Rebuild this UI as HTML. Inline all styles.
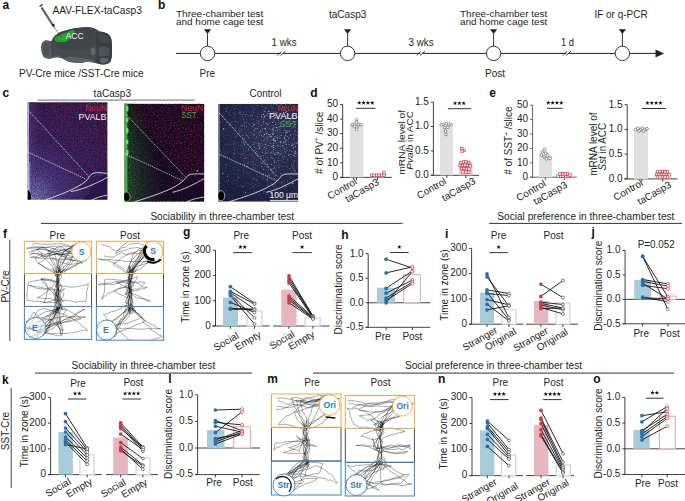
<!DOCTYPE html>
<html><head><meta charset="utf-8"><style>
html,body{margin:0;padding:0;background:#fff;}
svg{display:block;}
text{font-family:"Liberation Sans", sans-serif;}
</style></head><body>
<svg width="685" height="501" viewBox="0 0 685 501" font-family='"Liberation Sans", sans-serif'>
<defs><filter id="nR" x="0" y="0" width="100%" height="100%" color-interpolation-filters="sRGB">
<feTurbulence type="fractalNoise" baseFrequency="0.75" numOctaves="2" seed="4" result="t"/>
<feColorMatrix in="t" type="matrix" values="0 0 0 0 0.6  0 0 0 0 0.08  0 0 0 0 0.3  3.0 0 0 0 -1.4"/></filter>
<filter id="nR2" x="0" y="0" width="100%" height="100%" color-interpolation-filters="sRGB">
<feTurbulence type="fractalNoise" baseFrequency="0.7" numOctaves="2" seed="7" result="t"/>
<feColorMatrix in="t" type="matrix" values="0 0 0 0 0.72  0 0 0 0 0.1  0 0 0 0 0.2  2.8 0 0 0 -1.5"/></filter>
<filter id="nB" x="0" y="0" width="100%" height="100%" color-interpolation-filters="sRGB">
<feTurbulence type="fractalNoise" baseFrequency="0.8" numOctaves="1" seed="9" result="t"/>
<feColorMatrix in="t" type="matrix" values="0 0 0 0 0.28  0 0 0 0 0.22  0 0 0 0 0.62  0 0 3.2 0 -1.35"/></filter>
<filter id="nW" x="0" y="0" width="100%" height="100%" color-interpolation-filters="sRGB">
<feTurbulence type="fractalNoise" baseFrequency="0.9" numOctaves="1" seed="21" result="t"/>
<feColorMatrix in="t" type="matrix" values="0 0 0 0 0.85  0 0 0 0 0.87  0 0 0 0 0.92  0 5 0 0 -3.1"/></filter>
<filter id="nD" x="0" y="0" width="100%" height="100%" color-interpolation-filters="sRGB">
<feTurbulence type="fractalNoise" baseFrequency="0.85" numOctaves="1" seed="13" result="t"/>
<feColorMatrix in="t" type="matrix" values="0 0 0 0 0.05  0 0 0 0 0.03  0 0 0 0 0.1  0 0 0 3 -1.2"/></filter>
<filter id="blur4" x="-30%" y="-30%" width="160%" height="160%"><feGaussianBlur stdDeviation="4"/></filter>
<linearGradient id="mTR" gradientUnits="objectBoundingBox" x1="0" y1="1" x2="0.7" y2="0">
<stop offset="0" stop-color="#fff" stop-opacity="0.15"/><stop offset="0.55" stop-color="#fff" stop-opacity="0.6"/><stop offset="1" stop-color="#fff" stop-opacity="1"/></linearGradient>
<radialGradient id="g1" gradientUnits="userSpaceOnUse" cx="29" cy="200" r="100">
<stop offset="0" stop-color="#b4b4da"/><stop offset="0.12" stop-color="#7a78b4"/><stop offset="0.3" stop-color="#4a4088"/><stop offset="0.6" stop-color="#30245a"/><stop offset="1" stop-color="#261a46"/></radialGradient>
<linearGradient id="g1b" gradientUnits="userSpaceOnUse" x1="27" y1="100" x2="107" y2="100">
<stop offset="0" stop-color="#7a76b8" stop-opacity="0.45"/><stop offset="0.18" stop-color="#4a3c8c" stop-opacity="0"/></linearGradient>
<linearGradient id="g2g" gradientUnits="userSpaceOnUse" x1="124" y1="0" x2="170" y2="0">
<stop offset="0" stop-color="#2a8a3a" stop-opacity="0.85"/><stop offset="0.3" stop-color="#1f6a32" stop-opacity="0.55"/><stop offset="1" stop-color="#1a3a28" stop-opacity="0.05"/></linearGradient>
<linearGradient id="g2v" gradientUnits="userSpaceOnUse" x1="0" y1="104" x2="0" y2="202">
<stop offset="0" stop-color="#000" stop-opacity="0.55"/><stop offset="0.5" stop-color="#000" stop-opacity="0.15"/><stop offset="1" stop-color="#000" stop-opacity="0"/></linearGradient>
<radialGradient id="g3" gradientUnits="userSpaceOnUse" cx="270" cy="140" r="65">
<stop offset="0" stop-color="#2e3752"/><stop offset="1" stop-color="#161c34"/></radialGradient>
<radialGradient id="mW" gradientUnits="userSpaceOnUse" cx="275" cy="135" r="55">
<stop offset="0" stop-color="#fff" stop-opacity="1"/><stop offset="1" stop-color="#fff" stop-opacity="0.25"/></radialGradient></defs>
<rect width="685" height="501" fill="#fff"/>
<text x="2.4" y="8.6" font-size="12" text-anchor="start" font-weight="bold" fill="#111">a</text>
<text x="158" y="8.6" font-size="12" text-anchor="start" font-weight="bold" fill="#111">b</text>
<text x="2.6" y="96.6" font-size="12" text-anchor="start" font-weight="bold" fill="#111">c</text>
<text x="310.2" y="96.8" font-size="12" text-anchor="start" font-weight="bold" fill="#111">d</text>
<text x="489.2" y="96.6" font-size="12" text-anchor="start" font-weight="bold" fill="#111">e</text>
<text x="3" y="238" font-size="12" text-anchor="start" font-weight="bold" fill="#111">f</text>
<text x="183.0" y="236.1" font-size="12" text-anchor="start" font-weight="bold" fill="#111">g</text>
<text x="341.3" y="238.6" font-size="12" text-anchor="start" font-weight="bold" fill="#111">h</text>
<text x="445" y="238.2" font-size="12" text-anchor="start" font-weight="bold" fill="#111">i</text>
<text x="591.6" y="236.2" font-size="12" text-anchor="start" font-weight="bold" fill="#111">j</text>
<text x="2.0" y="383.5" font-size="12" text-anchor="start" font-weight="bold" fill="#111">k</text>
<text x="168.3" y="382.6" font-size="12" text-anchor="start" font-weight="bold" fill="#111">l</text>
<text x="267.2" y="383.4" font-size="12" text-anchor="start" font-weight="bold" fill="#111">m</text>
<text x="438" y="383.4" font-size="12" text-anchor="start" font-weight="bold" fill="#111">n</text>
<text x="593.2" y="383" font-size="12" text-anchor="start" font-weight="bold" fill="#111">o</text>
<g>
<path d="M41.3,46.5 C41.5,43 43.5,40.8 45.5,40.6 C47.5,40.4 49.5,40.8 51,41.2 C52,40 52.5,39 53.2,37.8 C56,34.5 59,32.6 63,31.3 C68,29.6 72,28.4 77,27.9 C81,27.4 85,27.1 88.1,27.3 C92,27.6 94.5,28.4 96.5,29.4 C98,30.3 98.6,31 99.3,31.5 C102.5,31.8 105.5,32.4 107.7,33.8 C110.3,35.8 111.3,38 111.6,41 C112.1,45 112.2,49 111.9,53.1 C111.7,57 111.5,59.5 110.5,61.5 C109,63.5 106.5,64.4 103.5,64.4 C100.5,64.4 97.8,63.7 95.1,62.9 C92.5,62.2 90.3,61.4 88.1,61.5 C85.5,61.7 83.5,62.9 81.2,62.9 C77.5,62.9 74.5,62.6 71.4,62.2 C68,61.6 65.5,60.2 63,58.7 C60.5,57.7 58.5,57.3 56,57.3 C54,57.4 52.2,58.4 50.4,58.7 C48,58.9 45.5,58.2 43.8,57 C42,55 41.2,50.5 41.3,46.5 Z" fill="#454b4f"/>
<path d="M41.3,46.5 C41.5,43 43.5,40.8 45.5,40.6 C47.5,40.4 49.5,40.8 51,41.2 C50.5,43.5 50.3,46 50.6,48.5 C50.9,51.5 51.5,54.5 52.5,57.6 C51.8,58.2 51,58.6 50.4,58.7 C48,58.9 45.5,58.2 43.8,57 C42,55 41.2,50.5 41.3,46.5Z" fill="#565e62"/>
<path d="M43,47 C43.2,44.5 44.5,43 46,42.8 C47.5,42.8 48.5,43.5 48.8,45 C48.9,48 49.2,51 49.8,54.5 C48.5,55.3 46.5,55.3 45,54.6 C43.6,52.8 42.9,50 43,47Z" fill="#4c5357"/>
<path d="M53.2,37.8 C56,34.5 59,32.6 63,31.3 C68,29.6 72,28.4 77,27.9 C81,27.4 85,27.1 88.1,27.3 C92,27.6 94.5,28.4 96.5,29.4 C95,30.5 94.2,33 94,36 C93.8,40 93.6,44 93.7,46.2 C90,48 84,49.5 78,50 C70,50.5 62,49.5 56,47 C54.5,44 53.6,41 53.2,37.8Z" fill="#3f4549"/>
<path d="M96.5,29.4 C98,30.3 98.6,31 99.3,31.5 C102.5,31.8 105.5,32.4 107.7,33.8 C110.3,35.8 111.3,38 111.6,41 C112.1,45 112.2,49 111.9,53.1 C111.7,57 111.5,59.5 110.5,61.5 C109,63.5 106.5,64.4 103.5,64.4 C100.5,64.4 97.8,63.7 95.6,62.6 C96.5,58 96.8,53 96.2,48 C95.5,42 95,36 96.5,29.4Z" fill="#383e42"/>
<path d="M99,34 C102,33.5 105.5,34.5 107.5,36.5 C109,38.5 109.5,41 109.5,43.5 C106.5,43 103,42.5 100,43 C99,40 98.6,37 99,34Z" fill="#41474b"/>
<path d="M99,47 C102,46 106,46.5 109.5,48 C110,51 109.8,54 109,56.5 C106,55.8 102.5,56 99.5,57 C98.8,53.5 98.6,50 99,47Z" fill="#4d5458"/>
<path d="M100,58.5 C103,57.8 106.5,58 108.8,59.2 C108,61.8 106,63.2 103.5,63.3 C101.5,63.3 100.5,62.5 100,61Z" fill="#5b6367"/>
<path d="M91,48 C92.8,47 94.8,47.3 95.4,49 C95.8,51.5 95.4,54 94.2,55.5 C92.5,55.8 91.2,54.5 90.8,52.5 C90.6,51 90.6,49.5 91,48Z" fill="#5e666a"/>
<path d="M63,58.7 C66,57 70,56.5 74,57 C79,57.5 84,58.5 88,59 C90.5,59.3 92.5,60 94,61 C93,62.5 92,62.8 91,62.5 C90,61.8 89,61.4 88.1,61.5 C85.5,61.7 83.5,62.9 81.2,62.9 C77.5,62.9 74.5,62.6 71.4,62.2 C68,61.6 65.5,60.2 63,58.7Z" fill="#5a6266"/>
<path d="M52.5,57.6 C54,55.5 56.5,54.5 59,55 C61,55.5 62.2,57 63,58.7 C60.5,57.7 58.5,57.3 56,57.3 C54.5,57.4 53.5,57.5 52.5,57.6Z" fill="#52595d"/>
<path d="M54.6,37.3 C57,36 59,35.2 61.3,34.5 C65,33 70,30.8 73.5,30.1 C74.4,30.3 74.8,30.8 74.6,31.5 C73.5,33.5 72.5,35.8 71.3,37.3 C70,38.8 69,39.8 68,40.6 C66.5,41.5 65,42 63.5,42.3 C61,42.4 58,42.2 55.8,41.8 C54.8,40.5 54.3,38.5 54.6,37.3Z" fill="#27a12a"/>
<path d="M58,38.5 C61,37 65,35.5 69,34 C67.5,36.5 66,38.5 63.5,40 C61.5,40.5 59.5,40 58,38.5Z" fill="#33b236" opacity="0.6"/>
</g>
<line x1="53" y1="25.5" x2="61.6" y2="37.8" stroke="#2a2a2a" stroke-width="0.55"/>
<line x1="41.6" y1="7.6" x2="53.4" y2="26" stroke="#9a9a9a" stroke-width="2.0"/>
<line x1="41.6" y1="7.6" x2="53.4" y2="26" stroke="#1a1a1a" stroke-width="2.0" stroke-dasharray="0.5 0.6"/>
<line x1="39.6" y1="6.6" x2="42.6" y2="4.6" stroke="#1a1a1a" stroke-width="1.2"/>
<path d="M51.6,25.2 L54.4,23.4 L54.6,27.6 Z" fill="#1a1a1a"/>
<text x="65.7" y="38.6" font-size="8.6" text-anchor="start" font-weight="normal" fill="#f4f4f4" textLength="17.8" lengthAdjust="spacingAndGlyphs">ACC</text>
<text x="52.4" y="14" font-size="10" text-anchor="start" font-weight="normal" fill="#231f20" textLength="89.6" lengthAdjust="spacingAndGlyphs">AAV-FLEX-taCasp3</text>
<text x="19" y="77" font-size="10" text-anchor="start" font-weight="normal" fill="#231f20" textLength="124.6" lengthAdjust="spacingAndGlyphs">PV-Cre mice /SST-Cre mice</text>
<line x1="176.00" y1="53.40" x2="657.00" y2="53.40" stroke="#231f20" stroke-width="1"/>
<path d="M655.5,49.4 L664,53.4 L655.5,57.4 Z" fill="#231f20"/>
<circle cx="207.50" cy="53.40" r="7.20" fill="white" stroke="#231f20" stroke-width="0.9"/>
<line x1="207.50" y1="33.50" x2="207.50" y2="46.20" stroke="#231f20" stroke-width="0.9"/>
<path d="M203.9,29.2 L211.1,29.2 L207.5,33.9 Z" fill="#231f20"/>
<circle cx="347.60" cy="53.40" r="7.20" fill="white" stroke="#231f20" stroke-width="0.9"/>
<line x1="347.60" y1="33.50" x2="347.60" y2="46.20" stroke="#231f20" stroke-width="0.9"/>
<path d="M344.0,29.2 L351.20000000000005,29.2 L347.6,33.9 Z" fill="#231f20"/>
<circle cx="493.60" cy="53.40" r="7.20" fill="white" stroke="#231f20" stroke-width="0.9"/>
<line x1="493.60" y1="33.50" x2="493.60" y2="46.20" stroke="#231f20" stroke-width="0.9"/>
<path d="M490.0,29.2 L497.20000000000005,29.2 L493.6,33.9 Z" fill="#231f20"/>
<circle cx="622.40" cy="53.40" r="7.20" fill="white" stroke="#231f20" stroke-width="0.9"/>
<line x1="622.40" y1="33.50" x2="622.40" y2="46.20" stroke="#231f20" stroke-width="0.9"/>
<path d="M618.8,29.2 L626.0,29.2 L622.4,33.9 Z" fill="#231f20"/>
<path d="M279.6,55.0 L282.1,51.8 L283.9,51.8 L281.4,55.0 Z" fill="white"/>
<line x1="277.40" y1="55.50" x2="281.40" y2="51.30" stroke="#231f20" stroke-width="0.9"/>
<line x1="280.60" y1="55.50" x2="285.40" y2="51.30" stroke="#231f20" stroke-width="0.9"/>
<path d="M419.1,55.0 L421.6,51.8 L423.4,51.8 L420.9,55.0 Z" fill="white"/>
<line x1="416.90" y1="55.50" x2="420.90" y2="51.30" stroke="#231f20" stroke-width="0.9"/>
<line x1="420.10" y1="55.50" x2="424.90" y2="51.30" stroke="#231f20" stroke-width="0.9"/>
<path d="M565.1,55.0 L567.6,51.8 L569.4,51.8 L566.9,55.0 Z" fill="white"/>
<line x1="562.90" y1="55.50" x2="566.90" y2="51.30" stroke="#231f20" stroke-width="0.9"/>
<line x1="566.10" y1="55.50" x2="570.90" y2="51.30" stroke="#231f20" stroke-width="0.9"/>
<text x="176" y="17.4" font-size="9.6" text-anchor="start" font-weight="normal" fill="#231f20" textLength="87.4" lengthAdjust="spacingAndGlyphs">Three-chamber test</text>
<text x="176" y="25" font-size="9.6" text-anchor="start" font-weight="normal" fill="#231f20" textLength="87.4" lengthAdjust="spacingAndGlyphs">and home cage test</text>
<text x="460" y="17.4" font-size="9.6" text-anchor="start" font-weight="normal" fill="#231f20" textLength="87.4" lengthAdjust="spacingAndGlyphs">Three-chamber test</text>
<text x="460" y="25" font-size="9.6" text-anchor="start" font-weight="normal" fill="#231f20" textLength="87.4" lengthAdjust="spacingAndGlyphs">and home cage test</text>
<text x="329" y="17.6" font-size="10" text-anchor="start" font-weight="normal" fill="#231f20" textLength="37.4" lengthAdjust="spacingAndGlyphs">taCasp3</text>
<text x="594.4" y="17.6" font-size="10" text-anchor="start" font-weight="normal" fill="#231f20" textLength="53.2" lengthAdjust="spacingAndGlyphs">IF or q-PCR</text>
<text x="207.3" y="76.8" font-size="10" text-anchor="middle" font-weight="normal" fill="#231f20">Pre</text>
<text x="495" y="76.6" font-size="10" text-anchor="middle" font-weight="normal" fill="#231f20">Post</text>
<text x="271.5" y="45.5" font-size="10" text-anchor="start" font-weight="normal" fill="#231f20" textLength="25.1" lengthAdjust="spacingAndGlyphs">1 wks</text>
<text x="408.5" y="45.5" font-size="10" text-anchor="start" font-weight="normal" fill="#231f20" textLength="25.1" lengthAdjust="spacingAndGlyphs">3 wks</text>
<text x="561" y="45.5" font-size="10" text-anchor="start" font-weight="normal" fill="#231f20" textLength="13" lengthAdjust="spacingAndGlyphs">1 d</text>
<text x="93.6" y="96.5" font-size="10" text-anchor="start" font-weight="normal" fill="#231f20" textLength="37.4" lengthAdjust="spacingAndGlyphs">taCasp3</text>
<text x="249.6" y="97" font-size="10" text-anchor="start" font-weight="normal" fill="#231f20" textLength="31.8" lengthAdjust="spacingAndGlyphs">Control</text>
<line x1="37.90" y1="100.10" x2="194.60" y2="100.10" stroke="#8a8a8a" stroke-width="1.1"/>
<clipPath id="c1"><rect x="27.5" y="102.2" width="80.0" height="97.60000000000001"/></clipPath>
<mask id="m1" maskUnits="userSpaceOnUse" x="27.5" y="102.2" width="80.0" height="97.60000000000001"><rect x="27.5" y="102.2" width="80.0" height="97.60000000000001" fill="url(#mTR)"/></mask>
<g clip-path="url(#c1)">
<rect x="27.50" y="102.20" width="80.00" height="97.60" fill="url(#g1)" stroke="none" stroke-width="1"/>
<rect x="27.50" y="102.20" width="80.00" height="97.60" fill="url(#g1b)" stroke="none" stroke-width="1"/>
<rect x="27.5" y="102.2" width="80.0" height="97.60000000000001" filter="url(#nB)" opacity="0.55"/>
<rect x="27.5" y="102.2" width="80.0" height="97.60000000000001" filter="url(#nD)" opacity="0.5"/>
<rect x="27.5" y="102.2" width="80.0" height="97.60000000000001" filter="url(#nR)" mask="url(#m1)"/>
<path d="M82.5,199.8 C95.5,191.8 87.5,181.8 107.5,173.8 L107.5,199.8 Z" fill="#1a1240" opacity="0.55"/>
<rect x="27.50" y="102.20" width="1.30" height="97.60" fill="#d0ccf0" stroke="none" stroke-width="1"/>
<rect x="28.80" y="162.20" width="1.50" height="37.60" fill="#a8a0e0" stroke="none" stroke-width="1" opacity="0.6"/>
<path d="M27.5,189.8 C31.5,191.8 31.5,197.8 30.5,199.8 L27.5,199.8 Z" fill="#000"/>
</g>
<clipPath id="c2"><rect x="124.2" y="103.8" width="80.10000000000001" height="97.89999999999999"/></clipPath>
<mask id="m2" maskUnits="userSpaceOnUse" x="124.2" y="103.8" width="80.10000000000001" height="97.89999999999999"><rect x="124.2" y="103.8" width="80.10000000000001" height="97.89999999999999" fill="url(#mTR)"/></mask>
<g clip-path="url(#c2)">
<rect x="124.20" y="103.80" width="80.10" height="97.90" fill="#140c26" stroke="none" stroke-width="1"/>
<g filter="url(#blur4)"><path d="M119.2,103.8 L136.2,103.8 L152.2,153.8 L174.2,206.7 L119.2,206.7 Z" fill="url(#g2g)"/>
<path d="M119.2,98.8 L136.2,98.8 L152.2,153.8 L174.2,206.7 L119.2,206.7 Z" fill="url(#g2v)"/></g>
<rect x="124.2" y="103.8" width="80.10000000000001" height="97.89999999999999" filter="url(#nD)" opacity="0.8"/>
<mask id="m2b" maskUnits="userSpaceOnUse" x="124.2" y="103.8" width="80.10000000000001" height="97.89999999999999"><path d="M132.2,99.8 L208.3,99.8 L208.3,175.8 L184.2,177.8 L130.2,111.8 Z" fill="#fff" filter="url(#blur4)"/></mask>
<rect x="124.2" y="103.8" width="80.10000000000001" height="97.89999999999999" filter="url(#nR2)" mask="url(#m2b)"/>
<rect x="124.2" y="103.8" width="80.10000000000001" height="97.89999999999999" filter="url(#nR)" opacity="0.35"/>
<rect x="124.20" y="103.80" width="1.40" height="97.90" fill="#a8b8a8" stroke="none" stroke-width="1"/>
<rect x="125.60" y="103.80" width="1.80" height="97.90" fill="#3cc83c" stroke="none" stroke-width="1" opacity="0.85"/>
<ellipse cx="127.2" cy="108.5" rx="1.3" ry="2.9" fill="#50f050"/>
<ellipse cx="127.2" cy="120.0" rx="1.3" ry="2.4" fill="#50f050"/>
<ellipse cx="127.2" cy="130.5" rx="1.3" ry="2.9" fill="#50f050"/>
<ellipse cx="127.2" cy="142.0" rx="1.3" ry="2.4" fill="#50f050"/>
<ellipse cx="127.2" cy="152.5" rx="1.3" ry="2.9" fill="#50f050"/>
<circle cx="197.20" cy="170.90" r="0.80" fill="#40e040" stroke="none" stroke-width="1"/>
<ellipse cx="126.7" cy="196.7" rx="3.4" ry="4.6" fill="#000" stroke="#6ae06a" stroke-width="0.8"/>
</g>
<clipPath id="c3"><rect x="218.2" y="103.8" width="80.10000000000002" height="97.89999999999999"/></clipPath>
<mask id="m3" maskUnits="userSpaceOnUse" x="218.2" y="103.8" width="80.10000000000002" height="97.89999999999999"><rect x="218.2" y="103.8" width="80.10000000000002" height="97.89999999999999" fill="url(#mW)"/></mask>
<g clip-path="url(#c3)">
<rect x="218.20" y="103.80" width="80.10" height="97.90" fill="url(#g3)" stroke="none" stroke-width="1"/>
<rect x="218.2" y="103.8" width="80.10000000000002" height="97.89999999999999" filter="url(#nB)" opacity="0.35"/>
<circle cx="255.5" cy="153.5" r="0.36" fill="#902038" opacity="0.74"/>
<circle cx="267.4" cy="122.0" r="0.34" fill="#902038" opacity="0.90"/>
<circle cx="223.0" cy="122.4" r="0.31" fill="#c83050" opacity="0.66"/>
<circle cx="265.5" cy="122.9" r="0.39" fill="#b02040" opacity="0.83"/>
<circle cx="243.5" cy="126.3" r="0.32" fill="#b02040" opacity="0.70"/>
<circle cx="286.1" cy="103.9" r="0.57" fill="#c83050" opacity="0.69"/>
<circle cx="275.0" cy="144.9" r="0.36" fill="#902038" opacity="0.63"/>
<circle cx="278.9" cy="115.4" r="0.33" fill="#b02040" opacity="0.73"/>
<circle cx="257.2" cy="170.6" r="0.45" fill="#902038" opacity="0.88"/>
<circle cx="251.8" cy="141.4" r="0.60" fill="#b02040" opacity="0.63"/>
<circle cx="286.6" cy="166.6" r="0.60" fill="#b02040" opacity="0.72"/>
<circle cx="249.1" cy="111.1" r="0.49" fill="#b02040" opacity="0.80"/>
<circle cx="283.7" cy="128.2" r="0.52" fill="#902038" opacity="0.60"/>
<circle cx="252.0" cy="114.0" r="0.59" fill="#b02040" opacity="0.87"/>
<circle cx="249.6" cy="145.0" r="0.45" fill="#902038" opacity="0.59"/>
<circle cx="275.9" cy="110.5" r="0.47" fill="#902038" opacity="0.81"/>
<circle cx="240.6" cy="193.6" r="0.30" fill="#c83050" opacity="0.71"/>
<circle cx="238.2" cy="108.4" r="0.46" fill="#b02040" opacity="0.55"/>
<circle cx="229.3" cy="147.9" r="0.52" fill="#902038" opacity="0.79"/>
<circle cx="229.4" cy="107.2" r="0.57" fill="#902038" opacity="0.66"/>
<circle cx="220.9" cy="162.4" r="0.32" fill="#c83050" opacity="0.66"/>
<circle cx="248.8" cy="160.8" r="0.32" fill="#902038" opacity="0.56"/>
<circle cx="238.8" cy="144.6" r="0.58" fill="#902038" opacity="0.79"/>
<circle cx="253.5" cy="185.9" r="0.53" fill="#b02040" opacity="0.66"/>
<circle cx="258.1" cy="127.4" r="0.38" fill="#902038" opacity="0.72"/>
<circle cx="249.0" cy="160.9" r="0.34" fill="#c83050" opacity="0.68"/>
<circle cx="289.9" cy="107.8" r="0.59" fill="#b02040" opacity="0.56"/>
<circle cx="248.8" cy="154.7" r="0.51" fill="#902038" opacity="0.73"/>
<circle cx="243.0" cy="181.3" r="0.34" fill="#c83050" opacity="0.59"/>
<circle cx="282.0" cy="200.1" r="0.33" fill="#902038" opacity="0.83"/>
<circle cx="234.2" cy="150.3" r="0.30" fill="#c83050" opacity="0.77"/>
<circle cx="274.3" cy="125.7" r="0.57" fill="#c83050" opacity="0.56"/>
<circle cx="246.1" cy="111.9" r="0.47" fill="#c83050" opacity="0.74"/>
<circle cx="220.5" cy="183.0" r="0.54" fill="#b02040" opacity="0.77"/>
<circle cx="263.2" cy="119.9" r="0.57" fill="#c83050" opacity="0.66"/>
<circle cx="260.2" cy="159.9" r="0.46" fill="#902038" opacity="0.50"/>
<circle cx="248.4" cy="156.5" r="0.58" fill="#902038" opacity="0.90"/>
<circle cx="263.3" cy="151.9" r="0.32" fill="#902038" opacity="0.73"/>
<circle cx="237.9" cy="152.1" r="0.57" fill="#c83050" opacity="0.76"/>
<circle cx="226.9" cy="144.9" r="0.38" fill="#902038" opacity="0.89"/>
<circle cx="220.0" cy="122.8" r="0.51" fill="#c83050" opacity="0.86"/>
<circle cx="237.8" cy="152.6" r="0.47" fill="#902038" opacity="0.81"/>
<circle cx="261.0" cy="125.2" r="0.46" fill="#902038" opacity="0.93"/>
<circle cx="290.5" cy="134.7" r="0.58" fill="#b02040" opacity="0.89"/>
<circle cx="228.8" cy="112.4" r="0.43" fill="#c83050" opacity="0.77"/>
<circle cx="274.6" cy="165.9" r="0.60" fill="#b02040" opacity="0.90"/>
<circle cx="233.4" cy="115.1" r="0.35" fill="#c83050" opacity="0.96"/>
<circle cx="255.2" cy="178.7" r="0.44" fill="#902038" opacity="0.68"/>
<circle cx="235.0" cy="140.3" r="0.31" fill="#b02040" opacity="0.59"/>
<circle cx="233.8" cy="120.0" r="0.30" fill="#b02040" opacity="0.90"/>
<circle cx="250.6" cy="162.5" r="0.59" fill="#c83050" opacity="0.64"/>
<circle cx="227.5" cy="176.5" r="0.58" fill="#b02040" opacity="0.95"/>
<circle cx="223.9" cy="137.3" r="0.30" fill="#c83050" opacity="1.00"/>
<circle cx="295.2" cy="133.1" r="0.42" fill="#b02040" opacity="0.77"/>
<circle cx="238.8" cy="143.1" r="0.36" fill="#c83050" opacity="0.51"/>
<circle cx="238.9" cy="130.8" r="0.46" fill="#c83050" opacity="0.98"/>
<circle cx="231.0" cy="150.0" r="0.45" fill="#902038" opacity="0.80"/>
<circle cx="252.6" cy="152.2" r="0.42" fill="#c83050" opacity="0.68"/>
<circle cx="240.9" cy="174.0" r="0.30" fill="#b02040" opacity="0.79"/>
<circle cx="222.4" cy="134.7" r="0.47" fill="#902038" opacity="0.97"/>
<circle cx="256.5" cy="199.1" r="0.46" fill="#902038" opacity="0.95"/>
<circle cx="229.8" cy="197.8" r="0.51" fill="#b02040" opacity="0.81"/>
<circle cx="254.7" cy="123.7" r="0.46" fill="#b02040" opacity="0.68"/>
<circle cx="229.4" cy="144.6" r="0.49" fill="#902038" opacity="0.71"/>
<circle cx="294.5" cy="175.7" r="0.33" fill="#c83050" opacity="0.89"/>
<circle cx="268.3" cy="139.0" r="0.51" fill="#902038" opacity="0.85"/>
<circle cx="233.4" cy="131.1" r="0.59" fill="#902038" opacity="0.99"/>
<circle cx="291.5" cy="189.8" r="0.32" fill="#c83050" opacity="0.63"/>
<circle cx="220.4" cy="107.5" r="0.38" fill="#b02040" opacity="0.96"/>
<circle cx="257.0" cy="138.5" r="0.45" fill="#b02040" opacity="0.92"/>
<circle cx="268.2" cy="179.1" r="0.43" fill="#c83050" opacity="0.70"/>
<circle cx="264.7" cy="149.0" r="0.46" fill="#c83050" opacity="0.78"/>
<circle cx="257.0" cy="170.9" r="0.53" fill="#b02040" opacity="0.66"/>
<circle cx="257.8" cy="178.6" r="0.56" fill="#b02040" opacity="0.68"/>
<circle cx="276.4" cy="139.7" r="0.51" fill="#902038" opacity="0.80"/>
<circle cx="249.5" cy="119.0" r="0.35" fill="#b02040" opacity="0.88"/>
<circle cx="288.8" cy="131.4" r="0.45" fill="#902038" opacity="0.58"/>
<circle cx="252.1" cy="160.8" r="0.46" fill="#c83050" opacity="0.54"/>
<circle cx="277.2" cy="191.8" r="0.49" fill="#b02040" opacity="0.55"/>
<circle cx="255.0" cy="138.1" r="0.40" fill="#b02040" opacity="0.75"/>
<circle cx="282.5" cy="145.1" r="0.34" fill="#902038" opacity="0.58"/>
<circle cx="269.1" cy="170.8" r="0.42" fill="#902038" opacity="0.65"/>
<circle cx="265.0" cy="192.8" r="0.33" fill="#b02040" opacity="0.68"/>
<circle cx="265.3" cy="162.5" r="0.45" fill="#c83050" opacity="0.59"/>
<circle cx="294.9" cy="151.0" r="0.31" fill="#b02040" opacity="0.90"/>
<circle cx="249.0" cy="155.5" r="0.38" fill="#b02040" opacity="0.83"/>
<circle cx="266.7" cy="119.2" r="0.40" fill="#c83050" opacity="0.95"/>
<circle cx="267.8" cy="154.3" r="0.47" fill="#b02040" opacity="0.50"/>
<circle cx="226.0" cy="150.8" r="0.59" fill="#902038" opacity="0.77"/>
<circle cx="258.7" cy="105.7" r="0.36" fill="#902038" opacity="0.55"/>
<circle cx="243.1" cy="134.2" r="0.39" fill="#c83050" opacity="0.83"/>
<circle cx="223.6" cy="111.1" r="0.50" fill="#902038" opacity="0.73"/>
<circle cx="237.2" cy="159.0" r="0.30" fill="#902038" opacity="0.60"/>
<circle cx="267.5" cy="132.2" r="0.46" fill="#c83050" opacity="0.98"/>
<circle cx="278.7" cy="158.2" r="0.36" fill="#c83050" opacity="0.87"/>
<circle cx="225.6" cy="117.6" r="0.50" fill="#902038" opacity="0.59"/>
<circle cx="274.6" cy="113.6" r="0.60" fill="#c83050" opacity="0.70"/>
<circle cx="284.0" cy="141.6" r="0.42" fill="#b02040" opacity="0.86"/>
<circle cx="239.1" cy="122.3" r="0.43" fill="#902038" opacity="0.69"/>
<circle cx="268.4" cy="123.2" r="0.37" fill="#902038" opacity="0.71"/>
<circle cx="278.9" cy="139.3" r="0.48" fill="#b02040" opacity="0.73"/>
<circle cx="269.5" cy="178.5" r="0.42" fill="#b02040" opacity="0.57"/>
<circle cx="249.1" cy="159.6" r="0.46" fill="#c83050" opacity="0.62"/>
<circle cx="258.1" cy="113.8" r="0.57" fill="#902038" opacity="0.78"/>
<circle cx="284.3" cy="115.3" r="0.58" fill="#c83050" opacity="0.76"/>
<circle cx="242.6" cy="161.9" r="0.34" fill="#c83050" opacity="0.62"/>
<circle cx="247.7" cy="157.3" r="0.35" fill="#902038" opacity="0.87"/>
<circle cx="263.6" cy="192.2" r="0.54" fill="#b02040" opacity="0.94"/>
<circle cx="264.3" cy="148.2" r="0.52" fill="#b02040" opacity="0.66"/>
<circle cx="250.0" cy="138.7" r="0.31" fill="#b02040" opacity="0.73"/>
<circle cx="243.3" cy="135.6" r="0.53" fill="#c83050" opacity="0.94"/>
<circle cx="280.6" cy="144.4" r="0.56" fill="#b02040" opacity="0.86"/>
<circle cx="233.9" cy="121.5" r="0.50" fill="#c83050" opacity="0.69"/>
<circle cx="260.5" cy="155.8" r="0.48" fill="#c83050" opacity="0.77"/>
<circle cx="252.1" cy="159.5" r="0.60" fill="#b02040" opacity="0.62"/>
<circle cx="240.6" cy="157.5" r="0.57" fill="#b02040" opacity="0.81"/>
<circle cx="291.6" cy="161.1" r="0.57" fill="#b02040" opacity="0.59"/>
<circle cx="262.7" cy="166.9" r="0.50" fill="#b02040" opacity="0.76"/>
<circle cx="259.9" cy="197.0" r="0.53" fill="#b02040" opacity="0.56"/>
<circle cx="266.5" cy="129.4" r="0.59" fill="#b02040" opacity="0.79"/>
<circle cx="288.1" cy="121.4" r="0.31" fill="#c83050" opacity="0.90"/>
<circle cx="220.7" cy="115.0" r="0.49" fill="#902038" opacity="0.90"/>
<circle cx="237.3" cy="118.1" r="0.31" fill="#c83050" opacity="0.91"/>
<circle cx="258.1" cy="167.4" r="0.41" fill="#b02040" opacity="0.58"/>
<circle cx="223.1" cy="144.0" r="0.36" fill="#b02040" opacity="0.56"/>
<circle cx="278.7" cy="162.6" r="0.52" fill="#902038" opacity="0.87"/>
<circle cx="229.5" cy="142.3" r="0.43" fill="#b02040" opacity="0.99"/>
<circle cx="267.3" cy="132.7" r="0.56" fill="#c83050" opacity="0.73"/>
<circle cx="296.8" cy="163.6" r="0.42" fill="#902038" opacity="1.00"/>
<circle cx="289.0" cy="194.3" r="0.56" fill="#b02040" opacity="0.69"/>
<circle cx="280.8" cy="124.9" r="0.36" fill="#902038" opacity="0.90"/>
<circle cx="256.7" cy="143.0" r="0.53" fill="#c83050" opacity="0.72"/>
<circle cx="234.6" cy="141.3" r="0.51" fill="#c83050" opacity="0.97"/>
<circle cx="235.6" cy="113.9" r="0.52" fill="#c83050" opacity="0.57"/>
<circle cx="237.5" cy="186.0" r="0.60" fill="#c83050" opacity="0.72"/>
<circle cx="286.6" cy="141.1" r="0.56" fill="#902038" opacity="0.53"/>
<circle cx="249.8" cy="127.1" r="0.35" fill="#902038" opacity="0.56"/>
<circle cx="234.9" cy="144.0" r="0.51" fill="#902038" opacity="0.85"/>
<circle cx="230.0" cy="123.9" r="0.51" fill="#c83050" opacity="0.57"/>
<circle cx="259.6" cy="138.6" r="0.41" fill="#902038" opacity="0.61"/>
<circle cx="294.7" cy="188.8" r="0.49" fill="#b02040" opacity="0.90"/>
<circle cx="227.8" cy="152.1" r="0.58" fill="#c83050" opacity="0.75"/>
<circle cx="240.6" cy="119.3" r="0.44" fill="#b02040" opacity="0.68"/>
<circle cx="291.5" cy="192.2" r="0.57" fill="#c83050" opacity="0.64"/>
<circle cx="275.8" cy="190.5" r="0.31" fill="#c83050" opacity="0.95"/>
<circle cx="263.5" cy="129.4" r="0.36" fill="#c83050" opacity="0.69"/>
<circle cx="245.5" cy="191.7" r="0.51" fill="#b02040" opacity="0.89"/>
<circle cx="268.4" cy="164.6" r="0.42" fill="#c83050" opacity="0.53"/>
<circle cx="240.1" cy="152.3" r="0.31" fill="#902038" opacity="0.60"/>
<circle cx="236.5" cy="170.4" r="0.30" fill="#902038" opacity="0.99"/>
<circle cx="239.4" cy="114.0" r="0.54" fill="#b02040" opacity="0.85"/>
<circle cx="263.4" cy="140.0" r="0.52" fill="#902038" opacity="0.75"/>
<circle cx="251.3" cy="151.0" r="0.42" fill="#902038" opacity="0.90"/>
<circle cx="249.6" cy="173.9" r="0.51" fill="#c83050" opacity="0.59"/>
<circle cx="228.3" cy="176.3" r="0.35" fill="#b02040" opacity="0.69"/>
<circle cx="271.8" cy="126.4" r="0.30" fill="#902038" opacity="0.85"/>
<circle cx="239.9" cy="128.5" r="0.42" fill="#902038" opacity="0.99"/>
<circle cx="222.1" cy="173.6" r="0.31" fill="#c83050" opacity="0.68"/>
<circle cx="287.9" cy="167.4" r="0.52" fill="#c83050" opacity="0.88"/>
<circle cx="261.9" cy="182.1" r="0.35" fill="#b02040" opacity="0.78"/>
<circle cx="263.8" cy="130.6" r="0.40" fill="#b02040" opacity="0.74"/>
<circle cx="247.5" cy="129.2" r="0.32" fill="#c83050" opacity="0.84"/>
<circle cx="218.5" cy="136.7" r="0.54" fill="#c83050" opacity="0.74"/>
<circle cx="285.0" cy="174.8" r="0.31" fill="#b02040" opacity="0.77"/>
<circle cx="272.3" cy="130.3" r="0.47" fill="#b02040" opacity="0.76"/>
<circle cx="250.4" cy="172.8" r="0.57" fill="#b02040" opacity="0.50"/>
<circle cx="268.4" cy="147.8" r="0.32" fill="#902038" opacity="0.66"/>
<circle cx="272.7" cy="121.2" r="0.34" fill="#c83050" opacity="0.59"/>
<circle cx="220.0" cy="142.9" r="0.33" fill="#902038" opacity="0.92"/>
<circle cx="279.2" cy="105.8" r="0.32" fill="#902038" opacity="0.55"/>
<circle cx="235.8" cy="143.8" r="0.35" fill="#c83050" opacity="0.53"/>
<circle cx="280.5" cy="155.2" r="0.52" fill="#902038" opacity="0.69"/>
<circle cx="258.6" cy="159.4" r="0.55" fill="#902038" opacity="0.87"/>
<circle cx="258.4" cy="140.6" r="0.31" fill="#b02040" opacity="0.76"/>
<circle cx="254.4" cy="131.6" r="0.32" fill="#c83050" opacity="0.58"/>
<circle cx="250.4" cy="188.7" r="0.60" fill="#c83050" opacity="0.56"/>
<circle cx="229.6" cy="115.0" r="0.38" fill="#c83050" opacity="0.53"/>
<circle cx="287.5" cy="123.0" r="0.49" fill="#b02040" opacity="0.55"/>
<circle cx="224.0" cy="152.4" r="0.56" fill="#b02040" opacity="0.90"/>
<circle cx="230.4" cy="139.6" r="0.31" fill="#c83050" opacity="0.98"/>
<circle cx="235.8" cy="132.0" r="0.48" fill="#b02040" opacity="0.92"/>
<circle cx="267.6" cy="192.1" r="0.60" fill="#b02040" opacity="0.77"/>
<circle cx="294.0" cy="168.2" r="0.36" fill="#b02040" opacity="0.59"/>
<circle cx="264.7" cy="107.8" r="0.38" fill="#c83050" opacity="0.81"/>
<circle cx="243.1" cy="143.8" r="0.49" fill="#c83050" opacity="0.69"/>
<circle cx="267.3" cy="131.1" r="0.34" fill="#b02040" opacity="0.67"/>
<circle cx="266.4" cy="147.7" r="0.43" fill="#c83050" opacity="0.79"/>
<circle cx="219.2" cy="163.6" r="0.41" fill="#902038" opacity="0.95"/>
<circle cx="238.4" cy="145.0" r="0.55" fill="#902038" opacity="0.55"/>
<circle cx="270.9" cy="148.2" r="0.54" fill="#b02040" opacity="0.69"/>
<circle cx="276.1" cy="169.3" r="0.57" fill="#b02040" opacity="0.83"/>
<circle cx="230.7" cy="110.9" r="0.45" fill="#c83050" opacity="0.84"/>
<circle cx="223.5" cy="149.1" r="0.50" fill="#b02040" opacity="0.76"/>
<circle cx="252.9" cy="119.1" r="0.41" fill="#b02040" opacity="0.55"/>
<circle cx="263.4" cy="110.4" r="0.50" fill="#902038" opacity="0.76"/>
<circle cx="241.7" cy="179.9" r="0.42" fill="#b02040" opacity="0.99"/>
<circle cx="265.4" cy="120.5" r="0.34" fill="#b02040" opacity="0.90"/>
<circle cx="258.6" cy="117.9" r="0.35" fill="#902038" opacity="0.81"/>
<circle cx="277.0" cy="173.6" r="0.46" fill="#b02040" opacity="0.70"/>
<circle cx="242.2" cy="124.8" r="0.50" fill="#c83050" opacity="0.66"/>
<circle cx="290.6" cy="142.4" r="0.52" fill="#c83050" opacity="0.61"/>
<circle cx="270.2" cy="136.5" r="0.39" fill="#902038" opacity="0.53"/>
<circle cx="260.5" cy="157.4" r="0.37" fill="#b02040" opacity="0.86"/>
<circle cx="248.1" cy="161.9" r="0.51" fill="#c83050" opacity="0.98"/>
<circle cx="247.5" cy="162.3" r="0.39" fill="#902038" opacity="0.88"/>
<circle cx="222.7" cy="121.8" r="0.53" fill="#c83050" opacity="0.53"/>
<circle cx="225.6" cy="128.5" r="0.54" fill="#c83050" opacity="0.82"/>
<circle cx="226.0" cy="142.6" r="0.38" fill="#b02040" opacity="0.66"/>
<circle cx="222.7" cy="178.6" r="0.49" fill="#902038" opacity="0.57"/>
<circle cx="284.2" cy="150.7" r="0.49" fill="#b02040" opacity="0.59"/>
<circle cx="224.9" cy="170.9" r="0.53" fill="#902038" opacity="0.72"/>
<circle cx="271.6" cy="157.5" r="0.34" fill="#c83050" opacity="0.85"/>
<circle cx="226.0" cy="135.5" r="0.58" fill="#b02040" opacity="0.94"/>
<circle cx="256.0" cy="106.9" r="0.41" fill="#902038" opacity="0.85"/>
<circle cx="257.8" cy="146.6" r="0.45" fill="#c83050" opacity="0.55"/>
<circle cx="234.4" cy="137.7" r="0.40" fill="#902038" opacity="0.90"/>
<circle cx="273.0" cy="148.1" r="0.44" fill="#902038" opacity="0.57"/>
<circle cx="274.6" cy="142.6" r="0.45" fill="#902038" opacity="0.63"/>
<circle cx="276.7" cy="160.1" r="0.32" fill="#c83050" opacity="0.69"/>
<circle cx="254.7" cy="151.5" r="0.53" fill="#b02040" opacity="0.84"/>
<circle cx="246.4" cy="119.4" r="0.45" fill="#c83050" opacity="0.98"/>
<circle cx="279.5" cy="182.7" r="0.54" fill="#b02040" opacity="0.99"/>
<circle cx="231.3" cy="122.4" r="0.60" fill="#c83050" opacity="0.84"/>
<circle cx="239.4" cy="128.2" r="0.46" fill="#c83050" opacity="0.83"/>
<circle cx="241.1" cy="158.7" r="0.32" fill="#b02040" opacity="0.64"/>
<circle cx="280.3" cy="129.2" r="0.58" fill="#c83050" opacity="0.83"/>
<circle cx="261.7" cy="150.9" r="0.40" fill="#b02040" opacity="0.97"/>
<circle cx="258.7" cy="159.2" r="0.37" fill="#902038" opacity="0.56"/>
<circle cx="293.5" cy="168.1" r="0.57" fill="#b02040" opacity="0.97"/>
<circle cx="271.4" cy="117.6" r="0.34" fill="#902038" opacity="0.99"/>
<circle cx="253.2" cy="170.3" r="0.51" fill="#902038" opacity="0.75"/>
<circle cx="257.1" cy="111.5" r="0.47" fill="#902038" opacity="0.54"/>
<circle cx="290.2" cy="128.9" r="0.38" fill="#b02040" opacity="0.99"/>
<circle cx="267.3" cy="195.2" r="0.46" fill="#b02040" opacity="0.55"/>
<circle cx="251.4" cy="118.4" r="0.48" fill="#902038" opacity="0.88"/>
<circle cx="271.9" cy="111.9" r="0.59" fill="#b02040" opacity="0.99"/>
<circle cx="285.0" cy="143.7" r="0.40" fill="#b02040" opacity="0.95"/>
<circle cx="237.6" cy="108.5" r="0.52" fill="#902038" opacity="0.84"/>
<circle cx="232.3" cy="118.5" r="0.44" fill="#c83050" opacity="0.59"/>
<circle cx="264.2" cy="159.9" r="0.39" fill="#b02040" opacity="0.65"/>
<circle cx="281.5" cy="156.7" r="0.53" fill="#b02040" opacity="0.72"/>
<circle cx="221.8" cy="158.3" r="0.50" fill="#b02040" opacity="0.96"/>
<circle cx="297.5" cy="141.7" r="0.54" fill="#b02040" opacity="0.67"/>
<circle cx="281.5" cy="141.0" r="0.48" fill="#902038" opacity="0.53"/>
<circle cx="296.2" cy="193.1" r="0.31" fill="#b02040" opacity="0.71"/>
<circle cx="230.9" cy="110.4" r="0.45" fill="#b02040" opacity="0.97"/>
<circle cx="245.6" cy="194.9" r="0.51" fill="#b02040" opacity="0.60"/>
<circle cx="248.0" cy="115.6" r="0.58" fill="#b02040" opacity="0.99"/>
<circle cx="276.3" cy="170.0" r="0.40" fill="#902038" opacity="0.56"/>
<circle cx="260.4" cy="156.7" r="0.53" fill="#902038" opacity="0.63"/>
<circle cx="225.6" cy="167.8" r="0.58" fill="#902038" opacity="0.75"/>
<circle cx="231.0" cy="136.1" r="0.39" fill="#902038" opacity="0.73"/>
<circle cx="222.4" cy="119.7" r="0.52" fill="#b02040" opacity="0.98"/>
<circle cx="267.2" cy="110.0" r="0.40" fill="#b02040" opacity="0.65"/>
<circle cx="247.8" cy="150.1" r="0.40" fill="#c83050" opacity="0.57"/>
<circle cx="264.6" cy="163.8" r="0.48" fill="#c83050" opacity="0.67"/>
<circle cx="286.5" cy="190.1" r="0.45" fill="#c83050" opacity="0.88"/>
<circle cx="250.5" cy="172.5" r="0.49" fill="#902038" opacity="0.84"/>
<circle cx="246.0" cy="158.6" r="0.58" fill="#902038" opacity="0.83"/>
<circle cx="223.1" cy="117.8" r="0.46" fill="#b02040" opacity="0.54"/>
<rect x="218.2" y="103.8" width="80.10000000000002" height="97.89999999999999" filter="url(#nW)" mask="url(#m3)"/>
<circle cx="258.6" cy="145.5" r="0.58" fill="#a0b0c8" opacity="0.93"/>
<circle cx="273.4" cy="147.5" r="0.50" fill="#f0f0f8" opacity="0.84"/>
<circle cx="292.9" cy="166.9" r="0.50" fill="#d8dce8" opacity="0.63"/>
<circle cx="267.1" cy="179.7" r="0.51" fill="#f0f0f8" opacity="0.87"/>
<circle cx="271.8" cy="146.5" r="0.42" fill="#d8dce8" opacity="0.78"/>
<circle cx="249.0" cy="138.4" r="0.35" fill="#f0f0f8" opacity="0.62"/>
<circle cx="267.7" cy="115.3" r="0.43" fill="#a0b0c8" opacity="0.64"/>
<circle cx="237.5" cy="135.9" r="0.32" fill="#b8c4d8" opacity="0.65"/>
<circle cx="294.1" cy="161.2" r="0.30" fill="#d8dce8" opacity="0.59"/>
<circle cx="279.6" cy="109.4" r="0.47" fill="#b8c4d8" opacity="0.89"/>
<circle cx="282.1" cy="107.9" r="0.32" fill="#d8dce8" opacity="0.98"/>
<circle cx="267.8" cy="124.2" r="0.52" fill="#b8c4d8" opacity="0.96"/>
<circle cx="269.3" cy="136.7" r="0.55" fill="#a0b0c8" opacity="0.87"/>
<circle cx="287.9" cy="122.6" r="0.33" fill="#b8c4d8" opacity="0.72"/>
<circle cx="281.1" cy="143.1" r="0.52" fill="#b8c4d8" opacity="0.61"/>
<circle cx="254.6" cy="124.6" r="0.48" fill="#d8dce8" opacity="0.77"/>
<circle cx="278.0" cy="160.5" r="0.51" fill="#a0b0c8" opacity="0.77"/>
<circle cx="289.8" cy="168.7" r="0.54" fill="#a0b0c8" opacity="0.84"/>
<circle cx="262.8" cy="146.8" r="0.39" fill="#a0b0c8" opacity="0.88"/>
<circle cx="293.0" cy="128.2" r="0.34" fill="#d8dce8" opacity="0.82"/>
<circle cx="220.3" cy="122.5" r="0.32" fill="#d8dce8" opacity="0.83"/>
<circle cx="262.2" cy="162.7" r="0.49" fill="#b8c4d8" opacity="0.89"/>
<circle cx="289.2" cy="121.0" r="0.48" fill="#f0f0f8" opacity="0.74"/>
<circle cx="272.7" cy="195.9" r="0.40" fill="#b8c4d8" opacity="0.88"/>
<circle cx="257.6" cy="156.0" r="0.54" fill="#a0b0c8" opacity="0.51"/>
<circle cx="274.0" cy="121.1" r="0.50" fill="#b8c4d8" opacity="0.53"/>
<circle cx="280.6" cy="125.4" r="0.37" fill="#d8dce8" opacity="0.62"/>
<circle cx="241.6" cy="129.3" r="0.39" fill="#f0f0f8" opacity="0.63"/>
<circle cx="273.7" cy="152.8" r="0.42" fill="#b8c4d8" opacity="0.73"/>
<circle cx="289.7" cy="125.7" r="0.39" fill="#d8dce8" opacity="0.82"/>
<circle cx="294.7" cy="155.9" r="0.56" fill="#a0b0c8" opacity="0.86"/>
<circle cx="222.7" cy="173.3" r="0.52" fill="#f0f0f8" opacity="0.84"/>
<circle cx="229.5" cy="123.6" r="0.35" fill="#a0b0c8" opacity="0.82"/>
<circle cx="277.6" cy="135.1" r="0.30" fill="#d8dce8" opacity="0.93"/>
<circle cx="293.2" cy="168.9" r="0.49" fill="#a0b0c8" opacity="0.97"/>
<circle cx="265.3" cy="115.7" r="0.34" fill="#b8c4d8" opacity="0.99"/>
<circle cx="247.9" cy="136.1" r="0.48" fill="#f0f0f8" opacity="0.60"/>
<circle cx="268.4" cy="147.7" r="0.31" fill="#d8dce8" opacity="0.57"/>
<circle cx="288.3" cy="138.1" r="0.38" fill="#d8dce8" opacity="0.95"/>
<circle cx="275.3" cy="117.4" r="0.60" fill="#d8dce8" opacity="0.80"/>
<circle cx="286.4" cy="132.2" r="0.50" fill="#f0f0f8" opacity="0.69"/>
<circle cx="274.9" cy="140.2" r="0.57" fill="#d8dce8" opacity="0.63"/>
<circle cx="289.4" cy="131.0" r="0.44" fill="#b8c4d8" opacity="0.98"/>
<circle cx="228.7" cy="180.2" r="0.49" fill="#b8c4d8" opacity="0.60"/>
<circle cx="294.7" cy="141.9" r="0.50" fill="#d8dce8" opacity="0.63"/>
<circle cx="245.4" cy="103.9" r="0.30" fill="#b8c4d8" opacity="0.82"/>
<circle cx="255.8" cy="153.4" r="0.43" fill="#f0f0f8" opacity="0.90"/>
<circle cx="272.0" cy="130.1" r="0.37" fill="#a0b0c8" opacity="0.77"/>
<circle cx="273.1" cy="145.1" r="0.46" fill="#f0f0f8" opacity="0.79"/>
<circle cx="272.2" cy="198.6" r="0.33" fill="#d8dce8" opacity="0.57"/>
<circle cx="272.4" cy="128.9" r="0.44" fill="#b8c4d8" opacity="0.97"/>
<circle cx="252.3" cy="166.3" r="0.32" fill="#b8c4d8" opacity="0.64"/>
<circle cx="280.2" cy="165.8" r="0.30" fill="#a0b0c8" opacity="0.93"/>
<circle cx="286.7" cy="111.7" r="0.51" fill="#d8dce8" opacity="0.98"/>
<circle cx="270.2" cy="134.2" r="0.57" fill="#d8dce8" opacity="0.50"/>
<circle cx="263.6" cy="119.0" r="0.35" fill="#d8dce8" opacity="0.64"/>
<circle cx="262.0" cy="131.6" r="0.46" fill="#f0f0f8" opacity="0.80"/>
<circle cx="257.1" cy="123.2" r="0.37" fill="#f0f0f8" opacity="0.56"/>
<circle cx="274.5" cy="162.3" r="0.53" fill="#a0b0c8" opacity="0.70"/>
<circle cx="270.1" cy="140.4" r="0.41" fill="#b8c4d8" opacity="0.68"/>
<circle cx="269.7" cy="128.4" r="0.33" fill="#f0f0f8" opacity="0.96"/>
<circle cx="242.4" cy="140.8" r="0.34" fill="#d8dce8" opacity="0.77"/>
<circle cx="280.5" cy="151.7" r="0.32" fill="#a0b0c8" opacity="0.97"/>
<circle cx="278.2" cy="158.0" r="0.44" fill="#a0b0c8" opacity="0.66"/>
<circle cx="287.7" cy="160.0" r="0.54" fill="#d8dce8" opacity="0.59"/>
<circle cx="270.8" cy="153.1" r="0.49" fill="#b8c4d8" opacity="1.00"/>
<circle cx="278.9" cy="167.0" r="0.53" fill="#d8dce8" opacity="0.58"/>
<circle cx="260.7" cy="144.3" r="0.51" fill="#a0b0c8" opacity="0.55"/>
<circle cx="295.0" cy="134.1" r="0.44" fill="#b8c4d8" opacity="0.81"/>
<circle cx="267.0" cy="113.9" r="0.43" fill="#a0b0c8" opacity="0.77"/>
<circle cx="225.7" cy="190.3" r="0.38" fill="#f0f0f8" opacity="0.71"/>
<circle cx="285.1" cy="141.0" r="0.55" fill="#a0b0c8" opacity="0.59"/>
<circle cx="280.4" cy="146.6" r="0.44" fill="#b8c4d8" opacity="0.90"/>
<circle cx="296.0" cy="172.1" r="0.46" fill="#b8c4d8" opacity="0.96"/>
<circle cx="253.8" cy="178.8" r="0.55" fill="#d8dce8" opacity="0.60"/>
<circle cx="248.5" cy="149.8" r="0.55" fill="#d8dce8" opacity="0.73"/>
<circle cx="282.7" cy="115.7" r="0.43" fill="#b8c4d8" opacity="0.60"/>
<circle cx="283.9" cy="110.8" r="0.52" fill="#b8c4d8" opacity="0.72"/>
<circle cx="261.3" cy="139.9" r="0.31" fill="#a0b0c8" opacity="0.90"/>
<circle cx="225.6" cy="164.7" r="0.53" fill="#f0f0f8" opacity="0.56"/>
<circle cx="220.6" cy="150.9" r="0.56" fill="#b8c4d8" opacity="0.50"/>
<circle cx="261.1" cy="119.7" r="0.42" fill="#a0b0c8" opacity="0.55"/>
<circle cx="284.4" cy="156.4" r="0.57" fill="#a0b0c8" opacity="0.57"/>
<circle cx="295.1" cy="143.9" r="0.58" fill="#d8dce8" opacity="0.52"/>
<circle cx="256.6" cy="136.9" r="0.57" fill="#a0b0c8" opacity="0.56"/>
<circle cx="284.6" cy="126.2" r="0.44" fill="#a0b0c8" opacity="0.80"/>
<circle cx="276.7" cy="186.1" r="0.37" fill="#f0f0f8" opacity="0.56"/>
<circle cx="264.7" cy="116.3" r="0.57" fill="#b8c4d8" opacity="0.98"/>
<circle cx="270.7" cy="136.5" r="0.56" fill="#d8dce8" opacity="0.52"/>
<circle cx="247.6" cy="166.4" r="0.57" fill="#a0b0c8" opacity="0.73"/>
<circle cx="262.1" cy="114.4" r="0.42" fill="#f0f0f8" opacity="0.92"/>
<circle cx="271.9" cy="172.9" r="0.39" fill="#f0f0f8" opacity="0.68"/>
<circle cx="297.7" cy="142.5" r="0.51" fill="#d8dce8" opacity="0.79"/>
<circle cx="277.8" cy="176.6" r="0.45" fill="#b8c4d8" opacity="0.90"/>
<circle cx="260.7" cy="126.0" r="0.39" fill="#b8c4d8" opacity="0.67"/>
<circle cx="248.4" cy="137.7" r="0.33" fill="#f0f0f8" opacity="0.91"/>
<circle cx="277.1" cy="106.0" r="0.35" fill="#a0b0c8" opacity="0.80"/>
<circle cx="264.8" cy="111.2" r="0.58" fill="#f0f0f8" opacity="0.61"/>
<circle cx="275.8" cy="186.1" r="0.45" fill="#b8c4d8" opacity="0.93"/>
<circle cx="273.3" cy="132.5" r="0.42" fill="#f0f0f8" opacity="0.60"/>
<circle cx="296.8" cy="161.5" r="0.35" fill="#d8dce8" opacity="0.85"/>
<circle cx="240.0" cy="112.1" r="0.55" fill="#f0f0f8" opacity="0.75"/>
<circle cx="276.4" cy="127.7" r="0.59" fill="#d8dce8" opacity="0.96"/>
<circle cx="225.9" cy="156.1" r="0.43" fill="#b8c4d8" opacity="0.72"/>
<circle cx="219.4" cy="131.5" r="0.38" fill="#f0f0f8" opacity="0.79"/>
<circle cx="254.9" cy="146.8" r="0.38" fill="#b8c4d8" opacity="0.88"/>
<circle cx="294.5" cy="153.3" r="0.47" fill="#d8dce8" opacity="0.68"/>
<circle cx="272.6" cy="174.4" r="0.45" fill="#a0b0c8" opacity="0.55"/>
<circle cx="226.7" cy="111.4" r="0.43" fill="#f0f0f8" opacity="0.91"/>
<circle cx="263.9" cy="157.1" r="0.40" fill="#d8dce8" opacity="0.92"/>
<circle cx="293.8" cy="161.7" r="0.31" fill="#b8c4d8" opacity="0.70"/>
<circle cx="292.8" cy="124.0" r="0.30" fill="#d8dce8" opacity="0.55"/>
<circle cx="284.5" cy="143.0" r="0.41" fill="#b8c4d8" opacity="0.62"/>
<circle cx="294.6" cy="160.8" r="0.49" fill="#b8c4d8" opacity="0.87"/>
<circle cx="280.0" cy="160.8" r="0.32" fill="#f0f0f8" opacity="0.89"/>
<circle cx="275.9" cy="125.8" r="0.41" fill="#a0b0c8" opacity="0.57"/>
<circle cx="283.9" cy="107.3" r="0.54" fill="#f0f0f8" opacity="0.65"/>
<circle cx="264.3" cy="134.4" r="0.58" fill="#d8dce8" opacity="0.79"/>
<circle cx="259.7" cy="148.3" r="0.54" fill="#d8dce8" opacity="0.85"/>
<circle cx="272.9" cy="184.7" r="0.50" fill="#f0f0f8" opacity="0.76"/>
<circle cx="268.2" cy="150.8" r="0.39" fill="#a0b0c8" opacity="0.76"/>
<circle cx="260.3" cy="130.8" r="0.58" fill="#b8c4d8" opacity="0.81"/>
<circle cx="262.2" cy="179.0" r="0.41" fill="#a0b0c8" opacity="0.75"/>
<circle cx="289.6" cy="157.6" r="0.34" fill="#a0b0c8" opacity="0.76"/>
<circle cx="272.0" cy="139.2" r="0.38" fill="#d8dce8" opacity="0.71"/>
<circle cx="295.9" cy="150.9" r="0.45" fill="#b8c4d8" opacity="0.65"/>
<circle cx="286.7" cy="140.0" r="0.54" fill="#a0b0c8" opacity="0.91"/>
<circle cx="291.8" cy="127.1" r="0.45" fill="#a0b0c8" opacity="0.62"/>
<circle cx="281.9" cy="182.6" r="0.59" fill="#b8c4d8" opacity="0.68"/>
<circle cx="253.0" cy="126.7" r="0.36" fill="#b8c4d8" opacity="0.99"/>
<circle cx="257.9" cy="186.4" r="0.35" fill="#d8dce8" opacity="0.84"/>
<circle cx="267.6" cy="175.2" r="0.33" fill="#d8dce8" opacity="0.84"/>
<circle cx="259.0" cy="121.2" r="0.49" fill="#d8dce8" opacity="0.93"/>
<circle cx="227.0" cy="108.1" r="0.57" fill="#a0b0c8" opacity="0.66"/>
<circle cx="278.3" cy="145.9" r="0.31" fill="#d8dce8" opacity="0.93"/>
<circle cx="244.3" cy="143.7" r="0.55" fill="#a0b0c8" opacity="0.61"/>
<circle cx="284.6" cy="148.7" r="0.56" fill="#d8dce8" opacity="0.62"/>
<circle cx="266.1" cy="146.0" r="0.43" fill="#b8c4d8" opacity="0.78"/>
<circle cx="279.7" cy="126.7" r="0.54" fill="#f0f0f8" opacity="0.76"/>
<circle cx="260.2" cy="162.1" r="0.49" fill="#a0b0c8" opacity="0.71"/>
<circle cx="273.5" cy="157.9" r="0.33" fill="#b8c4d8" opacity="0.62"/>
<circle cx="267.3" cy="157.6" r="0.43" fill="#f0f0f8" opacity="0.59"/>
<circle cx="290.5" cy="104.5" r="0.44" fill="#a0b0c8" opacity="0.53"/>
<circle cx="264.2" cy="191.8" r="0.47" fill="#a0b0c8" opacity="0.72"/>
<circle cx="254.0" cy="167.6" r="0.55" fill="#a0b0c8" opacity="0.62"/>
<circle cx="282.5" cy="145.8" r="0.54" fill="#a0b0c8" opacity="0.77"/>
<circle cx="290.6" cy="177.8" r="0.40" fill="#b8c4d8" opacity="0.83"/>
<circle cx="265.3" cy="150.7" r="0.32" fill="#f0f0f8" opacity="0.76"/>
<circle cx="278.1" cy="122.5" r="0.49" fill="#a0b0c8" opacity="0.87"/>
<circle cx="294.5" cy="170.7" r="0.52" fill="#f0f0f8" opacity="0.65"/>
<circle cx="248.9" cy="148.1" r="0.44" fill="#d8dce8" opacity="0.68"/>
<circle cx="244.5" cy="164.7" r="0.53" fill="#d8dce8" opacity="0.90"/>
<circle cx="219.0" cy="174.8" r="0.32" fill="#b8c4d8" opacity="0.62"/>
<circle cx="254.2" cy="130.4" r="0.59" fill="#b8c4d8" opacity="0.66"/>
<circle cx="273.9" cy="140.3" r="0.53" fill="#f0f0f8" opacity="0.84"/>
<circle cx="292.0" cy="151.3" r="0.50" fill="#f0f0f8" opacity="0.65"/>
<circle cx="281.1" cy="153.4" r="0.41" fill="#d8dce8" opacity="0.84"/>
<circle cx="275.2" cy="148.4" r="0.38" fill="#a0b0c8" opacity="0.77"/>
<circle cx="276.9" cy="162.7" r="0.35" fill="#a0b0c8" opacity="0.72"/>
<circle cx="272.6" cy="107.9" r="0.33" fill="#a0b0c8" opacity="0.74"/>
<circle cx="241.5" cy="142.2" r="0.32" fill="#d8dce8" opacity="0.69"/>
<circle cx="274.3" cy="118.5" r="0.48" fill="#a0b0c8" opacity="0.54"/>
<circle cx="257.5" cy="153.8" r="0.35" fill="#f0f0f8" opacity="0.96"/>
<circle cx="275.1" cy="142.0" r="0.44" fill="#d8dce8" opacity="0.59"/>
<circle cx="258.9" cy="148.8" r="0.38" fill="#f0f0f8" opacity="0.94"/>
<circle cx="243.6" cy="192.3" r="0.36" fill="#a0b0c8" opacity="0.96"/>
<circle cx="294.9" cy="131.5" r="0.51" fill="#d8dce8" opacity="0.56"/>
<circle cx="268.0" cy="166.1" r="0.41" fill="#d8dce8" opacity="0.81"/>
<circle cx="277.4" cy="140.5" r="0.43" fill="#f0f0f8" opacity="0.54"/>
<circle cx="253.3" cy="125.0" r="0.41" fill="#b8c4d8" opacity="0.78"/>
<circle cx="219.4" cy="148.0" r="0.31" fill="#d8dce8" opacity="0.74"/>
<circle cx="253.4" cy="112.3" r="0.47" fill="#a0b0c8" opacity="0.63"/>
<circle cx="279.4" cy="133.1" r="0.30" fill="#b8c4d8" opacity="0.81"/>
<circle cx="282.8" cy="155.8" r="0.40" fill="#d8dce8" opacity="0.62"/>
<circle cx="280.1" cy="138.7" r="0.34" fill="#d8dce8" opacity="0.89"/>
<circle cx="269.0" cy="159.2" r="0.34" fill="#d8dce8" opacity="0.70"/>
<circle cx="250.2" cy="115.2" r="0.44" fill="#a0b0c8" opacity="0.61"/>
<circle cx="265.9" cy="161.1" r="0.40" fill="#f0f0f8" opacity="0.78"/>
<circle cx="274.3" cy="161.1" r="0.53" fill="#a0b0c8" opacity="0.85"/>
<circle cx="295.2" cy="122.1" r="0.46" fill="#f0f0f8" opacity="0.79"/>
<circle cx="261.6" cy="116.8" r="0.51" fill="#f0f0f8" opacity="0.90"/>
<circle cx="272.7" cy="158.7" r="0.38" fill="#f0f0f8" opacity="0.70"/>
<circle cx="257.1" cy="128.7" r="0.44" fill="#f0f0f8" opacity="0.98"/>
<circle cx="278.5" cy="180.0" r="0.52" fill="#b8c4d8" opacity="0.90"/>
<circle cx="283.4" cy="145.6" r="0.31" fill="#a0b0c8" opacity="0.75"/>
<circle cx="271.1" cy="157.6" r="0.58" fill="#b8c4d8" opacity="0.62"/>
<circle cx="290.1" cy="119.7" r="0.56" fill="#d8dce8" opacity="0.53"/>
<circle cx="222.8" cy="116.5" r="0.45" fill="#b8c4d8" opacity="0.65"/>
<circle cx="285.7" cy="133.7" r="0.46" fill="#b8c4d8" opacity="0.65"/>
<circle cx="267.2" cy="140.0" r="0.42" fill="#a0b0c8" opacity="0.91"/>
<circle cx="277.2" cy="137.4" r="0.58" fill="#d8dce8" opacity="0.75"/>
<circle cx="261.9" cy="201.2" r="0.37" fill="#b8c4d8" opacity="0.83"/>
<circle cx="276.2" cy="112.7" r="0.39" fill="#a0b0c8" opacity="0.96"/>
<circle cx="264.2" cy="161.1" r="0.32" fill="#f0f0f8" opacity="0.76"/>
<circle cx="286.5" cy="186.3" r="0.50" fill="#f0f0f8" opacity="0.72"/>
<circle cx="274.2" cy="138.6" r="0.57" fill="#f0f0f8" opacity="0.56"/>
<circle cx="279.0" cy="153.0" r="0.54" fill="#d8dce8" opacity="0.61"/>
<circle cx="264.8" cy="128.8" r="0.52" fill="#d8dce8" opacity="0.86"/>
<circle cx="235.0" cy="114.4" r="0.31" fill="#b8c4d8" opacity="0.79"/>
<circle cx="289.3" cy="116.8" r="0.39" fill="#a0b0c8" opacity="0.92"/>
<circle cx="285.0" cy="188.0" r="0.31" fill="#b8c4d8" opacity="0.59"/>
<circle cx="273.0" cy="133.1" r="0.60" fill="#b8c4d8" opacity="0.66"/>
<circle cx="278.0" cy="152.6" r="0.57" fill="#d8dce8" opacity="0.70"/>
<circle cx="286.5" cy="120.9" r="0.40" fill="#d8dce8" opacity="0.89"/>
<circle cx="269.0" cy="174.7" r="0.54" fill="#f0f0f8" opacity="0.53"/>
<circle cx="238.7" cy="177.2" r="0.57" fill="#f0f0f8" opacity="0.68"/>
<circle cx="265.2" cy="123.0" r="0.50" fill="#b8c4d8" opacity="0.75"/>
<circle cx="273.3" cy="140.1" r="0.37" fill="#d8dce8" opacity="0.99"/>
<circle cx="281.8" cy="115.6" r="0.41" fill="#b8c4d8" opacity="0.82"/>
<circle cx="289.0" cy="122.8" r="0.39" fill="#a0b0c8" opacity="0.85"/>
<circle cx="265.0" cy="160.0" r="0.59" fill="#b8c4d8" opacity="0.87"/>
<circle cx="277.2" cy="112.7" r="0.45" fill="#d8dce8" opacity="0.96"/>
<circle cx="282.3" cy="121.3" r="0.38" fill="#d8dce8" opacity="0.86"/>
<circle cx="287.9" cy="131.1" r="0.57" fill="#f0f0f8" opacity="0.68"/>
<circle cx="268.1" cy="113.8" r="0.47" fill="#a0b0c8" opacity="0.82"/>
<circle cx="273.5" cy="149.6" r="0.48" fill="#b8c4d8" opacity="0.81"/>
<circle cx="293.5" cy="139.0" r="0.50" fill="#d8dce8" opacity="0.60"/>
<circle cx="276.7" cy="162.5" r="0.31" fill="#b8c4d8" opacity="0.52"/>
<circle cx="275.4" cy="183.9" r="0.46" fill="#b8c4d8" opacity="0.69"/>
<circle cx="273.8" cy="112.4" r="0.45" fill="#f0f0f8" opacity="0.87"/>
<circle cx="234.7" cy="153.8" r="0.46" fill="#d8dce8" opacity="0.91"/>
<circle cx="224.4" cy="156.3" r="0.30" fill="#f0f0f8" opacity="0.99"/>
<circle cx="291.4" cy="117.2" r="0.56" fill="#d8dce8" opacity="0.87"/>
<circle cx="263.0" cy="136.2" r="0.52" fill="#d8dce8" opacity="0.71"/>
<circle cx="252.8" cy="186.8" r="0.40" fill="#b8c4d8" opacity="0.60"/>
<circle cx="278.0" cy="127.8" r="0.55" fill="#b8c4d8" opacity="0.58"/>
<circle cx="253.8" cy="144.1" r="0.55" fill="#b8c4d8" opacity="0.81"/>
<circle cx="267.4" cy="185.0" r="0.39" fill="#d8dce8" opacity="0.66"/>
<circle cx="265.5" cy="144.3" r="0.55" fill="#a0b0c8" opacity="0.91"/>
<circle cx="245.6" cy="149.0" r="0.31" fill="#f0f0f8" opacity="0.51"/>
<circle cx="277.6" cy="138.8" r="0.50" fill="#d8dce8" opacity="0.55"/>
<circle cx="268.2" cy="169.4" r="0.44" fill="#b8c4d8" opacity="0.70"/>
<circle cx="295.2" cy="151.8" r="0.59" fill="#f0f0f8" opacity="0.93"/>
<circle cx="259.5" cy="143.9" r="0.42" fill="#b8c4d8" opacity="0.80"/>
<circle cx="259.1" cy="132.3" r="0.43" fill="#b8c4d8" opacity="0.78"/>
<circle cx="272.4" cy="139.1" r="0.43" fill="#a0b0c8" opacity="0.96"/>
<circle cx="289.5" cy="150.8" r="0.51" fill="#d8dce8" opacity="0.55"/>
<circle cx="261.2" cy="156.3" r="0.49" fill="#a0b0c8" opacity="0.85"/>
<circle cx="284.5" cy="149.8" r="0.33" fill="#d8dce8" opacity="0.54"/>
<circle cx="258.5" cy="123.8" r="0.54" fill="#b8c4d8" opacity="0.58"/>
<circle cx="285.8" cy="151.6" r="0.37" fill="#b8c4d8" opacity="0.63"/>
<circle cx="262.0" cy="163.4" r="0.43" fill="#f0f0f8" opacity="0.98"/>
<circle cx="284.7" cy="196.0" r="0.38" fill="#a0b0c8" opacity="0.75"/>
<circle cx="275.0" cy="154.3" r="0.57" fill="#d8dce8" opacity="0.95"/>
<circle cx="237.0" cy="179.9" r="0.45" fill="#b8c4d8" opacity="0.97"/>
<circle cx="291.6" cy="145.3" r="0.52" fill="#f0f0f8" opacity="0.83"/>
<circle cx="241.8" cy="154.5" r="0.49" fill="#d8dce8" opacity="0.74"/>
<circle cx="270.9" cy="151.9" r="0.50" fill="#a0b0c8" opacity="0.78"/>
<circle cx="288.6" cy="110.2" r="0.48" fill="#f0f0f8" opacity="0.78"/>
<circle cx="258.7" cy="143.6" r="0.57" fill="#a0b0c8" opacity="0.92"/>
<circle cx="245.1" cy="158.3" r="0.51" fill="#b8c4d8" opacity="0.74"/>
<circle cx="279.2" cy="129.6" r="0.54" fill="#a0b0c8" opacity="0.55"/>
<circle cx="290.7" cy="134.8" r="0.46" fill="#b8c4d8" opacity="0.64"/>
<circle cx="244.5" cy="125.2" r="0.46" fill="#d8dce8" opacity="0.78"/>
<circle cx="292.3" cy="143.8" r="0.59" fill="#a0b0c8" opacity="0.76"/>
<circle cx="270.9" cy="129.4" r="0.30" fill="#f0f0f8" opacity="0.91"/>
<circle cx="219.3" cy="142.5" r="0.57" fill="#d8dce8" opacity="0.86"/>
<circle cx="284.6" cy="184.6" r="0.46" fill="#a0b0c8" opacity="0.81"/>
<circle cx="265.6" cy="128.5" r="0.54" fill="#f0f0f8" opacity="0.66"/>
<circle cx="283.2" cy="148.1" r="0.32" fill="#b8c4d8" opacity="0.62"/>
<circle cx="267.1" cy="138.6" r="0.34" fill="#d8dce8" opacity="0.63"/>
<circle cx="279.8" cy="137.3" r="0.38" fill="#a0b0c8" opacity="0.87"/>
<circle cx="286.8" cy="123.7" r="0.52" fill="#b8c4d8" opacity="0.91"/>
<circle cx="275.1" cy="150.2" r="0.31" fill="#f0f0f8" opacity="0.93"/>
<circle cx="291.8" cy="165.0" r="0.32" fill="#a0b0c8" opacity="0.82"/>
<circle cx="273.7" cy="127.9" r="0.31" fill="#a0b0c8" opacity="0.91"/>
<circle cx="293.1" cy="120.0" r="0.41" fill="#b8c4d8" opacity="0.87"/>
<circle cx="288.8" cy="154.8" r="0.47" fill="#b8c4d8" opacity="0.85"/>
<circle cx="295.9" cy="153.5" r="0.56" fill="#f0f0f8" opacity="0.88"/>
<circle cx="242.0" cy="142.5" r="0.38" fill="#a0b0c8" opacity="0.67"/>
<circle cx="278.5" cy="120.0" r="0.55" fill="#d8dce8" opacity="0.68"/>
<circle cx="256.6" cy="180.6" r="0.45" fill="#d8dce8" opacity="0.87"/>
<circle cx="256.8" cy="155.1" r="0.41" fill="#f0f0f8" opacity="0.62"/>
<circle cx="280.5" cy="118.8" r="0.33" fill="#f0f0f8" opacity="0.96"/>
<circle cx="267.2" cy="163.1" r="0.44" fill="#f0f0f8" opacity="0.51"/>
<circle cx="287.2" cy="181.0" r="0.47" fill="#f0f0f8" opacity="0.55"/>
<circle cx="252.9" cy="180.1" r="0.42" fill="#b8c4d8" opacity="0.63"/>
<circle cx="292.6" cy="183.4" r="0.57" fill="#d8dce8" opacity="0.81"/>
<circle cx="233.8" cy="143.5" r="0.40" fill="#b8c4d8" opacity="0.87"/>
<circle cx="280.2" cy="149.6" r="0.30" fill="#b8c4d8" opacity="0.75"/>
<circle cx="242.8" cy="186.6" r="0.50" fill="#b8c4d8" opacity="0.91"/>
<circle cx="272.6" cy="146.3" r="0.43" fill="#d8dce8" opacity="0.74"/>
<circle cx="239.9" cy="131.1" r="0.51" fill="#f0f0f8" opacity="0.64"/>
<circle cx="275.8" cy="153.6" r="0.43" fill="#d8dce8" opacity="0.80"/>
<circle cx="292.5" cy="123.7" r="0.33" fill="#f0f0f8" opacity="0.99"/>
<circle cx="292.8" cy="145.8" r="0.52" fill="#d8dce8" opacity="0.72"/>
<circle cx="246.4" cy="126.3" r="0.54" fill="#b8c4d8" opacity="0.76"/>
<circle cx="267.1" cy="169.9" r="0.38" fill="#a0b0c8" opacity="0.85"/>
<circle cx="271.7" cy="169.9" r="0.57" fill="#b8c4d8" opacity="0.80"/>
<circle cx="228.5" cy="174.3" r="0.35" fill="#b8c4d8" opacity="0.85"/>
<circle cx="287.2" cy="136.3" r="0.37" fill="#d8dce8" opacity="0.99"/>
<circle cx="223.4" cy="128.9" r="0.54" fill="#f0f0f8" opacity="0.87"/>
<circle cx="229.8" cy="114.7" r="0.33" fill="#d8dce8" opacity="0.89"/>
<circle cx="268.6" cy="111.3" r="0.54" fill="#f0f0f8" opacity="0.68"/>
<circle cx="290.0" cy="137.6" r="0.45" fill="#a0b0c8" opacity="0.64"/>
<circle cx="233.5" cy="180.5" r="0.35" fill="#f0f0f8" opacity="0.54"/>
<circle cx="275.9" cy="142.0" r="0.35" fill="#f0f0f8" opacity="0.67"/>
<circle cx="255.0" cy="149.8" r="0.37" fill="#f0f0f8" opacity="0.74"/>
<circle cx="261.5" cy="166.6" r="0.51" fill="#b8c4d8" opacity="0.60"/>
<circle cx="267.1" cy="152.3" r="0.54" fill="#b8c4d8" opacity="0.90"/>
<circle cx="263.4" cy="117.4" r="0.37" fill="#f0f0f8" opacity="0.68"/>
<circle cx="259.0" cy="134.0" r="0.31" fill="#a0b0c8" opacity="0.53"/>
<circle cx="288.8" cy="114.2" r="0.40" fill="#f0f0f8" opacity="0.85"/>
<circle cx="271.5" cy="164.6" r="0.50" fill="#d8dce8" opacity="0.69"/>
<circle cx="280.2" cy="141.5" r="0.54" fill="#d8dce8" opacity="0.91"/>
<circle cx="293.0" cy="185.1" r="0.31" fill="#a0b0c8" opacity="0.88"/>
<circle cx="269.0" cy="111.6" r="0.56" fill="#d8dce8" opacity="0.59"/>
<circle cx="261.4" cy="125.3" r="0.37" fill="#b8c4d8" opacity="0.80"/>
<circle cx="264.8" cy="144.1" r="0.34" fill="#b8c4d8" opacity="0.97"/>
<circle cx="227.2" cy="176.3" r="0.34" fill="#b8c4d8" opacity="0.78"/>
<circle cx="285.4" cy="135.8" r="0.42" fill="#f0f0f8" opacity="0.64"/>
<circle cx="285.3" cy="130.3" r="0.50" fill="#a0b0c8" opacity="0.94"/>
<circle cx="273.2" cy="168.8" r="0.52" fill="#f0f0f8" opacity="0.52"/>
<circle cx="273.0" cy="129.5" r="0.46" fill="#d8dce8" opacity="0.93"/>
<circle cx="276.2" cy="118.4" r="0.36" fill="#a0b0c8" opacity="0.77"/>
<circle cx="225.0" cy="153.4" r="0.44" fill="#f0f0f8" opacity="0.72"/>
<circle cx="288.2" cy="139.0" r="0.38" fill="#f0f0f8" opacity="0.76"/>
<circle cx="263.7" cy="169.4" r="0.53" fill="#b8c4d8" opacity="0.66"/>
<circle cx="259.9" cy="146.9" r="0.60" fill="#d8dce8" opacity="0.56"/>
<circle cx="245.6" cy="192.6" r="0.49" fill="#f0f0f8" opacity="0.97"/>
<circle cx="282.8" cy="157.4" r="0.35" fill="#40d060" opacity="0.64"/>
<circle cx="226.3" cy="171.9" r="0.34" fill="#30c050" opacity="0.63"/>
<circle cx="254.5" cy="127.7" r="0.34" fill="#40d060" opacity="0.53"/>
<circle cx="239.8" cy="110.8" r="0.36" fill="#40d060" opacity="0.57"/>
<circle cx="235.9" cy="121.0" r="0.48" fill="#30c050" opacity="0.64"/>
<circle cx="248.5" cy="129.1" r="0.44" fill="#40d060" opacity="0.77"/>
<circle cx="277.2" cy="130.3" r="0.45" fill="#30c050" opacity="0.85"/>
<circle cx="262.8" cy="111.3" r="0.47" fill="#30c050" opacity="0.53"/>
<circle cx="221.3" cy="153.1" r="0.39" fill="#40d060" opacity="0.80"/>
<circle cx="283.4" cy="186.2" r="0.45" fill="#40d060" opacity="0.57"/>
<circle cx="288.2" cy="200.9" r="0.35" fill="#30c050" opacity="0.78"/>
<circle cx="262.4" cy="124.7" r="0.36" fill="#40d060" opacity="0.51"/>
<circle cx="272.8" cy="171.6" r="0.47" fill="#40d060" opacity="0.91"/>
<circle cx="272.0" cy="134.0" r="0.32" fill="#30c050" opacity="0.65"/>
<circle cx="264.9" cy="138.1" r="0.44" fill="#40d060" opacity="0.91"/>
<circle cx="285.7" cy="119.2" r="0.48" fill="#30c050" opacity="0.60"/>
<circle cx="291.3" cy="183.4" r="0.48" fill="#30c050" opacity="0.98"/>
<circle cx="284.5" cy="183.4" r="0.45" fill="#40d060" opacity="0.89"/>
<circle cx="284.7" cy="142.9" r="0.38" fill="#30c050" opacity="0.67"/>
<circle cx="237.4" cy="122.1" r="0.42" fill="#30c050" opacity="0.78"/>
<circle cx="294.1" cy="201.2" r="0.49" fill="#40d060" opacity="0.71"/>
<circle cx="219.4" cy="156.4" r="0.43" fill="#30c050" opacity="0.64"/>
<circle cx="268.1" cy="164.3" r="0.41" fill="#30c050" opacity="0.54"/>
<circle cx="264.5" cy="153.4" r="0.42" fill="#40d060" opacity="0.64"/>
<circle cx="238.4" cy="169.7" r="0.50" fill="#30c050" opacity="0.81"/>
<rect x="218.20" y="103.80" width="1.40" height="97.90" fill="#8c8ca8" stroke="none" stroke-width="1"/>
<ellipse cx="221.2" cy="195.7" rx="3.6" ry="5" fill="#000" stroke="#c8c8d8" stroke-width="0.8"/>
</g>
<line x1="28.5" y1="110.5" x2="88.9" y2="176.6" stroke="#fff" stroke-width="0.7" stroke-dasharray="1.2 0.9"/>
<line x1="28.5" y1="152.4" x2="85.8" y2="179.1" stroke="#fff" stroke-width="0.7" stroke-dasharray="1.2 0.9"/>
<path d="M46,199.6 C60,195 78,188 86,181 C89,178 90,174.5 93,173.2 C97,172 103,173 107.5,173.5" fill="none" stroke="#fff" stroke-width="0.75"/>
<path d="M70.9,191.5 C82,190 95,184 107.5,177.3" fill="none" stroke="#fff" stroke-width="0.75"/>
<path d="M92,199.8 C97,197.5 102,196 107.5,195.2" fill="none" stroke="#fff" stroke-width="0.75"/>
<line x1="125.2" y1="113.6" x2="185" y2="176.6" stroke="#fff" stroke-width="0.7" stroke-dasharray="1.2 0.9"/>
<line x1="125.2" y1="154.1" x2="183" y2="180.8" stroke="#fff" stroke-width="0.7" stroke-dasharray="1.2 0.9"/>
<path d="M134.7,201.7 C150,197 172,190 182,182 C185,179 187,175.5 190,174.5 C195,173.5 200,174 204.3,174" fill="none" stroke="#fff" stroke-width="0.75"/>
<path d="M172.4,192.3 C184,190 194,184 204.3,178.7" fill="none" stroke="#fff" stroke-width="0.75"/>
<path d="M187,201.7 C193,199 198,198 204.3,197" fill="none" stroke="#fff" stroke-width="0.75"/>
<line x1="219.2" y1="113" x2="277" y2="176.6" stroke="#fff" stroke-width="0.7" stroke-dasharray="1.2 0.9"/>
<line x1="219.2" y1="154.1" x2="277" y2="181" stroke="#fff" stroke-width="0.7" stroke-dasharray="1.2 0.9"/>
<path d="M229,201.7 C245,197 266,190 276,182 C279,179 281,175.5 284,174.5 C289,173.5 294,174 298.3,174" fill="none" stroke="#fff" stroke-width="0.75"/>
<path d="M266,192.3 C278,190 288,184 298.3,178.7" fill="none" stroke="#fff" stroke-width="0.75"/>
<text x="85.2" y="110.5" font-size="9.5" text-anchor="start" font-weight="normal" fill="#d42028" textLength="21.6" lengthAdjust="spacingAndGlyphs">NeuN</text>
<text x="78.6" y="119.5" font-size="9.5" text-anchor="start" font-weight="normal" fill="#f2f2f2" textLength="27.7" lengthAdjust="spacingAndGlyphs">PVALB</text>
<text x="180.8" y="110.5" font-size="9.5" text-anchor="start" font-weight="normal" fill="#d42028" textLength="22.6" lengthAdjust="spacingAndGlyphs">NeuN</text>
<text x="181.3" y="118.3" font-size="9.5" text-anchor="start" font-weight="normal" fill="#38b038" textLength="15.3" lengthAdjust="spacingAndGlyphs">SST</text>
<text x="277" y="110.5" font-size="9.5" text-anchor="start" font-weight="normal" fill="#d42028" textLength="21" lengthAdjust="spacingAndGlyphs">NeuN</text>
<text x="269" y="118.6" font-size="9.5" text-anchor="start" font-weight="normal" fill="#f2f2f2" textLength="28.5" lengthAdjust="spacingAndGlyphs">PVALB</text>
<text x="279.5" y="127.3" font-size="9.5" text-anchor="start" font-weight="normal" fill="#38b038" textLength="17.5" lengthAdjust="spacingAndGlyphs">SST</text>
<text x="269.6" y="198.4" font-size="9.5" text-anchor="start" font-weight="normal" fill="#ffffff" textLength="28.4" lengthAdjust="spacingAndGlyphs">100 μm</text>
<line x1="270.00" y1="200.40" x2="298.00" y2="200.40" stroke="#fff" stroke-width="0.9"/>
<line x1="342.70" y1="104.50" x2="342.70" y2="177.40" stroke="#2b2b2b" stroke-width="0.9"/>
<line x1="340.10" y1="177.40" x2="342.70" y2="177.40" stroke="#2b2b2b" stroke-width="0.9"/>
<text x="338.09999999999997" y="180.20000000000002" font-size="10" text-anchor="end" font-weight="normal" fill="#231f20">0</text>
<line x1="340.10" y1="162.82" x2="342.70" y2="162.82" stroke="#2b2b2b" stroke-width="0.9"/>
<text x="338.09999999999997" y="165.62" font-size="10" text-anchor="end" font-weight="normal" fill="#231f20">10</text>
<line x1="340.10" y1="148.24" x2="342.70" y2="148.24" stroke="#2b2b2b" stroke-width="0.9"/>
<text x="338.09999999999997" y="151.04000000000002" font-size="10" text-anchor="end" font-weight="normal" fill="#231f20">20</text>
<line x1="340.10" y1="133.66" x2="342.70" y2="133.66" stroke="#2b2b2b" stroke-width="0.9"/>
<text x="338.09999999999997" y="136.46" font-size="10" text-anchor="end" font-weight="normal" fill="#231f20">30</text>
<line x1="340.10" y1="119.08" x2="342.70" y2="119.08" stroke="#2b2b2b" stroke-width="0.9"/>
<text x="338.09999999999997" y="121.88" font-size="10" text-anchor="end" font-weight="normal" fill="#231f20">40</text>
<line x1="340.10" y1="104.50" x2="342.70" y2="104.50" stroke="#2b2b2b" stroke-width="0.9"/>
<text x="338.09999999999997" y="107.3" font-size="10" text-anchor="end" font-weight="normal" fill="#231f20">50</text>
<line x1="340.20" y1="177.40" x2="391.80" y2="177.40" stroke="#2b2b2b" stroke-width="0.9"/>
<rect x="349.70" y="124.91" width="13.80" height="52.49" fill="#e0e0e0" stroke="none" stroke-width="1"/>
<rect x="370.20" y="175.07" width="14.60" height="2.33" fill="#f3dce0" stroke="none" stroke-width="1"/>
<line x1="356.60" y1="177.40" x2="356.60" y2="180.20" stroke="#2b2b2b" stroke-width="0.9"/>
<line x1="377.50" y1="177.40" x2="377.50" y2="180.20" stroke="#2b2b2b" stroke-width="0.9"/>
<circle cx="356.60" cy="119.80" r="1.40" fill="white" stroke="#666" stroke-width="0.7"/>
<circle cx="356.60" cy="122.20" r="1.40" fill="white" stroke="#666" stroke-width="0.7"/>
<circle cx="352.20" cy="124.60" r="1.40" fill="white" stroke="#666" stroke-width="0.7"/>
<circle cx="354.40" cy="124.60" r="1.40" fill="white" stroke="#666" stroke-width="0.7"/>
<circle cx="358.80" cy="124.60" r="1.40" fill="white" stroke="#666" stroke-width="0.7"/>
<circle cx="361.00" cy="124.60" r="1.40" fill="white" stroke="#666" stroke-width="0.7"/>
<circle cx="356.60" cy="127.00" r="1.40" fill="white" stroke="#666" stroke-width="0.7"/>
<circle cx="356.60" cy="129.40" r="1.40" fill="white" stroke="#666" stroke-width="0.7"/>
<circle cx="354.50" cy="126.50" r="1.40" fill="white" stroke="#666" stroke-width="0.7"/>
<rect x="370.35" y="174.00" width="2.50" height="2.50" fill="white" stroke="#c83c48" stroke-width="0.7"/>
<rect x="372.85" y="174.00" width="2.50" height="2.50" fill="white" stroke="#c83c48" stroke-width="0.7"/>
<rect x="375.35" y="174.00" width="2.50" height="2.50" fill="white" stroke="#c83c48" stroke-width="0.7"/>
<rect x="377.85" y="174.00" width="2.50" height="2.50" fill="white" stroke="#c83c48" stroke-width="0.7"/>
<rect x="380.35" y="174.00" width="2.50" height="2.50" fill="white" stroke="#c83c48" stroke-width="0.7"/>
<rect x="382.75" y="174.00" width="2.50" height="2.50" fill="white" stroke="#c83c48" stroke-width="0.7"/>
<rect x="382.80" y="171.50" width="2.50" height="2.50" fill="white" stroke="#c83c48" stroke-width="0.7"/>
<line x1="356.00" y1="108.30" x2="375.50" y2="108.30" stroke="#333" stroke-width="1"/>
<path d="M359.24,100.50 L359.80,102.03 L361.43,102.09 L360.14,103.09 L360.59,104.66 L359.24,103.75 L357.89,104.66 L358.34,103.09 L357.05,102.09 L358.68,102.03Z M363.58,100.50 L364.14,102.03 L365.77,102.09 L364.48,103.09 L364.93,104.66 L363.58,103.75 L362.23,104.66 L362.68,103.09 L361.39,102.09 L363.02,102.03Z M367.92,100.50 L368.48,102.03 L370.11,102.09 L368.82,103.09 L369.27,104.66 L367.92,103.75 L366.57,104.66 L367.02,103.09 L365.73,102.09 L367.36,102.03Z M372.26,100.50 L372.82,102.03 L374.45,102.09 L373.16,103.09 L373.61,104.66 L372.26,103.75 L370.91,104.66 L371.36,103.09 L370.07,102.09 L371.70,102.03Z" fill="#111"/>
<text x="357.8" y="183.5" font-size="10" text-anchor="end" font-weight="normal" fill="#231f20" transform="rotate(-30 357.8 183.5)">Control</text>
<text x="379.9" y="184.0" font-size="10" text-anchor="end" font-weight="normal" fill="#231f20" transform="rotate(-30 379.9 184.0)">taCasp3</text>
<text x="322.8" y="142.8" font-size="10" text-anchor="middle" transform="rotate(-90 322.8 142.8)" fill="#231f20"># of PV<tspan font-size="6.5" dy="-3.5">+</tspan><tspan dy="3.5"> /slice</tspan></text>
<line x1="433.40" y1="102.20" x2="433.40" y2="175.30" stroke="#2b2b2b" stroke-width="0.9"/>
<line x1="430.80" y1="175.30" x2="433.40" y2="175.30" stroke="#2b2b2b" stroke-width="0.9"/>
<text x="428.79999999999995" y="178.10000000000002" font-size="10" text-anchor="end" font-weight="normal" fill="#231f20">0.0</text>
<line x1="430.80" y1="150.93" x2="433.40" y2="150.93" stroke="#2b2b2b" stroke-width="0.9"/>
<text x="428.79999999999995" y="153.73333333333335" font-size="10" text-anchor="end" font-weight="normal" fill="#231f20">0.5</text>
<line x1="430.80" y1="126.57" x2="433.40" y2="126.57" stroke="#2b2b2b" stroke-width="0.9"/>
<text x="428.79999999999995" y="129.36666666666667" font-size="10" text-anchor="end" font-weight="normal" fill="#231f20">1.0</text>
<line x1="430.80" y1="102.20" x2="433.40" y2="102.20" stroke="#2b2b2b" stroke-width="0.9"/>
<text x="428.79999999999995" y="105.0" font-size="10" text-anchor="end" font-weight="normal" fill="#231f20">1.5</text>
<line x1="430.80" y1="175.30" x2="479.10" y2="175.30" stroke="#2b2b2b" stroke-width="0.9"/>
<rect x="439.90" y="126.57" width="13.00" height="48.73" fill="#e0e0e0" stroke="none" stroke-width="1"/>
<rect x="459.00" y="161.50" width="13.60" height="13.80" fill="#efc8cf" stroke="none" stroke-width="1"/>
<line x1="446.80" y1="175.30" x2="446.80" y2="178.10" stroke="#2b2b2b" stroke-width="0.9"/>
<line x1="465.80" y1="175.30" x2="465.80" y2="178.10" stroke="#2b2b2b" stroke-width="0.9"/>
<circle cx="441.20" cy="124.80" r="1.40" fill="white" stroke="#666" stroke-width="0.7"/>
<circle cx="443.60" cy="124.20" r="1.40" fill="white" stroke="#666" stroke-width="0.7"/>
<circle cx="446.20" cy="123.80" r="1.40" fill="white" stroke="#666" stroke-width="0.7"/>
<circle cx="448.70" cy="124.20" r="1.40" fill="white" stroke="#666" stroke-width="0.7"/>
<circle cx="451.20" cy="124.80" r="1.40" fill="white" stroke="#666" stroke-width="0.7"/>
<circle cx="444.80" cy="127.50" r="1.40" fill="white" stroke="#666" stroke-width="0.7"/>
<circle cx="447.80" cy="127.20" r="1.40" fill="white" stroke="#666" stroke-width="0.7"/>
<circle cx="445.50" cy="131.00" r="1.40" fill="white" stroke="#666" stroke-width="0.7"/>
<circle cx="446.00" cy="134.50" r="1.40" fill="white" stroke="#666" stroke-width="0.7"/>
<rect x="460.55" y="147.35" width="2.50" height="2.50" fill="white" stroke="#c83c48" stroke-width="0.7"/>
<rect x="462.75" y="149.15" width="2.50" height="2.50" fill="white" stroke="#c83c48" stroke-width="0.7"/>
<rect x="460.95" y="149.95" width="2.50" height="2.50" fill="white" stroke="#c83c48" stroke-width="0.7"/>
<rect x="459.75" y="161.25" width="2.50" height="2.50" fill="white" stroke="#c83c48" stroke-width="0.7"/>
<rect x="462.25" y="160.75" width="2.50" height="2.50" fill="white" stroke="#c83c48" stroke-width="0.7"/>
<rect x="464.75" y="160.25" width="2.50" height="2.50" fill="white" stroke="#c83c48" stroke-width="0.7"/>
<rect x="467.25" y="161.25" width="2.50" height="2.50" fill="white" stroke="#c83c48" stroke-width="0.7"/>
<rect x="458.75" y="164.25" width="2.50" height="2.50" fill="white" stroke="#c83c48" stroke-width="0.7"/>
<rect x="461.25" y="164.25" width="2.50" height="2.50" fill="white" stroke="#c83c48" stroke-width="0.7"/>
<rect x="463.75" y="163.95" width="2.50" height="2.50" fill="white" stroke="#c83c48" stroke-width="0.7"/>
<rect x="466.25" y="164.25" width="2.50" height="2.50" fill="white" stroke="#c83c48" stroke-width="0.7"/>
<rect x="468.75" y="164.55" width="2.50" height="2.50" fill="white" stroke="#c83c48" stroke-width="0.7"/>
<rect x="460.25" y="167.25" width="2.50" height="2.50" fill="white" stroke="#c83c48" stroke-width="0.7"/>
<rect x="462.75" y="167.25" width="2.50" height="2.50" fill="white" stroke="#c83c48" stroke-width="0.7"/>
<rect x="465.25" y="167.45" width="2.50" height="2.50" fill="white" stroke="#c83c48" stroke-width="0.7"/>
<rect x="467.75" y="167.75" width="2.50" height="2.50" fill="white" stroke="#c83c48" stroke-width="0.7"/>
<rect x="461.75" y="170.55" width="2.50" height="2.50" fill="white" stroke="#c83c48" stroke-width="0.7"/>
<rect x="464.75" y="170.75" width="2.50" height="2.50" fill="white" stroke="#c83c48" stroke-width="0.7"/>
<rect x="467.55" y="170.95" width="2.50" height="2.50" fill="white" stroke="#c83c48" stroke-width="0.7"/>
<line x1="447.90" y1="108.70" x2="470.90" y2="108.70" stroke="#333" stroke-width="1"/>
<path d="M455.06,100.90 L455.62,102.43 L457.25,102.49 L455.96,103.49 L456.41,105.06 L455.06,104.15 L453.71,105.06 L454.16,103.49 L452.87,102.49 L454.50,102.43Z M459.40,100.90 L459.96,102.43 L461.59,102.49 L460.30,103.49 L460.75,105.06 L459.40,104.15 L458.05,105.06 L458.50,103.49 L457.21,102.49 L458.84,102.43Z M463.74,100.90 L464.30,102.43 L465.93,102.49 L464.64,103.49 L465.09,105.06 L463.74,104.15 L462.39,105.06 L462.84,103.49 L461.55,102.49 L463.18,102.43Z" fill="#111"/>
<text x="447.2" y="183.1" font-size="10" text-anchor="end" font-weight="normal" fill="#231f20" transform="rotate(-30 447.2 183.1)">Control</text>
<text x="476.4" y="183.0" font-size="10" text-anchor="end" font-weight="normal" fill="#231f20" transform="rotate(-30 476.4 183.0)">taCasp3</text>
<text x="404.8" y="142.3" font-size="9.4" text-anchor="middle" font-weight="normal" fill="#231f20" transform="rotate(-90 404.8 142.3)" textLength="64.8" lengthAdjust="spacingAndGlyphs">mRNA level of</text>
<text x="412.9" y="140.4" font-size="9.4" textLength="58.5" lengthAdjust="spacingAndGlyphs" text-anchor="middle" transform="rotate(-90 412.9 140.4)" fill="#231f20"><tspan font-style="italic">Pvalb</tspan> in ACC</text>
<line x1="532.60" y1="105.20" x2="532.60" y2="177.20" stroke="#555" stroke-width="0.9"/>
<line x1="530.00" y1="177.20" x2="532.60" y2="177.20" stroke="#555" stroke-width="0.9"/>
<text x="528.0" y="180.0" font-size="10" text-anchor="end" font-weight="normal" fill="#231f20">0</text>
<line x1="530.00" y1="162.80" x2="532.60" y2="162.80" stroke="#555" stroke-width="0.9"/>
<text x="528.0" y="165.6" font-size="10" text-anchor="end" font-weight="normal" fill="#231f20">10</text>
<line x1="530.00" y1="148.40" x2="532.60" y2="148.40" stroke="#555" stroke-width="0.9"/>
<text x="528.0" y="151.20000000000002" font-size="10" text-anchor="end" font-weight="normal" fill="#231f20">20</text>
<line x1="530.00" y1="134.00" x2="532.60" y2="134.00" stroke="#555" stroke-width="0.9"/>
<text x="528.0" y="136.8" font-size="10" text-anchor="end" font-weight="normal" fill="#231f20">30</text>
<line x1="530.00" y1="119.60" x2="532.60" y2="119.60" stroke="#555" stroke-width="0.9"/>
<text x="528.0" y="122.39999999999999" font-size="10" text-anchor="end" font-weight="normal" fill="#231f20">40</text>
<line x1="530.00" y1="105.20" x2="532.60" y2="105.20" stroke="#555" stroke-width="0.9"/>
<text x="528.0" y="108.0" font-size="10" text-anchor="end" font-weight="normal" fill="#231f20">50</text>
<line x1="530.20" y1="177.20" x2="576.90" y2="177.20" stroke="#555" stroke-width="0.9"/>
<rect x="539.20" y="155.60" width="12.70" height="21.60" fill="#e0e0e0" stroke="none" stroke-width="1"/>
<line x1="545.30" y1="177.20" x2="545.30" y2="180.00" stroke="#555" stroke-width="0.9"/>
<line x1="564.40" y1="177.20" x2="564.40" y2="180.00" stroke="#555" stroke-width="0.9"/>
<circle cx="544.70" cy="149.30" r="1.40" fill="white" stroke="#666" stroke-width="0.7"/>
<circle cx="542.40" cy="152.00" r="1.40" fill="white" stroke="#666" stroke-width="0.7"/>
<circle cx="545.80" cy="153.20" r="1.40" fill="white" stroke="#666" stroke-width="0.7"/>
<circle cx="541.30" cy="155.00" r="1.40" fill="white" stroke="#666" stroke-width="0.7"/>
<circle cx="547.60" cy="155.40" r="1.40" fill="white" stroke="#666" stroke-width="0.7"/>
<circle cx="544.00" cy="157.00" r="1.40" fill="white" stroke="#666" stroke-width="0.7"/>
<circle cx="549.90" cy="158.40" r="1.40" fill="white" stroke="#666" stroke-width="0.7"/>
<circle cx="546.50" cy="158.80" r="1.40" fill="white" stroke="#666" stroke-width="0.7"/>
<rect x="556.75" y="174.95" width="2.50" height="2.50" fill="white" stroke="#c83c48" stroke-width="0.7"/>
<rect x="559.35" y="175.15" width="2.50" height="2.50" fill="white" stroke="#c83c48" stroke-width="0.7"/>
<rect x="561.95" y="174.95" width="2.50" height="2.50" fill="white" stroke="#c83c48" stroke-width="0.7"/>
<rect x="564.55" y="175.15" width="2.50" height="2.50" fill="white" stroke="#c83c48" stroke-width="0.7"/>
<rect x="567.15" y="175.05" width="2.50" height="2.50" fill="white" stroke="#c83c48" stroke-width="0.7"/>
<rect x="558.75" y="172.65" width="2.50" height="2.50" fill="white" stroke="#c83c48" stroke-width="0.7"/>
<rect x="561.35" y="172.45" width="2.50" height="2.50" fill="white" stroke="#c83c48" stroke-width="0.7"/>
<rect x="563.95" y="172.75" width="2.50" height="2.50" fill="white" stroke="#c83c48" stroke-width="0.7"/>
<rect x="566.55" y="172.55" width="2.50" height="2.50" fill="white" stroke="#c83c48" stroke-width="0.7"/>
<rect x="568.75" y="173.95" width="2.50" height="2.50" fill="white" stroke="#c83c48" stroke-width="0.7"/>
<line x1="546.90" y1="108.30" x2="562.70" y2="108.30" stroke="#333" stroke-width="1"/>
<path d="M548.29,100.50 L548.85,102.03 L550.48,102.09 L549.19,103.09 L549.64,104.66 L548.29,103.75 L546.94,104.66 L547.39,103.09 L546.10,102.09 L547.73,102.03Z M552.63,100.50 L553.19,102.03 L554.82,102.09 L553.53,103.09 L553.98,104.66 L552.63,103.75 L551.28,104.66 L551.73,103.09 L550.44,102.09 L552.07,102.03Z M556.97,100.50 L557.53,102.03 L559.16,102.09 L557.87,103.09 L558.32,104.66 L556.97,103.75 L555.62,104.66 L556.07,103.09 L554.78,102.09 L556.41,102.03Z M561.31,100.50 L561.87,102.03 L563.50,102.09 L562.21,103.09 L562.66,104.66 L561.31,103.75 L559.96,104.66 L560.41,103.09 L559.12,102.09 L560.75,102.03Z" fill="#111"/>
<text x="546.8" y="185.4" font-size="10" text-anchor="end" font-weight="normal" fill="#231f20" transform="rotate(-30 546.8 185.4)">Control</text>
<text x="568.0" y="186.7" font-size="10" text-anchor="end" font-weight="normal" fill="#231f20" transform="rotate(-30 568.0 186.7)">taCasp3</text>
<text x="512.2" y="140.6" font-size="10" text-anchor="middle" transform="rotate(-90 512.2 140.6)" fill="#231f20"># of SST<tspan font-size="6.5" dy="-3.5">+</tspan><tspan dy="3.5"> /slice</tspan></text>
<line x1="627.20" y1="104.70" x2="627.20" y2="178.90" stroke="#2b2b2b" stroke-width="0.9"/>
<line x1="624.60" y1="178.90" x2="627.20" y2="178.90" stroke="#2b2b2b" stroke-width="0.9"/>
<text x="622.6" y="181.70000000000002" font-size="10" text-anchor="end" font-weight="normal" fill="#231f20">0.0</text>
<line x1="624.60" y1="154.17" x2="627.20" y2="154.17" stroke="#2b2b2b" stroke-width="0.9"/>
<text x="622.6" y="156.9666666666667" font-size="10" text-anchor="end" font-weight="normal" fill="#231f20">0.5</text>
<line x1="624.60" y1="129.43" x2="627.20" y2="129.43" stroke="#2b2b2b" stroke-width="0.9"/>
<text x="622.6" y="132.23333333333335" font-size="10" text-anchor="end" font-weight="normal" fill="#231f20">1.0</text>
<line x1="624.60" y1="104.70" x2="627.20" y2="104.70" stroke="#2b2b2b" stroke-width="0.9"/>
<text x="622.6" y="107.5" font-size="10" text-anchor="end" font-weight="normal" fill="#231f20">1.5</text>
<line x1="624.20" y1="178.90" x2="677.60" y2="178.90" stroke="#2b2b2b" stroke-width="0.9"/>
<rect x="634.00" y="129.43" width="13.90" height="49.47" fill="#e0e0e0" stroke="none" stroke-width="1"/>
<rect x="655.50" y="171.50" width="14.00" height="7.40" fill="#f3dce0" stroke="none" stroke-width="1"/>
<line x1="641.90" y1="178.90" x2="641.90" y2="181.70" stroke="#2b2b2b" stroke-width="0.9"/>
<line x1="662.70" y1="178.90" x2="662.70" y2="181.70" stroke="#2b2b2b" stroke-width="0.9"/>
<circle cx="635.50" cy="129.50" r="1.40" fill="white" stroke="#666" stroke-width="0.7"/>
<circle cx="637.80" cy="128.30" r="1.40" fill="white" stroke="#666" stroke-width="0.7"/>
<circle cx="640.20" cy="129.60" r="1.40" fill="white" stroke="#666" stroke-width="0.7"/>
<circle cx="642.50" cy="128.20" r="1.40" fill="white" stroke="#666" stroke-width="0.7"/>
<circle cx="644.80" cy="129.50" r="1.40" fill="white" stroke="#666" stroke-width="0.7"/>
<circle cx="647.00" cy="128.80" r="1.40" fill="white" stroke="#666" stroke-width="0.7"/>
<circle cx="639.00" cy="131.00" r="1.40" fill="white" stroke="#666" stroke-width="0.7"/>
<circle cx="643.50" cy="131.00" r="1.40" fill="white" stroke="#666" stroke-width="0.7"/>
<rect x="656.25" y="170.75" width="2.50" height="2.50" fill="white" stroke="#c83c48" stroke-width="0.7"/>
<rect x="658.75" y="170.25" width="2.50" height="2.50" fill="white" stroke="#c83c48" stroke-width="0.7"/>
<rect x="661.25" y="170.25" width="2.50" height="2.50" fill="white" stroke="#c83c48" stroke-width="0.7"/>
<rect x="663.75" y="170.55" width="2.50" height="2.50" fill="white" stroke="#c83c48" stroke-width="0.7"/>
<rect x="666.25" y="170.75" width="2.50" height="2.50" fill="white" stroke="#c83c48" stroke-width="0.7"/>
<rect x="655.25" y="173.25" width="2.50" height="2.50" fill="white" stroke="#c83c48" stroke-width="0.7"/>
<rect x="657.75" y="173.25" width="2.50" height="2.50" fill="white" stroke="#c83c48" stroke-width="0.7"/>
<rect x="660.25" y="173.25" width="2.50" height="2.50" fill="white" stroke="#c83c48" stroke-width="0.7"/>
<rect x="662.75" y="173.25" width="2.50" height="2.50" fill="white" stroke="#c83c48" stroke-width="0.7"/>
<rect x="665.25" y="173.25" width="2.50" height="2.50" fill="white" stroke="#c83c48" stroke-width="0.7"/>
<rect x="667.75" y="173.55" width="2.50" height="2.50" fill="white" stroke="#c83c48" stroke-width="0.7"/>
<rect x="656.25" y="175.75" width="2.50" height="2.50" fill="white" stroke="#c83c48" stroke-width="0.7"/>
<rect x="658.75" y="175.75" width="2.50" height="2.50" fill="white" stroke="#c83c48" stroke-width="0.7"/>
<rect x="661.25" y="175.75" width="2.50" height="2.50" fill="white" stroke="#c83c48" stroke-width="0.7"/>
<rect x="663.75" y="175.75" width="2.50" height="2.50" fill="white" stroke="#c83c48" stroke-width="0.7"/>
<rect x="666.25" y="175.75" width="2.50" height="2.50" fill="white" stroke="#c83c48" stroke-width="0.7"/>
<line x1="641.80" y1="108.50" x2="666.10" y2="108.50" stroke="#333" stroke-width="1"/>
<path d="M647.44,100.70 L648.00,102.23 L649.63,102.29 L648.34,103.29 L648.79,104.86 L647.44,103.95 L646.09,104.86 L646.54,103.29 L645.25,102.29 L646.88,102.23Z M651.78,100.70 L652.34,102.23 L653.97,102.29 L652.68,103.29 L653.13,104.86 L651.78,103.95 L650.43,104.86 L650.88,103.29 L649.59,102.29 L651.22,102.23Z M656.12,100.70 L656.68,102.23 L658.31,102.29 L657.02,103.29 L657.47,104.86 L656.12,103.95 L654.77,104.86 L655.22,103.29 L653.93,102.29 L655.56,102.23Z M660.46,100.70 L661.02,102.23 L662.65,102.29 L661.36,103.29 L661.81,104.86 L660.46,103.95 L659.11,104.86 L659.56,103.29 L658.27,102.29 L659.90,102.23Z" fill="#111"/>
<text x="643.7" y="184.9" font-size="10" text-anchor="end" font-weight="normal" fill="#231f20" transform="rotate(-30 643.7 184.9)">Control</text>
<text x="672.1" y="186.7" font-size="10" text-anchor="end" font-weight="normal" fill="#231f20" transform="rotate(-30 672.1 186.7)">taCasp3</text>
<text x="596.8" y="144.1" font-size="10" text-anchor="middle" font-weight="normal" fill="#231f20" transform="rotate(-90 596.8 144.1)" textLength="63.4" lengthAdjust="spacingAndGlyphs">mRNA level of</text>
<text x="606.3" y="146.7" font-size="10" textLength="47.4" lengthAdjust="spacingAndGlyphs" text-anchor="middle" transform="rotate(-90 606.3 146.7)" fill="#231f20"><tspan font-style="italic">Sst</tspan> in ACC</text>
<text x="150.4" y="220" font-size="10" text-anchor="start" font-weight="normal" fill="#231f20" textLength="143.6" lengthAdjust="spacingAndGlyphs">Sociability in three-chamber test</text>
<line x1="41.00" y1="223.40" x2="402.60" y2="223.40" stroke="#333" stroke-width="1"/>
<text x="497.3" y="220" font-size="10" text-anchor="start" font-weight="normal" fill="#231f20" textLength="177.1" lengthAdjust="spacingAndGlyphs">Social preference in three-chamber test</text>
<line x1="489.20" y1="223.40" x2="682.00" y2="223.40" stroke="#333" stroke-width="1"/>
<text x="71.6" y="368.6" font-size="10" text-anchor="start" font-weight="normal" fill="#231f20" textLength="143.6" lengthAdjust="spacingAndGlyphs">Sociability in three-chamber test</text>
<line x1="35.00" y1="373.10" x2="252.00" y2="373.10" stroke="#333" stroke-width="1"/>
<text x="405" y="368.6" font-size="10" text-anchor="start" font-weight="normal" fill="#231f20" textLength="177.1" lengthAdjust="spacingAndGlyphs">Social preference in three-chamber test</text>
<line x1="313.00" y1="373.10" x2="674.00" y2="373.10" stroke="#333" stroke-width="1"/>
<text x="8.6" y="286.5" font-size="10" text-anchor="middle" font-weight="normal" fill="#231f20" transform="rotate(-90 8.6 286.5)">PV-Cre</text>
<line x1="9.80" y1="239.50" x2="9.80" y2="341.00" stroke="#444" stroke-width="1"/>
<text x="9.2" y="431" font-size="10" text-anchor="middle" font-weight="normal" fill="#231f20" transform="rotate(-90 9.2 431)">SST-Cre</text>
<line x1="11.20" y1="388.00" x2="11.20" y2="488.00" stroke="#444" stroke-width="1"/>
<line x1="215.50" y1="250.20" x2="215.50" y2="326.00" stroke="#2b2b2b" stroke-width="0.9"/>
<line x1="212.90" y1="326.00" x2="215.50" y2="326.00" stroke="#2b2b2b" stroke-width="0.9"/>
<text x="210.9" y="328.8" font-size="10" text-anchor="end" font-weight="normal" fill="#231f20">0</text>
<line x1="212.90" y1="300.73" x2="215.50" y2="300.73" stroke="#2b2b2b" stroke-width="0.9"/>
<text x="210.9" y="303.53333333333336" font-size="10" text-anchor="end" font-weight="normal" fill="#231f20">100</text>
<line x1="212.90" y1="275.47" x2="215.50" y2="275.47" stroke="#2b2b2b" stroke-width="0.9"/>
<text x="210.9" y="278.26666666666665" font-size="10" text-anchor="end" font-weight="normal" fill="#231f20">200</text>
<line x1="212.90" y1="250.20" x2="215.50" y2="250.20" stroke="#2b2b2b" stroke-width="0.9"/>
<text x="210.9" y="253.0" font-size="10" text-anchor="end" font-weight="normal" fill="#231f20">300</text>
<line x1="212.20" y1="326.00" x2="269.60" y2="326.00" stroke="#2b2b2b" stroke-width="0.9"/>
<rect x="223.00" y="297.60" width="15.00" height="28.40" fill="#a6ccd9" stroke="none" stroke-width="1"/>
<rect x="246.95" y="310.95" width="14.80" height="15.05" fill="white" stroke="#d6d6d6" stroke-width="1.3"/>
<line x1="230.40" y1="326.00" x2="230.40" y2="328.80" stroke="#2b2b2b" stroke-width="0.9"/>
<line x1="254.50" y1="326.00" x2="254.50" y2="328.80" stroke="#2b2b2b" stroke-width="0.9"/>
<line x1="230.40" y1="286.70" x2="254.50" y2="303.10" stroke="#111" stroke-width="0.9"/>
<line x1="230.40" y1="291.40" x2="254.50" y2="304.00" stroke="#111" stroke-width="0.9"/>
<line x1="230.40" y1="292.70" x2="254.50" y2="309.20" stroke="#111" stroke-width="0.9"/>
<line x1="230.40" y1="294.00" x2="254.50" y2="317.90" stroke="#111" stroke-width="0.9"/>
<line x1="230.40" y1="295.60" x2="254.50" y2="324.00" stroke="#111" stroke-width="0.9"/>
<line x1="230.40" y1="302.40" x2="254.50" y2="312.40" stroke="#111" stroke-width="0.9"/>
<line x1="230.40" y1="308.30" x2="254.50" y2="309.20" stroke="#111" stroke-width="0.9"/>
<line x1="230.40" y1="309.20" x2="254.50" y2="309.60" stroke="#111" stroke-width="0.9"/>
<circle cx="254.50" cy="303.10" r="1.45" fill="white" stroke="#555" stroke-width="0.75"/>
<circle cx="254.50" cy="304.00" r="1.45" fill="white" stroke="#555" stroke-width="0.75"/>
<circle cx="254.50" cy="309.20" r="1.45" fill="white" stroke="#555" stroke-width="0.75"/>
<circle cx="254.50" cy="317.90" r="1.45" fill="white" stroke="#555" stroke-width="0.75"/>
<circle cx="254.50" cy="324.00" r="1.45" fill="white" stroke="#555" stroke-width="0.75"/>
<circle cx="254.50" cy="312.40" r="1.45" fill="white" stroke="#555" stroke-width="0.75"/>
<circle cx="254.50" cy="309.20" r="1.45" fill="white" stroke="#555" stroke-width="0.75"/>
<circle cx="254.50" cy="309.60" r="1.45" fill="white" stroke="#555" stroke-width="0.75"/>
<circle cx="230.40" cy="286.70" r="1.85" fill="#2b70ad" stroke="none" stroke-width="1"/>
<circle cx="230.40" cy="291.40" r="1.85" fill="#2b70ad" stroke="none" stroke-width="1"/>
<circle cx="230.40" cy="292.70" r="1.85" fill="#2b70ad" stroke="none" stroke-width="1"/>
<circle cx="230.40" cy="294.00" r="1.85" fill="#2b70ad" stroke="none" stroke-width="1"/>
<circle cx="230.40" cy="295.60" r="1.85" fill="#2b70ad" stroke="none" stroke-width="1"/>
<circle cx="230.40" cy="302.40" r="1.85" fill="#2b70ad" stroke="none" stroke-width="1"/>
<circle cx="230.40" cy="308.30" r="1.85" fill="#2b70ad" stroke="none" stroke-width="1"/>
<circle cx="230.40" cy="309.20" r="1.85" fill="#2b70ad" stroke="none" stroke-width="1"/>
<text x="239.6" y="337.6" font-size="10" text-anchor="end" font-weight="normal" fill="#231f20" transform="rotate(-30 239.6 337.6)">Social</text>
<text x="261.9" y="336.5" font-size="10" text-anchor="end" font-weight="normal" fill="#231f20" transform="rotate(-30 261.9 336.5)">Empty</text>
<line x1="273.20" y1="326.00" x2="329.70" y2="326.00" stroke="#2b2b2b" stroke-width="0.9"/>
<rect x="281.30" y="289.70" width="15.30" height="36.30" fill="#e6b7c0" stroke="none" stroke-width="1"/>
<rect x="305.15" y="317.85" width="15.00" height="8.15" fill="white" stroke="#d6d6d6" stroke-width="1.3"/>
<line x1="289.00" y1="326.00" x2="289.00" y2="328.80" stroke="#2b2b2b" stroke-width="0.9"/>
<line x1="312.90" y1="326.00" x2="312.90" y2="328.80" stroke="#2b2b2b" stroke-width="0.9"/>
<line x1="289.00" y1="275.80" x2="312.90" y2="316.00" stroke="#111" stroke-width="0.9"/>
<line x1="289.00" y1="278.00" x2="312.90" y2="316.50" stroke="#111" stroke-width="0.9"/>
<line x1="289.00" y1="280.50" x2="312.90" y2="317.00" stroke="#111" stroke-width="0.9"/>
<line x1="289.00" y1="283.00" x2="312.90" y2="317.50" stroke="#111" stroke-width="0.9"/>
<line x1="289.00" y1="296.00" x2="312.90" y2="317.00" stroke="#111" stroke-width="0.9"/>
<line x1="289.00" y1="298.00" x2="312.90" y2="318.00" stroke="#111" stroke-width="0.9"/>
<line x1="289.00" y1="300.00" x2="312.90" y2="318.50" stroke="#111" stroke-width="0.9"/>
<line x1="289.00" y1="302.80" x2="312.90" y2="319.00" stroke="#111" stroke-width="0.9"/>
<circle cx="312.90" cy="316.00" r="1.45" fill="white" stroke="#555" stroke-width="0.75"/>
<circle cx="312.90" cy="316.50" r="1.45" fill="white" stroke="#555" stroke-width="0.75"/>
<circle cx="312.90" cy="317.00" r="1.45" fill="white" stroke="#555" stroke-width="0.75"/>
<circle cx="312.90" cy="317.50" r="1.45" fill="white" stroke="#555" stroke-width="0.75"/>
<circle cx="312.90" cy="317.00" r="1.45" fill="white" stroke="#555" stroke-width="0.75"/>
<circle cx="312.90" cy="318.00" r="1.45" fill="white" stroke="#555" stroke-width="0.75"/>
<circle cx="312.90" cy="318.50" r="1.45" fill="white" stroke="#555" stroke-width="0.75"/>
<circle cx="312.90" cy="319.00" r="1.45" fill="white" stroke="#555" stroke-width="0.75"/>
<circle cx="289.00" cy="275.80" r="1.85" fill="#c83c48" stroke="none" stroke-width="1"/>
<circle cx="289.00" cy="278.00" r="1.85" fill="#c83c48" stroke="none" stroke-width="1"/>
<circle cx="289.00" cy="280.50" r="1.85" fill="#c83c48" stroke="none" stroke-width="1"/>
<circle cx="289.00" cy="283.00" r="1.85" fill="#c83c48" stroke="none" stroke-width="1"/>
<circle cx="289.00" cy="296.00" r="1.85" fill="#c83c48" stroke="none" stroke-width="1"/>
<circle cx="289.00" cy="298.00" r="1.85" fill="#c83c48" stroke="none" stroke-width="1"/>
<circle cx="289.00" cy="300.00" r="1.85" fill="#c83c48" stroke="none" stroke-width="1"/>
<circle cx="289.00" cy="302.80" r="1.85" fill="#c83c48" stroke="none" stroke-width="1"/>
<text x="295.5" y="336.1" font-size="10" text-anchor="end" font-weight="normal" fill="#231f20" transform="rotate(-30 295.5 336.1)">Social</text>
<text x="315.3" y="336.2" font-size="10" text-anchor="end" font-weight="normal" fill="#231f20" transform="rotate(-30 315.3 336.2)">Empty</text>
<text x="241.2" y="239.4" font-size="10" text-anchor="middle" font-weight="normal" fill="#231f20">Pre</text>
<text x="302.1" y="239.4" font-size="10" text-anchor="middle" font-weight="normal" fill="#231f20">Post</text>
<line x1="233.00" y1="252.60" x2="252.20" y2="252.60" stroke="#333" stroke-width="1"/>
<path d="M240.43,244.80 L240.99,246.33 L242.62,246.39 L241.33,247.39 L241.78,248.96 L240.43,248.05 L239.08,248.96 L239.53,247.39 L238.24,246.39 L239.87,246.33Z M244.77,244.80 L245.33,246.33 L246.96,246.39 L245.67,247.39 L246.12,248.96 L244.77,248.05 L243.42,248.96 L243.87,247.39 L242.58,246.39 L244.21,246.33Z" fill="#111"/>
<line x1="292.50" y1="252.60" x2="311.70" y2="252.60" stroke="#333" stroke-width="1"/>
<path d="M302.10,244.80 L302.66,246.33 L304.29,246.39 L303.00,247.39 L303.45,248.96 L302.10,248.05 L300.75,248.96 L301.20,247.39 L299.91,246.39 L301.54,246.33Z" fill="#111"/>
<text x="189.2" y="287.1" font-size="10" text-anchor="middle" font-weight="normal" fill="#231f20" transform="rotate(-90 189.2 287.1)">Time in zone (s)</text>
<line x1="368.20" y1="253.70" x2="368.20" y2="327.30" stroke="#2b2b2b" stroke-width="0.9"/>
<line x1="365.60" y1="327.30" x2="368.20" y2="327.30" stroke="#2b2b2b" stroke-width="0.9"/>
<text x="363.59999999999997" y="330.1" font-size="10" text-anchor="end" font-weight="normal" fill="#231f20">-0.5</text>
<line x1="365.60" y1="302.77" x2="368.20" y2="302.77" stroke="#2b2b2b" stroke-width="0.9"/>
<text x="363.59999999999997" y="305.56666666666666" font-size="10" text-anchor="end" font-weight="normal" fill="#231f20">0.0</text>
<line x1="365.60" y1="278.23" x2="368.20" y2="278.23" stroke="#2b2b2b" stroke-width="0.9"/>
<text x="363.59999999999997" y="281.03333333333336" font-size="10" text-anchor="end" font-weight="normal" fill="#231f20">0.5</text>
<line x1="365.60" y1="253.70" x2="368.20" y2="253.70" stroke="#2b2b2b" stroke-width="0.9"/>
<text x="363.59999999999997" y="256.5" font-size="10" text-anchor="end" font-weight="normal" fill="#231f20">1.0</text>
<line x1="368.20" y1="302.77" x2="430.40" y2="302.77" stroke="#2b2b2b" stroke-width="0.9"/>
<line x1="365.60" y1="327.30" x2="430.40" y2="327.30" stroke="#2b2b2b" stroke-width="0.9"/>
<rect x="376.90" y="287.70" width="18.20" height="15.07" fill="#a6ccd9" stroke="none" stroke-width="1"/>
<rect x="403.75" y="274.65" width="16.70" height="28.12" fill="white" stroke="#e7aab4" stroke-width="1.1"/>
<line x1="386.10" y1="327.30" x2="386.10" y2="330.10" stroke="#2b2b2b" stroke-width="0.9"/>
<line x1="412.40" y1="327.30" x2="412.40" y2="330.10" stroke="#2b2b2b" stroke-width="0.9"/>
<line x1="386.10" y1="259.20" x2="412.40" y2="268.00" stroke="#111" stroke-width="0.9"/>
<line x1="386.10" y1="272.90" x2="412.40" y2="266.90" stroke="#111" stroke-width="0.9"/>
<line x1="386.10" y1="288.40" x2="412.40" y2="271.00" stroke="#111" stroke-width="0.9"/>
<line x1="386.10" y1="293.20" x2="412.40" y2="280.00" stroke="#111" stroke-width="0.9"/>
<line x1="386.10" y1="298.00" x2="412.40" y2="282.00" stroke="#111" stroke-width="0.9"/>
<line x1="386.10" y1="300.40" x2="412.40" y2="283.60" stroke="#111" stroke-width="0.9"/>
<line x1="386.10" y1="302.80" x2="412.40" y2="271.50" stroke="#111" stroke-width="0.9"/>
<circle cx="386.10" cy="259.20" r="1.85" fill="#2b70ad" stroke="none" stroke-width="1"/>
<circle cx="386.10" cy="272.90" r="1.85" fill="#2b70ad" stroke="none" stroke-width="1"/>
<circle cx="386.10" cy="288.40" r="1.85" fill="#2b70ad" stroke="none" stroke-width="1"/>
<circle cx="386.10" cy="293.20" r="1.85" fill="#2b70ad" stroke="none" stroke-width="1"/>
<circle cx="386.10" cy="298.00" r="1.85" fill="#2b70ad" stroke="none" stroke-width="1"/>
<circle cx="386.10" cy="300.40" r="1.85" fill="#2b70ad" stroke="none" stroke-width="1"/>
<circle cx="386.10" cy="302.80" r="1.85" fill="#2b70ad" stroke="none" stroke-width="1"/>
<circle cx="412.40" cy="268.00" r="1.50" fill="white" stroke="#c83c48" stroke-width="0.7"/>
<circle cx="412.40" cy="266.90" r="1.50" fill="white" stroke="#c83c48" stroke-width="0.7"/>
<circle cx="412.40" cy="271.00" r="1.50" fill="white" stroke="#c83c48" stroke-width="0.7"/>
<circle cx="412.40" cy="280.00" r="1.50" fill="white" stroke="#c83c48" stroke-width="0.7"/>
<circle cx="412.40" cy="282.00" r="1.50" fill="white" stroke="#c83c48" stroke-width="0.7"/>
<circle cx="412.40" cy="283.60" r="1.50" fill="white" stroke="#c83c48" stroke-width="0.7"/>
<circle cx="412.40" cy="271.50" r="1.50" fill="white" stroke="#c83c48" stroke-width="0.7"/>
<text x="382.9" y="339.7" font-size="10" text-anchor="middle" font-weight="normal" fill="#231f20">Pre</text>
<text x="412.4" y="339.7" font-size="10" text-anchor="middle" font-weight="normal" fill="#231f20">Post</text>
<text x="342.2" y="289.5" font-size="10" text-anchor="middle" font-weight="normal" fill="#231f20" transform="rotate(-90 342.2 289.5)">Discrimination score</text>
<line x1="390.00" y1="252.50" x2="408.70" y2="252.50" stroke="#333" stroke-width="1"/>
<path d="M399.35,244.70 L399.91,246.23 L401.54,246.29 L400.25,247.29 L400.70,248.86 L399.35,247.95 L398.00,248.86 L398.45,247.29 L397.16,246.29 L398.79,246.23Z" fill="#111"/>
<line x1="471.60" y1="248.40" x2="471.60" y2="324.20" stroke="#2b2b2b" stroke-width="0.9"/>
<line x1="469.00" y1="324.20" x2="471.60" y2="324.20" stroke="#2b2b2b" stroke-width="0.9"/>
<text x="467.0" y="327.0" font-size="10" text-anchor="end" font-weight="normal" fill="#231f20">0</text>
<line x1="469.00" y1="298.93" x2="471.60" y2="298.93" stroke="#2b2b2b" stroke-width="0.9"/>
<text x="467.0" y="301.73333333333335" font-size="10" text-anchor="end" font-weight="normal" fill="#231f20">100</text>
<line x1="469.00" y1="273.67" x2="471.60" y2="273.67" stroke="#2b2b2b" stroke-width="0.9"/>
<text x="467.0" y="276.4666666666667" font-size="10" text-anchor="end" font-weight="normal" fill="#231f20">200</text>
<line x1="469.00" y1="248.40" x2="471.60" y2="248.40" stroke="#2b2b2b" stroke-width="0.9"/>
<text x="467.0" y="251.20000000000002" font-size="10" text-anchor="end" font-weight="normal" fill="#231f20">300</text>
<line x1="469.00" y1="324.20" x2="523.40" y2="324.20" stroke="#2b2b2b" stroke-width="0.9"/>
<rect x="480.00" y="292.50" width="14.00" height="31.70" fill="#a6ccd9" stroke="none" stroke-width="1"/>
<rect x="502.15" y="309.45" width="13.70" height="14.75" fill="white" stroke="#d6d6d6" stroke-width="1.3"/>
<line x1="487.00" y1="324.20" x2="487.00" y2="327.00" stroke="#2b2b2b" stroke-width="0.9"/>
<line x1="508.90" y1="324.20" x2="508.90" y2="327.00" stroke="#2b2b2b" stroke-width="0.9"/>
<line x1="487.00" y1="273.90" x2="508.90" y2="317.80" stroke="#111" stroke-width="0.9"/>
<line x1="487.00" y1="276.90" x2="508.90" y2="305.90" stroke="#111" stroke-width="0.9"/>
<line x1="487.00" y1="289.90" x2="508.90" y2="293.50" stroke="#111" stroke-width="0.9"/>
<line x1="487.00" y1="292.30" x2="508.90" y2="319.80" stroke="#111" stroke-width="0.9"/>
<line x1="487.00" y1="293.50" x2="508.90" y2="295.50" stroke="#111" stroke-width="0.9"/>
<line x1="487.00" y1="299.50" x2="508.90" y2="304.90" stroke="#111" stroke-width="0.9"/>
<line x1="487.00" y1="304.30" x2="508.90" y2="320.80" stroke="#111" stroke-width="0.9"/>
<line x1="487.00" y1="309.80" x2="508.90" y2="305.90" stroke="#111" stroke-width="0.9"/>
<circle cx="508.90" cy="317.80" r="1.45" fill="white" stroke="#555" stroke-width="0.75"/>
<circle cx="508.90" cy="305.90" r="1.45" fill="white" stroke="#555" stroke-width="0.75"/>
<circle cx="508.90" cy="293.50" r="1.45" fill="white" stroke="#555" stroke-width="0.75"/>
<circle cx="508.90" cy="319.80" r="1.45" fill="white" stroke="#555" stroke-width="0.75"/>
<circle cx="508.90" cy="295.50" r="1.45" fill="white" stroke="#555" stroke-width="0.75"/>
<circle cx="508.90" cy="304.90" r="1.45" fill="white" stroke="#555" stroke-width="0.75"/>
<circle cx="508.90" cy="320.80" r="1.45" fill="white" stroke="#555" stroke-width="0.75"/>
<circle cx="508.90" cy="305.90" r="1.45" fill="white" stroke="#555" stroke-width="0.75"/>
<circle cx="487.00" cy="273.90" r="1.85" fill="#2b70ad" stroke="none" stroke-width="1"/>
<circle cx="487.00" cy="276.90" r="1.85" fill="#2b70ad" stroke="none" stroke-width="1"/>
<circle cx="487.00" cy="289.90" r="1.85" fill="#2b70ad" stroke="none" stroke-width="1"/>
<circle cx="487.00" cy="292.30" r="1.85" fill="#2b70ad" stroke="none" stroke-width="1"/>
<circle cx="487.00" cy="293.50" r="1.85" fill="#2b70ad" stroke="none" stroke-width="1"/>
<circle cx="487.00" cy="299.50" r="1.85" fill="#2b70ad" stroke="none" stroke-width="1"/>
<circle cx="487.00" cy="304.30" r="1.85" fill="#2b70ad" stroke="none" stroke-width="1"/>
<circle cx="487.00" cy="309.80" r="1.85" fill="#2b70ad" stroke="none" stroke-width="1"/>
<text x="498.2" y="332.0" font-size="10" text-anchor="end" font-weight="normal" fill="#231f20" transform="rotate(-30 498.2 332.0)">Stranger</text>
<text x="517.1" y="333.4" font-size="10" text-anchor="end" font-weight="normal" fill="#231f20" transform="rotate(-30 517.1 333.4)">Original</text>
<line x1="526.10" y1="324.20" x2="578.10" y2="324.20" stroke="#2b2b2b" stroke-width="0.9"/>
<rect x="533.90" y="301.00" width="14.40" height="23.20" fill="#e6b7c0" stroke="none" stroke-width="1"/>
<rect x="555.95" y="302.85" width="13.90" height="21.35" fill="white" stroke="#d6d6d6" stroke-width="1.3"/>
<line x1="540.90" y1="324.20" x2="540.90" y2="327.00" stroke="#2b2b2b" stroke-width="0.9"/>
<line x1="562.90" y1="324.20" x2="562.90" y2="327.00" stroke="#2b2b2b" stroke-width="0.9"/>
<line x1="540.90" y1="284.10" x2="562.90" y2="297.50" stroke="#111" stroke-width="0.9"/>
<line x1="540.90" y1="296.40" x2="562.90" y2="280.60" stroke="#111" stroke-width="0.9"/>
<line x1="540.90" y1="302.20" x2="562.90" y2="304.50" stroke="#111" stroke-width="0.9"/>
<line x1="540.90" y1="303.40" x2="562.90" y2="308.00" stroke="#111" stroke-width="0.9"/>
<line x1="540.90" y1="305.10" x2="562.90" y2="309.80" stroke="#111" stroke-width="0.9"/>
<line x1="540.90" y1="307.40" x2="562.90" y2="313.90" stroke="#111" stroke-width="0.9"/>
<line x1="540.90" y1="308.60" x2="562.90" y2="308.00" stroke="#111" stroke-width="0.9"/>
<circle cx="562.90" cy="297.50" r="1.45" fill="white" stroke="#555" stroke-width="0.75"/>
<circle cx="562.90" cy="280.60" r="1.45" fill="white" stroke="#555" stroke-width="0.75"/>
<circle cx="562.90" cy="304.50" r="1.45" fill="white" stroke="#555" stroke-width="0.75"/>
<circle cx="562.90" cy="308.00" r="1.45" fill="white" stroke="#555" stroke-width="0.75"/>
<circle cx="562.90" cy="309.80" r="1.45" fill="white" stroke="#555" stroke-width="0.75"/>
<circle cx="562.90" cy="313.90" r="1.45" fill="white" stroke="#555" stroke-width="0.75"/>
<circle cx="562.90" cy="308.00" r="1.45" fill="white" stroke="#555" stroke-width="0.75"/>
<circle cx="540.90" cy="284.10" r="1.85" fill="#c83c48" stroke="none" stroke-width="1"/>
<circle cx="540.90" cy="296.40" r="1.85" fill="#c83c48" stroke="none" stroke-width="1"/>
<circle cx="540.90" cy="302.20" r="1.85" fill="#c83c48" stroke="none" stroke-width="1"/>
<circle cx="540.90" cy="303.40" r="1.85" fill="#c83c48" stroke="none" stroke-width="1"/>
<circle cx="540.90" cy="305.10" r="1.85" fill="#c83c48" stroke="none" stroke-width="1"/>
<circle cx="540.90" cy="307.40" r="1.85" fill="#c83c48" stroke="none" stroke-width="1"/>
<circle cx="540.90" cy="308.60" r="1.85" fill="#c83c48" stroke="none" stroke-width="1"/>
<text x="549.0" y="332.6" font-size="10" text-anchor="end" font-weight="normal" fill="#231f20" transform="rotate(-30 549.0 332.6)">Stranger</text>
<text x="568.8" y="333.9" font-size="10" text-anchor="end" font-weight="normal" fill="#231f20" transform="rotate(-30 568.8 333.9)">Original</text>
<text x="498.5" y="239.4" font-size="10" text-anchor="middle" font-weight="normal" fill="#231f20">Pre</text>
<text x="553.5" y="239.4" font-size="10" text-anchor="middle" font-weight="normal" fill="#231f20">Post</text>
<line x1="489.40" y1="252.60" x2="507.90" y2="252.60" stroke="#333" stroke-width="1"/>
<path d="M498.65,244.80 L499.21,246.33 L500.84,246.39 L499.55,247.39 L500.00,248.96 L498.65,248.05 L497.30,248.96 L497.75,247.39 L496.46,246.39 L498.09,246.33Z" fill="#111"/>
<text x="448.0" y="285.0" font-size="10" text-anchor="middle" font-weight="normal" fill="#231f20" transform="rotate(-90 448.0 285.0)">Time in zone (s)</text>
<line x1="625.10" y1="250.50" x2="625.10" y2="323.80" stroke="#2b2b2b" stroke-width="0.9"/>
<line x1="622.50" y1="323.80" x2="625.10" y2="323.80" stroke="#2b2b2b" stroke-width="0.9"/>
<text x="620.5" y="326.6" font-size="10" text-anchor="end" font-weight="normal" fill="#231f20">-0.5</text>
<line x1="622.50" y1="299.37" x2="625.10" y2="299.37" stroke="#2b2b2b" stroke-width="0.9"/>
<text x="620.5" y="302.1666666666667" font-size="10" text-anchor="end" font-weight="normal" fill="#231f20">0.0</text>
<line x1="622.50" y1="274.93" x2="625.10" y2="274.93" stroke="#2b2b2b" stroke-width="0.9"/>
<text x="620.5" y="277.73333333333335" font-size="10" text-anchor="end" font-weight="normal" fill="#231f20">0.5</text>
<line x1="622.50" y1="250.50" x2="625.10" y2="250.50" stroke="#2b2b2b" stroke-width="0.9"/>
<text x="620.5" y="253.3" font-size="10" text-anchor="end" font-weight="normal" fill="#231f20">1.0</text>
<line x1="625.10" y1="299.37" x2="685.00" y2="299.37" stroke="#2b2b2b" stroke-width="0.9"/>
<line x1="622.50" y1="323.80" x2="685.00" y2="323.80" stroke="#2b2b2b" stroke-width="0.9"/>
<rect x="634.30" y="279.80" width="16.70" height="19.57" fill="#a6ccd9" stroke="none" stroke-width="1"/>
<rect x="660.05" y="296.05" width="16.10" height="3.32" fill="white" stroke="#e7aab4" stroke-width="1.1"/>
<line x1="642.70" y1="323.80" x2="642.70" y2="326.60" stroke="#2b2b2b" stroke-width="0.9"/>
<line x1="667.90" y1="323.80" x2="667.90" y2="326.60" stroke="#2b2b2b" stroke-width="0.9"/>
<line x1="642.70" y1="256.40" x2="667.90" y2="297.00" stroke="#111" stroke-width="0.9"/>
<line x1="642.70" y1="256.40" x2="667.90" y2="309.40" stroke="#111" stroke-width="0.9"/>
<line x1="642.70" y1="279.50" x2="667.90" y2="283.90" stroke="#111" stroke-width="0.9"/>
<line x1="642.70" y1="281.40" x2="667.90" y2="286.10" stroke="#111" stroke-width="0.9"/>
<line x1="642.70" y1="283.10" x2="667.90" y2="299.20" stroke="#111" stroke-width="0.9"/>
<line x1="642.70" y1="285.30" x2="667.90" y2="288.70" stroke="#111" stroke-width="0.9"/>
<line x1="642.70" y1="297.00" x2="667.90" y2="301.80" stroke="#111" stroke-width="0.9"/>
<line x1="642.70" y1="298.00" x2="667.90" y2="298.50" stroke="#111" stroke-width="0.9"/>
<circle cx="642.70" cy="256.40" r="1.85" fill="#2b70ad" stroke="none" stroke-width="1"/>
<circle cx="642.70" cy="256.40" r="1.85" fill="#2b70ad" stroke="none" stroke-width="1"/>
<circle cx="642.70" cy="279.50" r="1.85" fill="#2b70ad" stroke="none" stroke-width="1"/>
<circle cx="642.70" cy="281.40" r="1.85" fill="#2b70ad" stroke="none" stroke-width="1"/>
<circle cx="642.70" cy="283.10" r="1.85" fill="#2b70ad" stroke="none" stroke-width="1"/>
<circle cx="642.70" cy="285.30" r="1.85" fill="#2b70ad" stroke="none" stroke-width="1"/>
<circle cx="642.70" cy="297.00" r="1.85" fill="#2b70ad" stroke="none" stroke-width="1"/>
<circle cx="642.70" cy="298.00" r="1.85" fill="#2b70ad" stroke="none" stroke-width="1"/>
<circle cx="667.90" cy="297.00" r="1.50" fill="white" stroke="#c83c48" stroke-width="0.7"/>
<circle cx="667.90" cy="309.40" r="1.50" fill="white" stroke="#c83c48" stroke-width="0.7"/>
<circle cx="667.90" cy="283.90" r="1.50" fill="white" stroke="#c83c48" stroke-width="0.7"/>
<circle cx="667.90" cy="286.10" r="1.50" fill="white" stroke="#c83c48" stroke-width="0.7"/>
<circle cx="667.90" cy="299.20" r="1.50" fill="white" stroke="#c83c48" stroke-width="0.7"/>
<circle cx="667.90" cy="288.70" r="1.50" fill="white" stroke="#c83c48" stroke-width="0.7"/>
<circle cx="667.90" cy="301.80" r="1.50" fill="white" stroke="#c83c48" stroke-width="0.7"/>
<circle cx="667.90" cy="298.50" r="1.50" fill="white" stroke="#c83c48" stroke-width="0.7"/>
<text x="641.2" y="337.4" font-size="10" text-anchor="middle" font-weight="normal" fill="#231f20">Pre</text>
<text x="669.7" y="337.4" font-size="10" text-anchor="middle" font-weight="normal" fill="#231f20">Post</text>
<text x="602.2" y="285.8" font-size="10" text-anchor="middle" font-weight="normal" fill="#231f20" transform="rotate(-90 602.2 285.8)">Discrimination score</text>
<text x="637.8" y="248.4" font-size="10" text-anchor="start" font-weight="normal" fill="#231f20" textLength="37" lengthAdjust="spacingAndGlyphs">P=0.052</text>
<line x1="50.60" y1="397.40" x2="50.60" y2="474.60" stroke="#2b2b2b" stroke-width="0.9"/>
<line x1="48.00" y1="474.60" x2="50.60" y2="474.60" stroke="#2b2b2b" stroke-width="0.9"/>
<text x="46.0" y="477.40000000000003" font-size="10" text-anchor="end" font-weight="normal" fill="#231f20">0</text>
<line x1="48.00" y1="448.87" x2="50.60" y2="448.87" stroke="#2b2b2b" stroke-width="0.9"/>
<text x="46.0" y="451.6666666666667" font-size="10" text-anchor="end" font-weight="normal" fill="#231f20">100</text>
<line x1="48.00" y1="423.13" x2="50.60" y2="423.13" stroke="#2b2b2b" stroke-width="0.9"/>
<text x="46.0" y="425.93333333333334" font-size="10" text-anchor="end" font-weight="normal" fill="#231f20">200</text>
<line x1="48.00" y1="397.40" x2="50.60" y2="397.40" stroke="#2b2b2b" stroke-width="0.9"/>
<text x="46.0" y="400.2" font-size="10" text-anchor="end" font-weight="normal" fill="#231f20">300</text>
<line x1="48.00" y1="474.60" x2="101.80" y2="474.60" stroke="#2b2b2b" stroke-width="0.9"/>
<rect x="58.40" y="432.00" width="14.50" height="42.60" fill="#a6ccd9" stroke="none" stroke-width="1"/>
<rect x="79.95" y="454.65" width="14.10" height="19.95" fill="white" stroke="#d6d6d6" stroke-width="1.3"/>
<line x1="65.50" y1="474.60" x2="65.50" y2="477.40" stroke="#2b2b2b" stroke-width="0.9"/>
<line x1="87.20" y1="474.60" x2="87.20" y2="477.40" stroke="#2b2b2b" stroke-width="0.9"/>
<line x1="65.50" y1="413.60" x2="87.20" y2="448.00" stroke="#111" stroke-width="0.9"/>
<line x1="65.50" y1="421.60" x2="87.20" y2="450.00" stroke="#111" stroke-width="0.9"/>
<line x1="65.50" y1="428.00" x2="87.20" y2="452.00" stroke="#111" stroke-width="0.9"/>
<line x1="65.50" y1="432.00" x2="87.20" y2="455.00" stroke="#111" stroke-width="0.9"/>
<line x1="65.50" y1="437.00" x2="87.20" y2="458.00" stroke="#111" stroke-width="0.9"/>
<line x1="65.50" y1="440.00" x2="87.20" y2="461.00" stroke="#111" stroke-width="0.9"/>
<line x1="65.50" y1="442.00" x2="87.20" y2="464.40" stroke="#111" stroke-width="0.9"/>
<line x1="65.50" y1="444.40" x2="87.20" y2="449.00" stroke="#111" stroke-width="0.9"/>
<circle cx="87.20" cy="448.00" r="1.45" fill="white" stroke="#555" stroke-width="0.75"/>
<circle cx="87.20" cy="450.00" r="1.45" fill="white" stroke="#555" stroke-width="0.75"/>
<circle cx="87.20" cy="452.00" r="1.45" fill="white" stroke="#555" stroke-width="0.75"/>
<circle cx="87.20" cy="455.00" r="1.45" fill="white" stroke="#555" stroke-width="0.75"/>
<circle cx="87.20" cy="458.00" r="1.45" fill="white" stroke="#555" stroke-width="0.75"/>
<circle cx="87.20" cy="461.00" r="1.45" fill="white" stroke="#555" stroke-width="0.75"/>
<circle cx="87.20" cy="464.40" r="1.45" fill="white" stroke="#555" stroke-width="0.75"/>
<circle cx="87.20" cy="449.00" r="1.45" fill="white" stroke="#555" stroke-width="0.75"/>
<circle cx="65.50" cy="413.60" r="1.85" fill="#2b70ad" stroke="none" stroke-width="1"/>
<circle cx="65.50" cy="421.60" r="1.85" fill="#2b70ad" stroke="none" stroke-width="1"/>
<circle cx="65.50" cy="428.00" r="1.85" fill="#2b70ad" stroke="none" stroke-width="1"/>
<circle cx="65.50" cy="432.00" r="1.85" fill="#2b70ad" stroke="none" stroke-width="1"/>
<circle cx="65.50" cy="437.00" r="1.85" fill="#2b70ad" stroke="none" stroke-width="1"/>
<circle cx="65.50" cy="440.00" r="1.85" fill="#2b70ad" stroke="none" stroke-width="1"/>
<circle cx="65.50" cy="442.00" r="1.85" fill="#2b70ad" stroke="none" stroke-width="1"/>
<circle cx="65.50" cy="444.40" r="1.85" fill="#2b70ad" stroke="none" stroke-width="1"/>
<text x="71.6" y="483.5" font-size="10" text-anchor="end" font-weight="normal" fill="#231f20" transform="rotate(-30 71.6 483.5)">Social</text>
<text x="93.1" y="483.6" font-size="10" text-anchor="end" font-weight="normal" fill="#231f20" transform="rotate(-30 93.1 483.6)">Empty</text>
<line x1="105.90" y1="474.60" x2="158.00" y2="474.60" stroke="#2b2b2b" stroke-width="0.9"/>
<rect x="113.20" y="437.50" width="14.70" height="37.10" fill="#e6b7c0" stroke="none" stroke-width="1"/>
<rect x="136.15" y="457.95" width="13.90" height="16.65" fill="white" stroke="#d6d6d6" stroke-width="1.3"/>
<line x1="120.70" y1="474.60" x2="120.70" y2="477.40" stroke="#2b2b2b" stroke-width="0.9"/>
<line x1="142.90" y1="474.60" x2="142.90" y2="477.40" stroke="#2b2b2b" stroke-width="0.9"/>
<line x1="120.70" y1="422.90" x2="142.90" y2="447.10" stroke="#111" stroke-width="0.9"/>
<line x1="120.70" y1="425.00" x2="142.90" y2="448.90" stroke="#111" stroke-width="0.9"/>
<line x1="120.70" y1="426.80" x2="142.90" y2="451.30" stroke="#111" stroke-width="0.9"/>
<line x1="120.70" y1="428.60" x2="142.90" y2="447.50" stroke="#111" stroke-width="0.9"/>
<line x1="120.70" y1="434.00" x2="142.90" y2="449.50" stroke="#111" stroke-width="0.9"/>
<line x1="120.70" y1="442.60" x2="142.90" y2="458.50" stroke="#111" stroke-width="0.9"/>
<line x1="120.70" y1="447.10" x2="142.90" y2="465.10" stroke="#111" stroke-width="0.9"/>
<line x1="120.70" y1="448.90" x2="142.90" y2="469.30" stroke="#111" stroke-width="0.9"/>
<line x1="120.70" y1="450.70" x2="142.90" y2="466.00" stroke="#111" stroke-width="0.9"/>
<circle cx="142.90" cy="447.10" r="1.45" fill="white" stroke="#555" stroke-width="0.75"/>
<circle cx="142.90" cy="448.90" r="1.45" fill="white" stroke="#555" stroke-width="0.75"/>
<circle cx="142.90" cy="451.30" r="1.45" fill="white" stroke="#555" stroke-width="0.75"/>
<circle cx="142.90" cy="447.50" r="1.45" fill="white" stroke="#555" stroke-width="0.75"/>
<circle cx="142.90" cy="449.50" r="1.45" fill="white" stroke="#555" stroke-width="0.75"/>
<circle cx="142.90" cy="458.50" r="1.45" fill="white" stroke="#555" stroke-width="0.75"/>
<circle cx="142.90" cy="465.10" r="1.45" fill="white" stroke="#555" stroke-width="0.75"/>
<circle cx="142.90" cy="469.30" r="1.45" fill="white" stroke="#555" stroke-width="0.75"/>
<circle cx="142.90" cy="466.00" r="1.45" fill="white" stroke="#555" stroke-width="0.75"/>
<circle cx="120.70" cy="422.90" r="1.85" fill="#c83c48" stroke="none" stroke-width="1"/>
<circle cx="120.70" cy="425.00" r="1.85" fill="#c83c48" stroke="none" stroke-width="1"/>
<circle cx="120.70" cy="426.80" r="1.85" fill="#c83c48" stroke="none" stroke-width="1"/>
<circle cx="120.70" cy="428.60" r="1.85" fill="#c83c48" stroke="none" stroke-width="1"/>
<circle cx="120.70" cy="434.00" r="1.85" fill="#c83c48" stroke="none" stroke-width="1"/>
<circle cx="120.70" cy="442.60" r="1.85" fill="#c83c48" stroke="none" stroke-width="1"/>
<circle cx="120.70" cy="447.10" r="1.85" fill="#c83c48" stroke="none" stroke-width="1"/>
<circle cx="120.70" cy="448.90" r="1.85" fill="#c83c48" stroke="none" stroke-width="1"/>
<circle cx="120.70" cy="450.70" r="1.85" fill="#c83c48" stroke="none" stroke-width="1"/>
<text x="126.8" y="484.1" font-size="10" text-anchor="end" font-weight="normal" fill="#231f20" transform="rotate(-30 126.8 484.1)">Social</text>
<text x="148.2" y="484.2" font-size="10" text-anchor="end" font-weight="normal" fill="#231f20" transform="rotate(-30 148.2 484.2)">Empty</text>
<text x="78" y="386.6" font-size="10" text-anchor="middle" font-weight="normal" fill="#231f20">Pre</text>
<text x="133.4" y="385.8" font-size="10" text-anchor="middle" font-weight="normal" fill="#231f20">Post</text>
<line x1="68.00" y1="399.00" x2="86.40" y2="399.00" stroke="#333" stroke-width="1"/>
<path d="M75.03,391.20 L75.59,392.73 L77.22,392.79 L75.93,393.79 L76.38,395.36 L75.03,394.45 L73.68,395.36 L74.13,393.79 L72.84,392.79 L74.47,392.73Z M79.37,391.20 L79.93,392.73 L81.56,392.79 L80.27,393.79 L80.72,395.36 L79.37,394.45 L78.02,395.36 L78.47,393.79 L77.18,392.79 L78.81,392.73Z" fill="#111"/>
<line x1="122.40" y1="399.00" x2="141.00" y2="399.00" stroke="#333" stroke-width="1"/>
<path d="M125.19,391.20 L125.75,392.73 L127.38,392.79 L126.09,393.79 L126.54,395.36 L125.19,394.45 L123.84,395.36 L124.29,393.79 L123.00,392.79 L124.63,392.73Z M129.53,391.20 L130.09,392.73 L131.72,392.79 L130.43,393.79 L130.88,395.36 L129.53,394.45 L128.18,395.36 L128.63,393.79 L127.34,392.79 L128.97,392.73Z M133.87,391.20 L134.43,392.73 L136.06,392.79 L134.77,393.79 L135.22,395.36 L133.87,394.45 L132.52,395.36 L132.97,393.79 L131.68,392.79 L133.31,392.73Z M138.21,391.20 L138.77,392.73 L140.40,392.79 L139.11,393.79 L139.56,395.36 L138.21,394.45 L136.86,395.36 L137.31,393.79 L136.02,392.79 L137.65,392.73Z" fill="#111"/>
<text x="28.3" y="431.6" font-size="10" text-anchor="middle" font-weight="normal" fill="#231f20" transform="rotate(-90 28.3 431.6)">Time in zone (s)</text>
<line x1="197.60" y1="394.80" x2="197.60" y2="474.60" stroke="#2b2b2b" stroke-width="0.9"/>
<line x1="195.00" y1="474.60" x2="197.60" y2="474.60" stroke="#2b2b2b" stroke-width="0.9"/>
<text x="193.0" y="477.40000000000003" font-size="10" text-anchor="end" font-weight="normal" fill="#231f20">-0.5</text>
<line x1="195.00" y1="448.00" x2="197.60" y2="448.00" stroke="#2b2b2b" stroke-width="0.9"/>
<text x="193.0" y="450.8" font-size="10" text-anchor="end" font-weight="normal" fill="#231f20">0.0</text>
<line x1="195.00" y1="421.40" x2="197.60" y2="421.40" stroke="#2b2b2b" stroke-width="0.9"/>
<text x="193.0" y="424.20000000000005" font-size="10" text-anchor="end" font-weight="normal" fill="#231f20">0.5</text>
<line x1="195.00" y1="394.80" x2="197.60" y2="394.80" stroke="#2b2b2b" stroke-width="0.9"/>
<text x="193.0" y="397.6" font-size="10" text-anchor="end" font-weight="normal" fill="#231f20">1.0</text>
<line x1="197.60" y1="448.00" x2="259.80" y2="448.00" stroke="#2b2b2b" stroke-width="0.9"/>
<line x1="195.00" y1="474.60" x2="259.80" y2="474.60" stroke="#2b2b2b" stroke-width="0.9"/>
<rect x="207.00" y="430.10" width="17.50" height="17.90" fill="#a6ccd9" stroke="none" stroke-width="1"/>
<rect x="233.65" y="426.75" width="17.00" height="21.25" fill="white" stroke="#e7aab4" stroke-width="1.1"/>
<line x1="215.40" y1="474.60" x2="215.40" y2="477.40" stroke="#2b2b2b" stroke-width="0.9"/>
<line x1="242.00" y1="474.60" x2="242.00" y2="477.40" stroke="#2b2b2b" stroke-width="0.9"/>
<line x1="215.40" y1="410.00" x2="242.00" y2="409.20" stroke="#111" stroke-width="0.9"/>
<line x1="215.40" y1="420.50" x2="242.00" y2="430.70" stroke="#111" stroke-width="0.9"/>
<line x1="215.40" y1="422.30" x2="242.00" y2="424.90" stroke="#111" stroke-width="0.9"/>
<line x1="215.40" y1="426.20" x2="242.00" y2="432.20" stroke="#111" stroke-width="0.9"/>
<line x1="215.40" y1="432.70" x2="242.00" y2="411.80" stroke="#111" stroke-width="0.9"/>
<line x1="215.40" y1="438.50" x2="242.00" y2="434.00" stroke="#111" stroke-width="0.9"/>
<line x1="215.40" y1="440.00" x2="242.00" y2="430.70" stroke="#111" stroke-width="0.9"/>
<line x1="215.40" y1="441.90" x2="242.00" y2="432.20" stroke="#111" stroke-width="0.9"/>
<line x1="215.40" y1="444.00" x2="242.00" y2="434.00" stroke="#111" stroke-width="0.9"/>
<circle cx="215.40" cy="410.00" r="1.85" fill="#2b70ad" stroke="none" stroke-width="1"/>
<circle cx="215.40" cy="420.50" r="1.85" fill="#2b70ad" stroke="none" stroke-width="1"/>
<circle cx="215.40" cy="422.30" r="1.85" fill="#2b70ad" stroke="none" stroke-width="1"/>
<circle cx="215.40" cy="426.20" r="1.85" fill="#2b70ad" stroke="none" stroke-width="1"/>
<circle cx="215.40" cy="432.70" r="1.85" fill="#2b70ad" stroke="none" stroke-width="1"/>
<circle cx="215.40" cy="438.50" r="1.85" fill="#2b70ad" stroke="none" stroke-width="1"/>
<circle cx="215.40" cy="440.00" r="1.85" fill="#2b70ad" stroke="none" stroke-width="1"/>
<circle cx="215.40" cy="441.90" r="1.85" fill="#2b70ad" stroke="none" stroke-width="1"/>
<circle cx="215.40" cy="444.00" r="1.85" fill="#2b70ad" stroke="none" stroke-width="1"/>
<circle cx="242.00" cy="409.20" r="1.50" fill="white" stroke="#c83c48" stroke-width="0.7"/>
<circle cx="242.00" cy="430.70" r="1.50" fill="white" stroke="#c83c48" stroke-width="0.7"/>
<circle cx="242.00" cy="424.90" r="1.50" fill="white" stroke="#c83c48" stroke-width="0.7"/>
<circle cx="242.00" cy="432.20" r="1.50" fill="white" stroke="#c83c48" stroke-width="0.7"/>
<circle cx="242.00" cy="411.80" r="1.50" fill="white" stroke="#c83c48" stroke-width="0.7"/>
<circle cx="242.00" cy="434.00" r="1.50" fill="white" stroke="#c83c48" stroke-width="0.7"/>
<circle cx="242.00" cy="430.70" r="1.50" fill="white" stroke="#c83c48" stroke-width="0.7"/>
<circle cx="242.00" cy="432.20" r="1.50" fill="white" stroke="#c83c48" stroke-width="0.7"/>
<circle cx="242.00" cy="434.00" r="1.50" fill="white" stroke="#c83c48" stroke-width="0.7"/>
<text x="214" y="485.6" font-size="10" text-anchor="middle" font-weight="normal" fill="#231f20">Pre</text>
<text x="242.8" y="485.6" font-size="10" text-anchor="middle" font-weight="normal" fill="#231f20">Post</text>
<text x="172.2" y="434" font-size="10" text-anchor="middle" font-weight="normal" fill="#231f20" transform="rotate(-90 172.2 434)">Discrimination score</text>
<line x1="472.00" y1="397.50" x2="472.00" y2="475.60" stroke="#2b2b2b" stroke-width="0.9"/>
<line x1="469.40" y1="475.60" x2="472.00" y2="475.60" stroke="#2b2b2b" stroke-width="0.9"/>
<text x="467.4" y="478.40000000000003" font-size="10" text-anchor="end" font-weight="normal" fill="#231f20">0</text>
<line x1="469.40" y1="449.57" x2="472.00" y2="449.57" stroke="#2b2b2b" stroke-width="0.9"/>
<text x="467.4" y="452.3666666666667" font-size="10" text-anchor="end" font-weight="normal" fill="#231f20">100</text>
<line x1="469.40" y1="423.53" x2="472.00" y2="423.53" stroke="#2b2b2b" stroke-width="0.9"/>
<text x="467.4" y="426.33333333333337" font-size="10" text-anchor="end" font-weight="normal" fill="#231f20">200</text>
<line x1="469.40" y1="397.50" x2="472.00" y2="397.50" stroke="#2b2b2b" stroke-width="0.9"/>
<text x="467.4" y="400.3" font-size="10" text-anchor="end" font-weight="normal" fill="#231f20">300</text>
<line x1="469.50" y1="475.60" x2="523.00" y2="475.60" stroke="#2b2b2b" stroke-width="0.9"/>
<rect x="480.00" y="430.40" width="14.40" height="45.20" fill="#a6ccd9" stroke="none" stroke-width="1"/>
<rect x="501.65" y="455.05" width="14.10" height="20.55" fill="white" stroke="#d6d6d6" stroke-width="1.3"/>
<line x1="487.40" y1="475.60" x2="487.40" y2="478.40" stroke="#2b2b2b" stroke-width="0.9"/>
<line x1="509.00" y1="475.60" x2="509.00" y2="478.40" stroke="#2b2b2b" stroke-width="0.9"/>
<line x1="487.40" y1="421.00" x2="509.00" y2="440.40" stroke="#111" stroke-width="0.9"/>
<line x1="487.40" y1="423.00" x2="509.00" y2="449.60" stroke="#111" stroke-width="0.9"/>
<line x1="487.40" y1="426.60" x2="509.00" y2="452.00" stroke="#111" stroke-width="0.9"/>
<line x1="487.40" y1="428.40" x2="509.00" y2="455.00" stroke="#111" stroke-width="0.9"/>
<line x1="487.40" y1="434.40" x2="509.00" y2="457.00" stroke="#111" stroke-width="0.9"/>
<line x1="487.40" y1="439.40" x2="509.00" y2="459.00" stroke="#111" stroke-width="0.9"/>
<line x1="487.40" y1="446.40" x2="509.00" y2="465.60" stroke="#111" stroke-width="0.9"/>
<circle cx="509.00" cy="440.40" r="1.45" fill="white" stroke="#555" stroke-width="0.75"/>
<circle cx="509.00" cy="449.60" r="1.45" fill="white" stroke="#555" stroke-width="0.75"/>
<circle cx="509.00" cy="452.00" r="1.45" fill="white" stroke="#555" stroke-width="0.75"/>
<circle cx="509.00" cy="455.00" r="1.45" fill="white" stroke="#555" stroke-width="0.75"/>
<circle cx="509.00" cy="457.00" r="1.45" fill="white" stroke="#555" stroke-width="0.75"/>
<circle cx="509.00" cy="459.00" r="1.45" fill="white" stroke="#555" stroke-width="0.75"/>
<circle cx="509.00" cy="465.60" r="1.45" fill="white" stroke="#555" stroke-width="0.75"/>
<circle cx="487.40" cy="421.00" r="1.85" fill="#2b70ad" stroke="none" stroke-width="1"/>
<circle cx="487.40" cy="423.00" r="1.85" fill="#2b70ad" stroke="none" stroke-width="1"/>
<circle cx="487.40" cy="426.60" r="1.85" fill="#2b70ad" stroke="none" stroke-width="1"/>
<circle cx="487.40" cy="428.40" r="1.85" fill="#2b70ad" stroke="none" stroke-width="1"/>
<circle cx="487.40" cy="434.40" r="1.85" fill="#2b70ad" stroke="none" stroke-width="1"/>
<circle cx="487.40" cy="439.40" r="1.85" fill="#2b70ad" stroke="none" stroke-width="1"/>
<circle cx="487.40" cy="446.40" r="1.85" fill="#2b70ad" stroke="none" stroke-width="1"/>
<text x="497.6" y="483.8" font-size="10" text-anchor="end" font-weight="normal" fill="#231f20" transform="rotate(-30 497.6 483.8)">Stranger</text>
<text x="518.9" y="487.8" font-size="10" text-anchor="end" font-weight="normal" fill="#231f20" transform="rotate(-30 518.9 487.8)">Original</text>
<line x1="526.40" y1="475.60" x2="574.00" y2="475.60" stroke="#2b2b2b" stroke-width="0.9"/>
<rect x="534.00" y="425.00" width="14.40" height="50.60" fill="#e6b7c0" stroke="none" stroke-width="1"/>
<rect x="556.25" y="465.05" width="14.10" height="10.55" fill="white" stroke="#d6d6d6" stroke-width="1.3"/>
<line x1="541.00" y1="475.60" x2="541.00" y2="478.40" stroke="#2b2b2b" stroke-width="0.9"/>
<line x1="563.00" y1="475.60" x2="563.00" y2="478.40" stroke="#2b2b2b" stroke-width="0.9"/>
<line x1="541.00" y1="410.40" x2="563.00" y2="453.60" stroke="#111" stroke-width="0.9"/>
<line x1="541.00" y1="418.00" x2="563.00" y2="462.00" stroke="#111" stroke-width="0.9"/>
<line x1="541.00" y1="419.60" x2="563.00" y2="466.00" stroke="#111" stroke-width="0.9"/>
<line x1="541.00" y1="423.60" x2="563.00" y2="468.00" stroke="#111" stroke-width="0.9"/>
<line x1="541.00" y1="429.60" x2="563.00" y2="470.00" stroke="#111" stroke-width="0.9"/>
<line x1="541.00" y1="434.40" x2="563.00" y2="472.00" stroke="#111" stroke-width="0.9"/>
<line x1="541.00" y1="436.00" x2="563.00" y2="473.00" stroke="#111" stroke-width="0.9"/>
<circle cx="563.00" cy="453.60" r="1.45" fill="white" stroke="#555" stroke-width="0.75"/>
<circle cx="563.00" cy="462.00" r="1.45" fill="white" stroke="#555" stroke-width="0.75"/>
<circle cx="563.00" cy="466.00" r="1.45" fill="white" stroke="#555" stroke-width="0.75"/>
<circle cx="563.00" cy="468.00" r="1.45" fill="white" stroke="#555" stroke-width="0.75"/>
<circle cx="563.00" cy="470.00" r="1.45" fill="white" stroke="#555" stroke-width="0.75"/>
<circle cx="563.00" cy="472.00" r="1.45" fill="white" stroke="#555" stroke-width="0.75"/>
<circle cx="563.00" cy="473.00" r="1.45" fill="white" stroke="#555" stroke-width="0.75"/>
<circle cx="541.00" cy="410.40" r="1.85" fill="#c83c48" stroke="none" stroke-width="1"/>
<circle cx="541.00" cy="418.00" r="1.85" fill="#c83c48" stroke="none" stroke-width="1"/>
<circle cx="541.00" cy="419.60" r="1.85" fill="#c83c48" stroke="none" stroke-width="1"/>
<circle cx="541.00" cy="423.60" r="1.85" fill="#c83c48" stroke="none" stroke-width="1"/>
<circle cx="541.00" cy="429.60" r="1.85" fill="#c83c48" stroke="none" stroke-width="1"/>
<circle cx="541.00" cy="434.40" r="1.85" fill="#c83c48" stroke="none" stroke-width="1"/>
<circle cx="541.00" cy="436.00" r="1.85" fill="#c83c48" stroke="none" stroke-width="1"/>
<text x="550.8" y="483.8" font-size="10" text-anchor="end" font-weight="normal" fill="#231f20" transform="rotate(-30 550.8 483.8)">Stranger</text>
<text x="569.7" y="484.6" font-size="10" text-anchor="end" font-weight="normal" fill="#231f20" transform="rotate(-30 569.7 484.6)">Original</text>
<text x="500.4" y="386" font-size="10" text-anchor="middle" font-weight="normal" fill="#231f20">Pre</text>
<text x="553.6" y="386" font-size="10" text-anchor="middle" font-weight="normal" fill="#231f20">Post</text>
<line x1="490.00" y1="399.60" x2="508.60" y2="399.60" stroke="#333" stroke-width="1"/>
<path d="M494.96,391.80 L495.52,393.33 L497.15,393.39 L495.86,394.39 L496.31,395.96 L494.96,395.05 L493.61,395.96 L494.06,394.39 L492.77,393.39 L494.40,393.33Z M499.30,391.80 L499.86,393.33 L501.49,393.39 L500.20,394.39 L500.65,395.96 L499.30,395.05 L497.95,395.96 L498.40,394.39 L497.11,393.39 L498.74,393.33Z M503.64,391.80 L504.20,393.33 L505.83,393.39 L504.54,394.39 L504.99,395.96 L503.64,395.05 L502.29,395.96 L502.74,394.39 L501.45,393.39 L503.08,393.33Z" fill="#111"/>
<line x1="543.00" y1="399.60" x2="561.60" y2="399.60" stroke="#333" stroke-width="1"/>
<path d="M545.79,391.80 L546.35,393.33 L547.98,393.39 L546.69,394.39 L547.14,395.96 L545.79,395.05 L544.44,395.96 L544.89,394.39 L543.60,393.39 L545.23,393.33Z M550.13,391.80 L550.69,393.33 L552.32,393.39 L551.03,394.39 L551.48,395.96 L550.13,395.05 L548.78,395.96 L549.23,394.39 L547.94,393.39 L549.57,393.33Z M554.47,391.80 L555.03,393.33 L556.66,393.39 L555.37,394.39 L555.82,395.96 L554.47,395.05 L553.12,395.96 L553.57,394.39 L552.28,393.39 L553.91,393.33Z M558.81,391.80 L559.37,393.33 L561.00,393.39 L559.71,394.39 L560.16,395.96 L558.81,395.05 L557.46,395.96 L557.91,394.39 L556.62,393.39 L558.25,393.33Z" fill="#111"/>
<text x="447.4" y="433.8" font-size="10" text-anchor="middle" font-weight="normal" fill="#231f20" transform="rotate(-90 447.4 433.8)">Time in zone (s)</text>
<line x1="624.90" y1="397.40" x2="624.90" y2="474.50" stroke="#2b2b2b" stroke-width="0.9"/>
<line x1="622.30" y1="474.50" x2="624.90" y2="474.50" stroke="#2b2b2b" stroke-width="0.9"/>
<text x="620.3" y="477.3" font-size="10" text-anchor="end" font-weight="normal" fill="#231f20">-0.5</text>
<line x1="622.30" y1="448.80" x2="624.90" y2="448.80" stroke="#2b2b2b" stroke-width="0.9"/>
<text x="620.3" y="451.6" font-size="10" text-anchor="end" font-weight="normal" fill="#231f20">0.0</text>
<line x1="622.30" y1="423.10" x2="624.90" y2="423.10" stroke="#2b2b2b" stroke-width="0.9"/>
<text x="620.3" y="425.9" font-size="10" text-anchor="end" font-weight="normal" fill="#231f20">0.5</text>
<line x1="622.30" y1="397.40" x2="624.90" y2="397.40" stroke="#2b2b2b" stroke-width="0.9"/>
<text x="620.3" y="400.2" font-size="10" text-anchor="end" font-weight="normal" fill="#231f20">1.0</text>
<line x1="624.90" y1="448.80" x2="685.00" y2="448.80" stroke="#2b2b2b" stroke-width="0.9"/>
<line x1="622.30" y1="474.50" x2="685.00" y2="474.50" stroke="#2b2b2b" stroke-width="0.9"/>
<rect x="633.30" y="430.10" width="16.40" height="18.70" fill="#a6ccd9" stroke="none" stroke-width="1"/>
<rect x="659.45" y="416.25" width="15.90" height="32.55" fill="white" stroke="#e7aab4" stroke-width="1.1"/>
<line x1="641.90" y1="474.50" x2="641.90" y2="477.30" stroke="#2b2b2b" stroke-width="0.9"/>
<line x1="667.20" y1="474.50" x2="667.20" y2="477.30" stroke="#2b2b2b" stroke-width="0.9"/>
<line x1="641.90" y1="415.70" x2="667.20" y2="411.80" stroke="#111" stroke-width="0.9"/>
<line x1="641.90" y1="421.80" x2="667.20" y2="406.60" stroke="#111" stroke-width="0.9"/>
<line x1="641.90" y1="430.60" x2="667.20" y2="414.40" stroke="#111" stroke-width="0.9"/>
<line x1="641.90" y1="432.20" x2="667.20" y2="408.70" stroke="#111" stroke-width="0.9"/>
<line x1="641.90" y1="434.00" x2="667.20" y2="416.50" stroke="#111" stroke-width="0.9"/>
<line x1="641.90" y1="436.60" x2="667.20" y2="418.40" stroke="#111" stroke-width="0.9"/>
<line x1="641.90" y1="440.00" x2="667.20" y2="426.20" stroke="#111" stroke-width="0.9"/>
<circle cx="641.90" cy="415.70" r="1.85" fill="#2b70ad" stroke="none" stroke-width="1"/>
<circle cx="641.90" cy="421.80" r="1.85" fill="#2b70ad" stroke="none" stroke-width="1"/>
<circle cx="641.90" cy="430.60" r="1.85" fill="#2b70ad" stroke="none" stroke-width="1"/>
<circle cx="641.90" cy="432.20" r="1.85" fill="#2b70ad" stroke="none" stroke-width="1"/>
<circle cx="641.90" cy="434.00" r="1.85" fill="#2b70ad" stroke="none" stroke-width="1"/>
<circle cx="641.90" cy="436.60" r="1.85" fill="#2b70ad" stroke="none" stroke-width="1"/>
<circle cx="641.90" cy="440.00" r="1.85" fill="#2b70ad" stroke="none" stroke-width="1"/>
<circle cx="667.20" cy="411.80" r="1.50" fill="white" stroke="#c83c48" stroke-width="0.7"/>
<circle cx="667.20" cy="406.60" r="1.50" fill="white" stroke="#c83c48" stroke-width="0.7"/>
<circle cx="667.20" cy="414.40" r="1.50" fill="white" stroke="#c83c48" stroke-width="0.7"/>
<circle cx="667.20" cy="408.70" r="1.50" fill="white" stroke="#c83c48" stroke-width="0.7"/>
<circle cx="667.20" cy="416.50" r="1.50" fill="white" stroke="#c83c48" stroke-width="0.7"/>
<circle cx="667.20" cy="418.40" r="1.50" fill="white" stroke="#c83c48" stroke-width="0.7"/>
<circle cx="667.20" cy="426.20" r="1.50" fill="white" stroke="#c83c48" stroke-width="0.7"/>
<text x="642.7" y="487.1" font-size="10" text-anchor="middle" font-weight="normal" fill="#231f20">Pre</text>
<text x="668" y="487.1" font-size="10" text-anchor="middle" font-weight="normal" fill="#231f20">Post</text>
<text x="602.5" y="433.4" font-size="10" text-anchor="middle" font-weight="normal" fill="#231f20" transform="rotate(-90 602.5 433.4)">Discrimination score</text>
<line x1="645.80" y1="398.20" x2="663.60" y2="398.20" stroke="#333" stroke-width="1"/>
<path d="M652.53,390.40 L653.09,391.93 L654.72,391.99 L653.43,392.99 L653.88,394.56 L652.53,393.65 L651.18,394.56 L651.63,392.99 L650.34,391.99 L651.97,391.93Z M656.87,390.40 L657.43,391.93 L659.06,391.99 L657.77,392.99 L658.22,394.56 L656.87,393.65 L655.52,394.56 L655.97,392.99 L654.68,391.99 L656.31,391.93Z" fill="#111"/>
<clipPath id="tb1"><rect x="24.9" y="241.8" width="66.19999999999999" height="97.09999999999997"/></clipPath>
<g clip-path="url(#tb1)" fill="none" stroke="#000" stroke-width="0.34" stroke-linejoin="round"><path d="M31.5,245.9 L34.5,243.3 L38.9,243.7 L41.6,244.2 L42.7,244.0 L47.6,244.5 L51.8,244.1 L58.1,243.8 L62.9,244.0 L66.6,245.1 L70.5,246.2 L73.9,245.3 L77.9,244.5 L81.1,246.1"/><path d="M31.0,250.9 L36.2,249.2 L41.2,249.0 L44.6,249.8 L48.1,250.9 L52.2,252.0 L55.9,253.3 L60.9,254.8 L65.4,253.9 L68.7,252.6 L72.6,249.7 L76.5,251.0 L80.7,251.7 L83.7,249.4"/><path d="M28.7,255.4 L32.4,253.5 L35.7,253.4 L39.7,254.1 L44.3,256.5 L47.9,256.6 L52.4,255.1 L54.9,254.3 L58.4,252.9 L62.0,255.8 L65.5,257.6 L68.9,258.1 L72.7,257.2 L76.1,255.2 L78.5,254.4 L81.5,254.4 L86.6,256.5"/><path d="M28.1,252.4 L32.5,251.7 L35.8,250.6 L38.3,249.3 L42.0,246.9 L45.8,248.6 L48.8,250.4 L52.9,251.0 L56.5,252.0 L62.0,250.3 L66.1,249.6 L71.3,248.0 L75.1,247.7 L78.6,248.1 L80.9,249.4 L83.4,250.2 L85.6,248.8"/><path d="M30.7,254.0 L33.9,253.2 L40.0,254.0 L43.1,253.6 L44.9,254.3 L48.9,253.6 L54.1,251.7 L57.7,251.1 L61.4,250.2 L63.8,251.0 L67.8,250.2 L70.5,251.7 L73.8,254.8 L78.6,255.5 L83.2,252.7 L84.1,250.0"/><path d="M59.4,272.1 L57.4,268.4 L55.3,264.6 L54.0,261.7 L51.6,257.4 L56.0,260.0 L59.6,261.7 L63.7,262.9 L67.9,264.3 L71.9,264.3 L75.0,263.9 L77.9,263.6 L81.1,262.1 L83.7,259.7 L81.8,259.6 L79.0,259.7 L77.2,259.9 L74.4,260.5 L71.3,260.4 L67.5,259.2 L64.6,260.0 L61.1,259.3 L55.7,258.9 L53.0,259.0 L48.6,258.4 L44.9,258.4 L40.6,258.1 L34.9,257.5 L30.2,257.4 L32.5,256.8 L36.0,256.6 L39.0,255.1 L43.0,255.3 L46.3,254.7 L48.9,253.2 L52.2,254.7 L57.1,253.9 L59.8,254.6 L62.5,254.5 L67.2,255.2 L71.0,256.3 L75.3,257.2 L78.7,257.5 L83.4,259.2 L86.5,260.4 L82.9,262.1 L78.8,263.3 L76.1,265.4 L71.7,266.6 L69.4,268.8 L66.4,270.6 L62.7,272.2 L59.6,273.7 L55.8,275.3"/><path d="M61.0,274.1 L59.2,270.0 L57.6,266.4 L57.8,262.8 L58.8,259.3 L61.2,255.5 L64.3,251.6 L70.7,251.6 L68.1,254.5 L66.2,257.4 L62.8,259.5 L60.7,261.5 L60.2,264.0 L58.7,269.2 L58.3,275.3"/><path d="M55.3,276.1 L57.4,272.7 L60.0,268.2 L61.9,265.7 L63.4,261.5 L65.3,258.8 L69.8,259.2 L74.8,260.6 L78.6,261.6 L82.0,263.5 L80.4,261.3 L78.0,259.1 L74.5,256.1 L72.3,253.8 L68.1,252.9 L65.5,249.6 L62.3,247.1 L58.8,246.0 L55.5,248.3 L51.3,252.5 L49.0,255.1 L46.1,257.6 L43.7,260.3 L40.8,262.1 L38.2,263.4 L41.1,264.9 L44.6,267.4 L48.1,269.4 L51.4,271.5 L56.1,273.7"/><path d="M58.7,275.2 L56.2,271.6 L55.1,267.8 L53.8,264.9 L51.6,261.0 L49.9,257.4 L49.3,254.0 L48.4,250.6 L51.1,252.7 L55.9,253.4 L58.5,255.4 L62.0,256.3 L66.3,256.3 L64.0,254.5 L61.1,252.2 L58.8,252.2 L55.6,249.5 L52.1,248.2 L49.1,247.6 L45.0,247.6 L40.8,247.3 L35.6,246.8 L31.6,247.4 L26.3,248.2 L31.6,248.2 L36.8,247.5 L40.5,247.0 L45.5,247.2 L50.3,246.6 L54.2,246.2 L57.9,247.3 L60.8,246.8 L63.5,245.7 L66.2,246.6 L68.9,246.2 L70.5,247.3 L72.5,246.5 L70.8,249.0 L68.2,252.3 L66.5,255.7 L64.9,259.3 L62.9,263.0 L59.8,266.2 L59.1,270.9"/><path d="M62.7,274.2 L63.7,272.9 L64.9,271.9 L67.1,268.8 L68.2,267.1 L70.9,264.6 L73.3,260.6 L76.9,258.2 L79.6,254.0 L83.1,249.9 L87.3,245.2 L84.6,245.7 L82.2,247.2 L79.1,247.5 L76.1,249.0 L71.7,248.8 L69.2,248.7 L65.3,249.6 L61.3,249.2 L56.9,249.2 L52.6,248.7 L49.2,250.5 L43.3,249.0 L36.8,249.4 L37.6,248.9 L39.1,251.4 L41.6,252.7 L41.9,255.8 L45.9,259.6 L47.9,261.3 L51.3,265.2 L54.7,270.2 L58.8,274.5"/><path d="M56.4,271.7 L60.1,270.3 L62.3,268.5 L65.0,265.8 L67.4,263.0 L70.0,260.2 L71.3,257.9 L73.9,254.5 L75.7,251.0 L77.6,247.4 L78.7,243.3 L76.6,247.7 L77.1,252.5 L76.9,257.3 L78.1,259.5 L77.2,262.6 L76.5,264.9 L73.0,267.0 L69.2,268.4 L64.6,270.1 L58.4,272.4"/><path d="M59.9,272.4 L64.4,269.9 L66.6,266.3 L69.3,263.3 L71.5,259.9 L72.4,257.0 L74.1,253.5 L74.1,249.3 L73.4,245.5 L77.9,245.3 L81.4,245.8 L85.3,247.9 L89.0,252.6 L82.8,253.2 L77.5,253.7 L73.1,253.6 L69.1,253.5 L63.8,254.0 L60.4,254.4 L55.7,253.9 L52.5,254.5 L49.0,255.0 L45.6,256.1 L43.7,256.1 L40.5,256.7 L39.4,257.7 L36.5,258.1 L35.2,258.2 L36.3,261.1 L39.0,263.6 L42.2,265.7 L44.8,267.1 L49.7,269.3 L52.6,270.4 L56.9,271.8"/><path d="M60.8,273.2 L58.9,269.5 L57.4,266.3 L56.5,262.5 L55.8,257.9 L54.7,254.4 L56.6,253.4 L58.4,254.0 L61.6,252.9 L64.7,250.9 L67.9,249.3 L72.4,246.6 L76.8,243.3 L72.9,245.5 L70.3,247.1 L66.9,249.8 L63.0,252.4 L62.8,254.8 L60.4,258.6 L58.5,261.3 L58.5,264.7 L57.1,268.4 L56.9,272.2"/><path d="M57.0,281.5 L53.7,280.3 L50.3,279.5 L47.9,279.9 L43.0,279.6 L40.8,279.7 L36.9,280.6 L32.1,281.2 L28.4,282.5 L27.6,287.4 L27.3,291.0 L26.9,294.1 L26.9,297.9 L27.4,300.5 L31.9,300.7 L35.4,301.5 L39.0,301.2 L42.5,302.0 L47.3,302.9 L51.1,302.4 L55.0,302.5 L54.9,299.7 L55.3,295.9 L56.0,290.0"/><path d="M59.0,285.5 L62.7,286.3 L65.3,286.0 L69.8,287.1 L73.3,287.0 L76.9,286.5 L80.4,286.0 L85.5,284.9 L88.6,283.5 L87.9,284.9 L87.9,287.2 L86.4,292.2 L86.9,295.3 L85.6,301.5 L82.2,301.2 L79.1,301.6 L75.7,302.3 L71.8,301.1 L66.2,300.3 L62.0,300.5 L60.7,296.7 L60.0,293.0"/><path d="M56.4,310.3 L54.5,313.1 L54.8,318.0 L53.0,321.0 L50.4,325.0 L49.0,328.4 L47.2,331.1 L45.0,333.3 L49.7,334.0 L54.5,333.4 L58.4,333.3 L63.2,333.3 L66.8,333.5 L69.8,332.9 L73.1,333.1 L76.5,331.7 L79.9,331.2 L82.5,330.3 L84.8,330.4 L87.5,330.0 L84.2,327.5 L82.5,326.4 L79.8,323.5 L77.4,321.3 L73.9,319.6 L70.9,317.3 L67.4,316.9 L64.4,314.5 L61.4,313.6 L57.1,312.5 L53.4,311.1 L49.6,310.2 L45.8,308.9 L41.4,308.7 L38.5,310.5 L36.8,312.3 L34.7,315.7 L33.5,319.4 L30.7,322.9 L29.2,327.6 L26.9,332.2 L30.3,330.0 L31.8,327.5 L34.4,326.2 L37.5,323.4 L40.6,321.1 L43.3,319.3 L46.1,316.4 L49.3,314.3 L50.9,312.3 L54.8,309.7 L57.6,308.5 L60.5,306.0"/><path d="M59.9,303.8 L62.9,306.4 L66.3,309.6 L64.3,313.0 L63.0,315.6 L60.0,318.7 L59.0,321.6 L56.7,324.9 L54.4,327.6 L51.0,329.3 L47.2,331.7 L43.6,333.8 L45.9,331.3 L47.7,327.9 L50.0,323.4 L50.3,321.9 L53.4,317.8 L55.1,315.3 L56.8,312.6 L58.9,309.1 L60.1,305.3"/><path d="M60.3,307.9 L57.5,310.0 L54.4,311.5 L51.7,313.8 L49.4,315.6 L45.3,316.2 L41.8,319.1 L39.2,320.6 L35.9,322.8 L32.7,324.2 L30.9,326.2 L26.4,328.0 L31.4,328.1 L35.2,327.6 L38.9,326.7 L43.5,326.0 L46.9,326.5 L50.4,324.6 L54.5,323.1 L57.6,321.9 L61.1,321.5 L64.9,319.6 L68.0,319.9 L71.5,317.9 L74.5,316.5 L76.9,314.2 L79.8,312.2 L81.9,309.9 L84.9,309.0 L80.7,311.3 L77.8,312.4 L73.8,315.1 L70.0,317.2 L66.5,318.5 L63.1,320.3 L59.8,323.0 L56.0,323.8 L52.5,325.3 L49.9,327.1 L46.4,328.9 L43.3,331.1 L41.4,332.0 L37.7,332.8 L35.4,334.7 L32.1,335.3 L30.1,337.4 L33.8,336.1 L37.1,332.5 L40.5,330.5 L43.2,328.6 L45.5,326.8 L48.8,323.3 L50.6,320.9 L53.1,318.3 L55.3,314.7 L56.1,311.5 L57.6,308.3 L58.4,305.2"/><path d="M57.9,307.2 L57.5,309.7 L57.0,313.1 L57.5,315.4 L57.9,319.7 L57.9,324.1 L60.1,330.0 L61.2,334.9 L60.3,330.7 L58.4,326.0 L56.6,322.7 L56.0,319.1 L56.2,314.2 L55.7,311.1 L57.3,306.4"/><path d="M59.1,307.0 L56.5,309.5 L53.2,314.0 L50.4,315.8 L48.8,320.2 L46.5,322.1 L43.6,324.7 L41.5,327.5 L38.7,330.4 L42.2,329.5 L45.0,329.2 L48.0,327.7 L51.7,326.3 L54.2,324.9 L58.2,324.6 L62.1,322.9 L65.2,322.3 L69.7,321.6 L73.2,320.7 L76.9,319.8 L80.9,319.1 L78.3,316.3 L73.9,313.7 L70.7,311.9 L67.0,309.7 L63.7,309.4 L60.1,308.9 L57.1,307.5"/><path d="M58.6,304.2 L58.4,307.1 L57.9,310.4 L59.0,314.4 L59.4,318.4 L60.5,322.0 L62.1,326.6 L63.4,330.8 L59.0,328.1 L56.8,325.7 L53.7,322.5 L51.7,319.5 L46.1,319.4 L42.1,317.8 L38.0,317.1 L36.2,315.1 L34.3,312.1 L31.0,316.0 L29.6,318.8 L25.9,322.1 L29.5,321.1 L32.4,318.5 L35.4,317.3 L38.8,315.5 L42.7,313.5 L45.0,311.9 L48.8,311.3 L53.7,309.7 L57.1,309.0 L60.2,307.4"/><path d="M59.4,307.1 L59.1,310.5 L59.4,312.8 L60.3,316.9 L60.1,321.3 L60.5,324.8 L61.3,328.4 L62.6,331.8 L62.3,335.2 L58.3,335.9 L55.8,335.2 L51.5,334.3 L47.6,332.5 L43.0,331.2 L41.8,331.9 L39.6,332.1 L35.3,330.5 L30.8,328.6 L25.6,327.9 L28.9,328.0 L32.6,330.1 L36.3,330.9 L40.9,333.3 L43.8,335.4 L46.8,329.7 L48.9,326.4 L51.3,320.8 L53.2,318.4 L55.0,314.3 L56.7,311.8 L58.8,309.4 L59.6,307.5 L59.4,306.8"/><path d="M57.1,306.9 L55.9,309.9 L53.6,312.5 L52.8,315.7 L50.8,318.7 L48.9,322.4 L46.6,325.3 L44.2,328.9 L42.3,331.6 L38.8,334.2 L36.1,337.4 L38.1,332.9 L40.5,329.5 L41.3,326.0 L43.3,323.1 L45.2,322.4 L49.0,320.3 L52.1,319.3 L54.8,318.0 L57.5,317.7 L60.7,317.0 L64.4,316.5 L69.2,317.4 L72.2,316.6 L76.0,316.8 L80.9,316.6 L85.5,317.0 L82.5,317.7 L78.4,318.1 L74.9,319.2 L72.7,319.7 L69.1,320.8 L64.5,321.9 L61.6,323.0 L57.8,322.8 L54.8,323.0 L50.5,325.3 L47.1,325.8 L42.3,325.5 L39.5,327.0 L34.6,328.0 L31.5,328.0 L27.3,329.2 L29.2,328.6 L32.0,329.5 L34.4,327.8 L36.9,326.5 L39.9,324.8 L42.7,321.7 L45.9,318.8 L49.8,315.3 L53.7,310.5 L57.7,306.2"/><path d="M58.4,304.0 L57.9,299.4 L57.5,295.4 L55.6,292.8 L53.4,289.6 L50.7,287.3 L47.1,288.8 L43.8,289.3 L40.5,288.7 L36.4,288.3 L32.9,286.7 L28.7,285.1 L34.2,286.3 L38.9,287.0 L43.8,288.1 L46.8,289.0 L51.8,289.4 L55.4,289.6 L58.3,290.3 L61.0,290.2 L63.4,289.2 L64.8,288.8 L60.4,292.1 L57.7,294.5 L55.7,297.5 L56.2,301.0 L56.3,304.2"/><path d="M57.2,297.8 L55.9,294.0 L57.3,290.5 L60.8,284.8 L56.0,282.9 L52.2,280.9 L48.4,279.3 L44.2,278.5 L41.0,278.7 L44.8,281.4 L46.3,284.7 L48.1,288.6 L46.8,293.1 L46.0,298.3 L43.3,303.1 L47.8,301.6 L51.9,301.0 L55.2,299.5"/><path d="M54.3,283.0 L53.4,285.4 L51.3,287.8 L48.5,290.7 L45.6,292.7 L41.5,295.6 L37.0,297.9 L41.0,298.1 L45.8,298.7 L49.6,298.4 L53.1,299.3 L56.9,299.9 L59.9,300.6 L63.3,301.4 L59.3,297.3 L56.9,295.7 L52.3,292.3 L49.7,289.6 L46.9,286.4 L44.7,284.1 L42.4,281.4 L40.9,279.2 L47.6,280.6 L51.6,281.1 L55.2,281.7 L57.9,280.5"/><path d="M54.5,271.9 L56.9,272.8 L58.7,277.6 L58.6,281.6 L61.9,285.9 L60.4,290.9 L56.6,294.1 L59.3,298.7 L59.0,302.4 L61.3,307.7"/><path d="M54.4,272.4 L58.0,277.6 L58.2,282.1 L55.9,285.9 L54.6,288.9 L53.7,294.1 L55.2,297.4 L58.8,302.4 L60.0,305.4 L62.2,309.8"/><path d="M61.1,268.9 L58.2,273.5 L57.3,277.6 L57.6,281.4 L56.8,285.9 L57.7,289.8 L58.7,294.1 L59.3,297.5 L59.0,302.4 L61.5,308.0 L59.7,312.5"/><path d="M56.1,266.7 L56.7,270.8 L55.8,274.5 L57.1,277.6 L57.0,282.1 L57.3,285.9 L58.6,289.0 L58.7,294.1 L60.3,298.0 L60.7,302.4 L60.3,306.6 L59.1,309.8 L57.1,313.2"/><path d="M52.9,268.1 L54.7,274.0 L56.7,277.6 L56.6,281.6 L55.5,285.9 L58.4,289.0 L61.1,292.0 L64.1,294.1 L62.8,297.1 L59.7,300.1 L55.7,302.4 L56.0,305.3 L58.7,311.3"/><path d="M60.4,272.2 L59.1,277.6 L59.0,281.0 L56.7,285.9 L57.6,288.8 L58.6,294.1 L57.0,298.2 L54.7,302.4 L55.0,309.3"/><path d="M59.0,269.4 L57.6,273.1 L57.7,277.6 L57.3,281.5 L57.9,285.9 L59.0,289.6 L58.7,294.1 L58.7,299.0 L56.8,302.4 L55.1,305.9 L53.1,310.1 L52.7,314.0"/><path d="M58.5,265.7 L60.4,269.1 L61.1,272.6 L61.4,277.6 L58.6,281.4 L58.4,285.9 L57.4,289.9 L55.4,294.1 L55.4,297.7 L56.6,302.4 L60.7,307.0 L63.5,309.4"/><path d="M64.6,268.6 L63.2,270.1 L60.7,274.2 L58.4,277.6 L58.4,280.8 L58.8,285.9 L58.4,290.4 L56.6,294.1 L57.5,299.7 L58.1,302.4 L57.2,305.2 L56.8,308.8 L55.4,313.9"/><path d="M63.8,266.0 L63.0,269.6 L60.5,272.8 L57.0,277.6 L57.2,282.8 L56.8,285.9 L56.5,289.9 L56.7,294.1 L58.0,299.2 L61.1,302.4 L61.8,306.2 L62.6,309.9"/></g>
<rect x="24.40" y="273.50" width="67.20" height="33.00" fill="none" stroke="#3c3c3c" stroke-width="0.9"/>
<rect x="24.40" y="241.30" width="67.20" height="32.20" fill="none" stroke="#eba847" stroke-width="1"/>
<rect x="24.40" y="306.50" width="67.20" height="32.90" fill="none" stroke="#3a87c6" stroke-width="1"/>
<circle cx="81.3" cy="251.7" r="9.299999999999999" fill="white" opacity="0.96"/>
<circle cx="35.5" cy="328" r="10.1" fill="white" opacity="0.55"/>
<circle cx="81.30" cy="251.70" r="9.70" fill="none" stroke="#eba847" stroke-width="0.9"/>
<circle cx="35.50" cy="328.00" r="10.50" fill="none" stroke="#3a87c6" stroke-width="0.9"/>
<text x="81.6" y="254.79999999999998" font-size="8.6" text-anchor="middle" font-weight="bold" fill="#2a7dc2">S</text>
<text x="34.9" y="331.1" font-size="8.6" text-anchor="middle" font-weight="bold" fill="#2a7dc2">E</text>
<clipPath id="tb2"><rect x="96.9" y="241.8" width="66.1" height="97.89999999999998"/></clipPath>
<g clip-path="url(#tb2)" fill="none" stroke="#000" stroke-width="0.34" stroke-linejoin="round"><path d="M104.1,255.9 L107.7,256.9 L113.6,257.0 L117.0,254.9 L121.5,252.7 L125.7,254.5 L129.3,253.8 L133.7,253.7 L137.0,253.6 L140.3,253.3 L144.5,253.1 L149.2,252.6 L152.1,252.9 L155.3,253.6"/><path d="M101.0,244.2 L105.9,245.9 L109.4,246.8 L112.7,249.4 L116.2,251.0 L119.6,249.7 L122.0,247.7 L125.8,247.1 L129.7,244.0 L134.1,243.6 L138.7,243.2 L141.7,244.6 L145.8,246.1 L149.3,245.4 L152.8,246.1 L155.8,246.5 L160.3,246.7"/><path d="M133.9,272.1 L137.6,270.2 L141.4,268.5 L144.0,265.9 L146.3,263.6 L150.1,261.2 L152.5,257.8 L154.1,255.6 L155.4,252.2 L158.3,248.6 L158.8,245.7 L156.5,248.5 L155.8,252.3 L153.7,256.6 L153.7,259.4 L150.0,255.5 L147.0,251.9 L143.8,250.6 L141.5,255.2 L140.4,257.6 L138.2,261.2 L135.7,264.0 L133.9,267.2 L131.1,269.1 L129.5,271.0 L127.4,273.3"/><path d="M130.9,271.2 L135.7,266.9 L140.4,264.9 L143.7,261.7 L146.0,261.3 L147.6,260.0 L150.1,258.8 L152.4,256.6 L154.5,255.8 L158.9,252.1 L162.3,249.9 L158.1,248.5 L155.4,245.8 L153.0,243.3 L151.5,245.2 L149.4,248.3 L148.1,251.3 L146.5,252.2 L144.2,255.2 L141.7,259.1 L139.7,261.2 L136.2,263.9 L134.2,267.8 L131.2,269.8 L127.6,273.9"/><path d="M129.5,275.2 L132.7,271.7 L136.1,266.6 L138.2,262.8 L141.1,259.6 L143.0,256.4 L145.4,254.1 L148.0,251.4 L150.0,248.9 L151.6,246.9 L153.5,245.0 L155.6,243.3 L160.0,246.1 L156.5,246.7 L153.0,247.7 L149.0,248.1 L145.6,249.4 L141.8,250.1 L137.8,250.9 L133.8,253.0 L132.5,255.1 L132.3,257.7 L131.1,261.2 L128.9,265.8 L127.4,270.5"/><path d="M132.0,270.9 L133.4,268.5 L135.6,265.7 L138.5,262.9 L141.2,259.6 L144.8,256.8 L148.3,253.5 L151.6,249.6 L153.6,246.3 L155.9,243.3 L152.8,244.2 L149.3,246.6 L146.8,248.7 L142.9,250.7 L145.9,248.8 L148.2,246.3 L151.6,243.3 L147.6,246.0 L144.2,249.5 L140.1,251.9 L136.2,255.2 L134.4,257.7 L131.6,260.2 L129.9,264.1 L129.7,267.1 L127.7,269.4 L128.0,272.9 L127.9,275.2"/><path d="M130.3,272.2 L131.9,270.8 L133.1,268.3 L134.4,266.8 L137.5,264.0 L140.5,261.0 L141.8,259.4 L144.5,256.4 L147.8,253.9 L150.0,250.5 L153.7,246.3 L157.2,243.3 L152.3,244.0 L147.9,245.3 L145.7,247.7 L144.2,249.0 L141.9,251.7 L139.1,255.4 L138.1,258.0 L134.6,260.9 L132.4,264.4 L129.9,268.3 L127.4,272.3"/><path d="M130.0,272.7 L132.3,267.7 L134.3,264.5 L137.7,260.1 L139.6,256.5 L142.4,254.2 L145.7,251.0 L146.9,248.5 L150.2,247.3 L152.9,245.4 L154.8,243.3 L157.7,243.3 L161.0,245.0 L157.0,245.5 L155.1,246.6 L151.8,248.2 L148.2,250.4 L146.2,253.4 L142.9,255.5 L140.4,257.9 L138.4,262.1 L135.9,265.5 L133.9,268.6 L131.7,274.0"/><path d="M129.6,272.9 L125.4,270.7 L122.0,267.6 L118.4,265.7 L115.1,263.2 L112.0,262.2 L107.8,260.4 L104.6,260.0 L101.4,259.9 L98.1,258.8 L102.4,259.4 L106.2,259.3 L110.7,259.6 L113.4,260.1 L117.4,260.5 L121.2,260.4 L125.0,261.6 L128.8,261.3 L131.5,261.7 L135.9,261.2 L138.9,261.9 L141.5,261.6 L146.4,261.6 L149.7,261.8 L152.3,261.7 L149.7,261.6 L147.5,263.1 L143.5,264.2 L139.8,265.6 L137.2,268.3 L134.1,271.5 L130.7,274.3"/><path d="M132.6,273.5 L130.6,273.5 L127.6,273.0 L125.1,272.4 L120.6,268.7 L117.1,267.1 L113.0,263.9 L117.7,261.4 L120.5,258.4 L124.4,256.2 L128.0,254.6 L131.3,252.5 L135.9,251.9 L138.9,248.9 L142.7,248.7 L146.0,247.8 L149.0,247.5 L152.3,247.4 L154.6,246.2 L158.3,247.4 L161.9,247.5 L157.5,244.9 L153.0,242.5 L149.4,241.1 L145.5,238.8 L140.3,238.7 L137.6,238.2 L134.3,239.1 L131.1,240.9 L127.4,242.3 L123.7,244.2 L121.1,247.2 L118.0,249.9 L115.6,253.7 L120.0,251.3 L123.8,250.7 L127.5,249.4 L131.1,248.2 L135.7,247.7 L138.0,247.5 L140.4,248.4 L143.4,248.1 L141.9,250.0 L140.1,253.8 L138.7,256.3 L136.4,259.8 L135.1,262.4 L133.0,265.8 L132.6,269.9 L131.5,273.8"/><path d="M132.0,304.7 L132.2,308.0 L130.1,311.7 L129.6,314.3 L127.9,317.5 L124.8,320.9 L120.5,323.2 L116.5,325.5 L111.5,328.1 L107.1,325.3 L103.2,321.8 L105.0,325.9 L107.8,323.7 L111.8,320.6 L115.8,319.0 L119.6,316.3 L121.2,314.3 L124.2,312.1 L126.1,309.3 L128.1,307.6"/><path d="M131.2,305.5 L129.9,307.7 L128.5,312.1 L127.2,314.9 L124.7,318.4 L121.4,321.2 L118.8,324.9 L116.1,328.2 L119.8,328.2 L123.1,329.0 L125.2,328.2 L129.5,328.7 L133.0,328.6 L137.0,329.1 L141.0,329.1 L144.5,329.1 L147.7,328.5 L151.9,328.7 L156.0,328.8 L160.7,328.4 L158.8,329.3 L155.9,327.4 L154.7,325.5 L151.6,324.6 L148.1,322.6 L145.2,320.3 L142.0,318.1 L138.2,314.5 L134.3,310.9 L129.9,307.3"/><path d="M132.3,307.7 L134.6,312.2 L137.7,315.3 L141.7,317.8 L143.4,322.5 L145.9,324.5 L150.0,326.8 L151.6,330.6 L154.9,331.9 L157.5,334.3 L159.3,334.9 L162.3,336.2 L158.0,338.4 L152.6,339.3 L149.2,340.8 L144.5,341.2 L140.0,341.0 L136.8,340.7 L132.9,340.4 L128.4,339.5 L125.7,337.2 L123.0,334.2 L120.2,332.0 L117.7,329.2 L114.0,325.8 L112.0,321.7 L115.3,319.7 L118.4,316.5 L121.7,314.4 L124.1,312.6 L127.1,310.4 L129.9,308.5"/><path d="M130.7,304.5 L133.6,308.6 L135.9,312.0 L139.1,313.7 L142.3,316.8 L137.7,319.4 L132.2,321.3 L125.9,323.8 L122.3,323.8 L118.3,324.4 L115.1,325.1 L112.3,323.6 L110.0,323.7 L107.8,322.5 L106.5,319.9 L105.9,325.1 L103.1,327.7 L98.7,329.4 L100.5,329.1 L104.3,328.0 L107.2,329.3 L112.9,329.7 L116.5,331.3 L117.9,328.7 L120.1,325.7 L120.5,323.0 L122.8,320.2 L124.5,317.6 L126.8,313.5 L128.5,310.1 L130.3,306.7"/><path d="M128.3,306.8 L126.7,310.1 L123.6,312.5 L123.6,316.5 L120.2,320.0 L118.9,323.6 L116.9,327.0 L114.9,329.9 L113.6,332.9 L110.7,335.4 L113.0,335.2 L113.7,335.4 L116.4,333.3 L120.0,331.5 L122.7,330.8 L126.6,329.1 L130.9,327.1 L135.4,325.4 L140.1,323.5 L145.3,321.4 L141.7,317.4 L139.3,314.7 L135.9,312.5 L135.4,310.0 L131.6,313.9 L132.9,308.0"/><path d="M135.0,307.0 L132.3,309.9 L129.4,312.4 L126.3,314.8 L124.1,318.3 L120.5,319.9 L118.2,323.4 L115.6,325.8 L113.5,327.2 L109.9,330.2 L107.5,331.9 L104.6,334.0 L102.7,335.8 L99.9,337.4 L107.5,337.7 L112.2,336.6 L114.6,336.5 L117.1,334.5 L116.0,332.3 L114.5,329.2 L112.6,327.4 L109.8,323.2 L106.9,318.7 L103.4,314.4 L108.1,313.3 L111.5,311.7 L115.6,310.8 L119.1,309.4 L122.2,308.0 L124.9,305.1 L129.0,306.4 L130.5,303.7"/><path d="M129.3,287.6 L133.1,284.1 L135.9,280.1 L137.6,276.6 L133.9,277.9 L129.6,279.0 L126.4,280.2 L122.2,281.5 L118.9,282.6 L115.5,283.8 L112.1,284.7 L108.3,284.0 L104.9,284.5 L101.7,284.7 L98.0,284.8 L101.8,283.3 L105.6,283.3 L108.2,283.3 L112.0,282.9 L116.0,281.3 L119.5,281.7 L122.6,281.6 L126.3,281.8 L129.7,281.9 L133.1,281.8 L137.2,282.1 L141.4,282.1 L145.0,282.4 L142.6,285.1 L138.6,289.1 L134.9,288.8 L130.9,289.9"/><path d="M128.2,291.2 L133.6,291.0 L137.5,290.3 L141.2,288.8 L144.8,288.6 L147.0,287.2 L142.5,287.1 L139.1,284.0 L135.6,282.7 L131.8,282.4 L128.1,280.3 L124.2,280.8 L120.2,280.1 L118.4,280.1 L114.1,279.5 L111.2,279.4 L107.9,279.1 L104.6,279.8 L104.8,283.4 L104.6,286.6 L104.5,290.8 L103.5,295.3 L101.8,299.5 L102.2,297.8 L105.1,296.0 L108.0,293.4 L111.4,292.0 L115.9,290.7 L120.9,287.8 L126.7,287.2"/><path d="M129.5,290.0 L129.8,286.2 L129.5,292.1 L128.5,296.1 L127.1,298.1 L124.4,296.3 L121.2,294.9 L117.1,293.1 L114.4,290.7 L118.3,288.4 L122.4,288.0 L126.8,285.9"/><path d="M133.4,290.6 L128.7,288.1 L125.5,286.8 L122.6,285.3 L119.3,283.4 L116.3,282.8 L121.7,282.4 L125.6,283.2 L129.2,283.5 L127.7,288.0 L126.4,291.2 L125.1,294.8 L128.5,292.4 L132.3,290.8"/><path d="M129.1,291.8 L133.3,293.7 L137.3,295.1 L141.6,297.5 L144.3,299.3 L147.7,301.0 L150.5,300.8 L150.0,301.1 L145.4,298.9 L142.1,298.4 L136.4,297.8 L133.9,295.9 L132.2,294.9"/><path d="M131.8,269.8 L130.3,274.4 L128.8,277.6 L127.5,282.5 L125.5,285.9 L127.1,289.9 L129.3,294.1 L129.7,299.6 L131.1,302.4 L130.7,306.4 L130.3,310.9 L129.5,314.4"/><path d="M131.7,265.7 L129.5,268.9 L129.9,271.7 L128.2,277.6 L128.5,282.9 L130.9,285.9 L131.6,290.0 L130.0,294.1 L131.9,298.1 L132.6,302.4 L129.9,306.3 L129.7,309.9 L130.8,314.1"/><path d="M131.5,270.9 L131.4,277.6 L129.2,281.4 L128.5,285.9 L129.1,289.2 L130.3,294.1 L129.1,297.8 L126.4,302.4 L125.9,305.9 L125.3,309.7 L125.3,313.2"/><path d="M130.9,269.8 L129.5,273.4 L129.8,277.6 L130.2,282.5 L127.8,285.9 L129.7,291.2 L131.6,294.1 L131.0,298.0 L130.5,302.4 L129.7,306.4 L129.8,310.4"/><path d="M134.8,268.0 L132.8,272.4 L130.7,274.9 L128.2,277.6 L130.8,282.2 L132.1,285.9 L129.8,289.7 L128.8,294.1 L126.9,298.4 L125.2,302.4 L128.2,303.7 L131.8,308.0 L134.8,312.6"/><path d="M132.7,268.8 L132.1,274.0 L131.5,277.6 L132.1,282.0 L133.7,285.9 L131.0,288.4 L129.4,291.9 L126.6,294.1 L131.2,297.8 L133.0,302.4 L132.4,305.8 L132.2,311.2"/><path d="M128.6,266.2 L129.6,270.8 L129.7,275.4 L128.6,277.6 L130.4,281.2 L130.2,285.9 L130.8,288.5 L131.8,294.1 L131.9,300.2 L131.2,302.4 L130.7,304.9 L130.8,310.2"/><path d="M133.8,271.0 L132.1,277.6 L130.0,281.8 L129.6,285.9 L128.0,290.0 L126.3,294.1 L128.2,298.1 L128.5,302.4 L128.0,306.0 L128.9,311.6"/><path d="M136.6,269.1 L134.7,272.3 L132.3,274.9 L129.7,277.6 L130.9,281.9 L129.8,285.9 L130.0,290.2 L128.9,294.1 L129.4,298.1 L127.7,302.4 L128.9,309.2 L128.1,312.5"/><path d="M129.8,265.7 L130.3,269.9 L128.7,273.7 L130.1,277.6 L129.8,281.7 L127.9,285.9 L130.3,288.8 L132.2,294.1 L130.1,296.7 L128.4,302.4 L128.6,305.2 L129.4,311.6"/><path d="M129.0,266.0 L130.9,271.5 L132.5,274.8 L132.1,277.6 L130.8,281.1 L128.8,285.9 L129.1,289.8 L131.7,294.1 L130.8,297.9 L128.2,302.4 L131.4,304.2 L134.1,309.9"/></g>
<rect x="96.40" y="273.50" width="67.10" height="33.00" fill="none" stroke="#3c3c3c" stroke-width="0.9"/>
<rect x="96.40" y="241.30" width="67.10" height="32.20" fill="none" stroke="#eba847" stroke-width="1"/>
<rect x="96.40" y="306.50" width="67.10" height="33.70" fill="none" stroke="#3a87c6" stroke-width="1"/>
<circle cx="152.7" cy="251.2" r="9.799999999999999" fill="white" opacity="0.96"/>
<circle cx="106.5" cy="330" r="9.6" fill="white" opacity="0.96"/>
<circle cx="152.70" cy="251.20" r="10.20" fill="none" stroke="#eba847" stroke-width="0.9"/>
<circle cx="106.50" cy="330.00" r="10.00" fill="none" stroke="#3a87c6" stroke-width="0.9"/>
<path d="M146.61,245.71 A8.2,8.2 0 0 0 154.40,259.22" fill="none" stroke="#000" stroke-width="3"/>
<path d="M147.25,261.44 A11.6,11.6 0 0 0 160.90,259.40" fill="none" stroke="#000" stroke-width="2"/>
<text x="153.0" y="254.29999999999998" font-size="8.6" text-anchor="middle" font-weight="bold" fill="#2a7dc2">S</text>
<text x="105.9" y="333.1" font-size="8.6" text-anchor="middle" font-weight="bold" fill="#2a7dc2">E</text>
<clipPath id="tb3"><rect x="271.9" y="394.5" width="68.60000000000002" height="100"/></clipPath>
<g clip-path="url(#tb3)" fill="none" stroke="#000" stroke-width="0.34" stroke-linejoin="round"><path d="M276.7,398.5 L279.8,398.1 L281.6,397.8 L287.2,398.8 L291.8,399.3 L295.2,400.8 L299.1,401.0 L302.4,402.8 L305.4,403.7 L307.6,402.1 L310.7,400.7 L314.6,399.8 L317.9,399.5 L324.1,399.8 L329.0,401.3"/><path d="M278.4,400.5 L282.8,402.2 L285.9,404.1 L289.4,404.3 L292.2,402.7 L295.4,400.7 L299.0,401.7 L304.2,402.3 L309.7,404.3 L313.0,404.0 L317.2,404.3 L320.9,402.5 L325.7,401.1 L330.6,400.3 L334.1,400.5 L337.4,399.7"/><path d="M276.9,406.0 L281.9,406.9 L286.1,407.5 L289.5,407.6 L293.6,406.5 L296.3,405.5 L300.6,404.7 L303.7,405.3 L307.1,404.0 L311.3,405.2 L317.6,405.1 L322.9,404.3 L327.4,402.4 L332.2,402.1 L334.4,401.7"/><path d="M276.1,409.5 L281.2,409.3 L286.4,407.5 L290.2,405.3 L294.0,404.3 L297.3,404.9 L302.6,405.8 L307.1,407.7 L311.2,406.8 L315.9,405.2 L319.7,404.9 L323.6,404.1 L326.7,403.3 L331.2,404.1 L335.3,407.7"/><path d="M307.5,425.7 L306.7,422.3 L306.7,418.4 L305.7,415.9 L302.8,411.9 L301.7,406.9 L299.8,402.8 L302.8,400.6 L305.7,398.1 L308.5,397.4 L312.5,397.2 L315.1,396.7 L318.9,395.1 L323.2,396.1 L326.7,395.4 L331.4,395.7 L335.1,396.8 L332.4,399.4 L327.4,399.0 L321.3,398.6 L316.1,399.9 L312.1,401.2 L307.8,401.8 L303.7,403.9 L301.0,406.1 L297.8,408.3 L296.6,409.9 L294.1,411.9 L296.1,416.9 L298.2,420.8 L301.0,423.1 L303.3,425.5 L305.4,427.1"/><path d="M307.1,430.1 L306.1,427.9 L303.8,424.2 L302.4,422.0 L300.6,417.7 L299.0,414.7 L297.7,412.4 L296.0,409.2 L294.0,405.0 L292.8,402.3 L291.2,397.9 L297.8,397.6 L301.9,399.0 L306.8,398.7 L312.7,399.1 L316.2,400.2 L319.9,399.6 L324.2,399.5 L327.7,398.9 L330.2,399.5 L333.2,399.4 L335.8,399.2 L337.4,398.9 L339.8,398.6 L335.8,399.0 L330.8,400.4 L325.8,400.1 L321.5,400.8 L318.3,401.1 L314.6,400.8 L311.3,400.6 L308.4,401.7 L304.1,400.3 L302.2,400.0 L300.0,400.4 L303.5,401.1 L305.1,402.4 L308.9,402.3 L313.0,402.0 L316.9,401.4 L320.4,399.9 L325.3,398.1 L330.7,396.0 L327.5,398.4 L325.6,400.7 L324.1,402.6 L321.0,406.0 L318.6,408.3 L317.2,411.4 L315.6,415.1 L313.9,418.0 L312.0,421.2 L310.5,424.8 L308.9,428.0"/><path d="M304.3,428.8 L307.5,426.9 L310.0,424.7 L313.6,422.7 L315.4,420.8 L319.3,418.4 L321.6,416.1 L324.8,413.7 L327.7,411.7 L330.4,409.6 L332.7,406.8 L335.6,404.2 L337.0,406.8 L332.8,411.0 L330.6,414.7 L327.6,418.4 L324.4,420.0 L322.3,423.1 L319.5,424.6 L316.2,426.3 L313.6,427.6 L310.9,428.2 L308.1,428.6"/><path d="M307.8,427.2 L308.7,423.4 L308.3,417.8 L311.1,413.0 L311.8,409.9 L312.2,405.9 L315.2,403.8 L317.2,400.9 L319.2,399.3 L321.8,396.4 L325.2,396.0 L322.3,397.1 L318.4,399.2 L315.8,401.1 L312.7,402.2 L308.5,401.8 L305.3,402.2 L300.3,400.6 L296.5,400.1 L297.4,404.7 L298.2,408.0 L298.8,410.8 L300.2,415.1 L301.8,417.5 L303.9,420.4 L304.3,424.1 L307.5,426.3"/><path d="M303.2,429.4 L299.4,427.9 L295.1,427.2 L292.9,425.9 L289.0,425.0 L285.2,424.2 L282.2,424.5 L278.5,424.6 L281.0,421.2 L283.7,418.3 L286.2,416.0 L290.3,414.6 L294.3,412.2 L298.0,411.4 L302.4,410.2 L305.4,408.7 L309.3,407.6 L312.8,406.9 L315.9,406.6 L320.0,405.8 L322.7,405.8 L326.9,406.4 L329.6,406.9 L334.0,408.4 L336.6,408.9 L332.1,410.1 L327.9,411.3 L326.4,413.5 L323.9,415.5 L320.7,417.1 L317.8,419.3 L314.9,420.4 L310.6,423.1 L307.6,423.1"/><path d="M308.9,461.3 L305.6,464.2 L302.4,467.6 L298.4,468.2 L295.9,471.3 L292.6,473.2 L288.1,475.8 L287.0,476.4 L282.6,478.6 L279.3,480.6 L278.4,480.7 L275.6,481.8 L280.4,481.3 L283.8,480.5 L287.8,479.0 L291.8,477.9 L295.2,477.7 L299.1,476.1 L302.7,476.3 L306.0,476.0 L309.7,475.1 L312.7,473.8 L317.0,473.8 L318.7,473.6 L320.8,470.1 L321.4,466.6 L322.8,463.7 L317.5,462.5 L311.8,462.4 L309.0,461.8"/><path d="M306.2,462.7 L303.4,465.5 L300.6,467.2 L296.6,470.2 L293.7,473.9 L291.6,477.6 L287.9,480.0 L287.1,481.3 L284.6,485.3 L282.4,487.8 L279.3,490.4 L276.8,492.7 L276.0,492.8 L278.5,490.5 L280.8,489.1 L282.8,487.1 L285.5,483.7 L288.7,481.9 L291.8,480.2 L294.2,476.4 L297.2,473.6 L299.7,471.4 L303.4,468.1 L306.5,464.1 L308.8,461.3"/><path d="M307.8,462.3 L303.5,464.4 L298.1,466.7 L294.6,469.1 L292.4,471.7 L290.1,472.8 L294.9,472.0 L299.2,471.0 L303.1,470.1 L308.2,469.1 L310.8,467.7 L314.7,466.2 L316.6,465.9 L321.5,467.9 L324.3,469.7 L328.1,472.8 L331.4,474.5 L333.5,476.9 L334.9,480.1 L337.5,483.2 L335.8,483.2 L333.4,481.6 L330.9,479.9 L327.8,480.5 L325.4,478.5 L321.6,478.1 L318.7,477.4 L315.0,476.5 L311.1,476.2 L307.4,475.7 L302.6,474.1 L297.6,473.9 L293.7,474.2 L288.4,473.9 L292.2,472.4 L295.8,470.4 L299.7,468.0 L303.0,465.9 L306.3,463.9 L309.1,462.2"/><path d="M307.8,459.9 L307.6,462.9 L308.0,466.5 L306.7,469.7 L305.8,471.8 L305.1,476.2 L301.7,478.9 L300.4,482.5 L297.9,485.5 L294.8,489.0 L291.5,492.1 L291.5,489.0 L291.4,486.9 L291.6,482.3 L289.3,478.9 L288.0,474.2 L292.1,471.5 L296.5,469.7 L299.4,466.8 L301.9,465.4 L304.3,463.7 L306.9,462.1"/><path d="M308.6,462.1 L305.5,465.6 L303.6,467.7 L301.8,472.4 L300.7,474.6 L300.7,478.6 L303.7,482.0 L301.9,483.4 L300.7,483.5 L298.2,483.2 L294.4,483.6 L288.1,483.2 L283.6,482.9 L276.4,481.5 L278.2,484.3 L280.7,487.5 L283.8,490.7 L287.1,493.0 L287.5,487.8 L286.8,483.4 L287.4,479.6 L288.3,476.2 L289.3,472.0 L291.0,469.0 L294.0,466.5 L295.8,464.3 L300.6,461.3 L302.9,460.4 L307.6,459.2"/><path d="M301.7,462.5 L298.5,465.9 L297.0,468.4 L295.0,471.4 L293.1,475.0 L290.7,478.9 L289.0,481.5 L286.9,485.4 L291.6,483.5 L296.1,481.5 L300.4,480.5 L305.3,478.6 L308.7,478.6 L311.4,478.5 L315.0,478.3 L317.5,478.6 L314.2,480.8 L310.4,482.3 L306.1,483.5 L303.0,485.1 L298.3,487.6 L296.1,489.3 L291.6,490.1 L288.9,490.5 L285.7,492.3 L282.0,492.1 L279.1,492.7 L279.8,488.7 L278.1,484.7 L276.1,480.1 L277.6,479.2 L280.2,477.2 L284.0,476.8 L285.6,474.2 L287.9,472.8 L291.9,470.5 L295.6,468.3 L297.8,466.3 L302.6,463.0 L306.4,460.6"/><path d="M304.9,460.9 L301.3,464.5 L298.6,466.1 L295.9,467.5 L293.6,469.2 L289.9,471.3 L286.8,474.0 L283.7,475.3 L279.8,478.1 L282.5,482.4 L286.3,486.2 L290.2,486.9 L294.2,486.3 L291.4,480.5 L293.8,479.0 L295.0,477.6 L297.8,476.2 L299.9,473.9 L303.2,470.6 L306.8,466.6 L310.0,463.8"/><path d="M305.3,434.8 L307.2,440.0 L308.9,444.3 L309.1,447.8 L310.0,450.1 L308.6,452.9 L305.7,453.4 L303.0,453.7 L299.5,453.0 L296.3,453.5 L291.6,453.2 L287.9,453.4 L283.3,452.3 L286.9,451.6 L290.8,450.3 L293.7,449.1 L297.4,446.8 L301.8,444.8 L304.5,441.0 L307.3,437.8"/><path d="M303.6,440.1 L302.1,443.1 L300.3,448.0 L299.3,451.3 L297.0,449.9 L293.2,449.3 L288.7,447.5 L291.1,447.1 L293.3,446.2 L297.0,444.9 L301.7,442.3 L305.6,439.9"/><path d="M309.5,440.2 L304.3,440.4 L299.9,441.5 L294.3,441.4 L291.2,441.3 L285.3,442.0 L283.5,442.1 L280.0,443.1 L276.9,442.7 L274.9,443.7 L273.7,450.1 L276.3,447.9 L279.3,447.0 L282.3,445.3 L286.0,443.8 L289.3,442.9 L292.8,441.8 L297.3,440.5 L301.0,439.4 L305.6,438.4"/><path d="M305.5,444.9 L309.1,445.8 L313.1,445.6 L316.4,446.6 L312.4,444.8 L307.7,443.8 L305.5,441.7 L301.1,439.2 L298.7,438.5 L296.5,435.7 L299.7,439.6 L303.3,443.8 L305.7,444.3"/><path d="M301.7,423.7 L303.8,426.5 L305.0,431.6 L305.9,435.2 L307.4,440.0 L307.7,443.8 L306.9,448.4 L304.8,452.1 L304.1,456.8 L306.0,459.3 L307.7,463.3 L309.1,467.5"/><path d="M302.3,422.0 L304.0,426.0 L306.9,429.5 L308.9,431.6 L306.3,434.9 L304.3,440.0 L306.9,443.4 L307.1,448.4 L305.8,451.8 L302.8,456.8 L305.4,461.2 L306.3,464.9"/><path d="M305.1,424.7 L303.9,428.7 L303.9,431.6 L303.1,435.2 L302.9,440.0 L303.2,443.2 L305.4,448.4 L307.6,453.5 L308.3,456.8 L308.8,461.6 L307.6,465.0"/><path d="M311.3,423.8 L309.0,426.1 L306.8,429.1 L302.7,431.6 L304.6,436.7 L305.5,439.5 L309.3,440.0 L305.3,444.9 L303.9,448.4 L303.6,453.2 L306.0,456.8 L307.3,460.5 L309.5,462.9"/><path d="M307.9,420.2 L305.2,423.8 L304.0,427.5 L303.2,431.6 L305.4,437.5 L307.1,440.0 L304.1,443.0 L303.1,448.4 L304.7,453.2 L305.9,456.8 L302.4,462.7"/><path d="M305.9,425.4 L306.1,431.6 L306.9,436.5 L306.3,440.0 L306.5,444.8 L305.5,448.4 L305.5,453.6 L307.0,456.8 L306.9,460.7 L306.6,463.6 L306.9,468.2"/><path d="M306.5,420.5 L306.6,423.7 L306.4,427.8 L306.6,431.6 L307.7,436.0 L309.3,440.0 L309.7,444.1 L309.1,448.4 L307.1,453.1 L304.3,456.8 L302.6,461.0 L299.8,464.6 L301.1,468.7"/></g>
<path d="M325.4,417 L335.4,418" fill="none" stroke="#111" stroke-width="1.4"/>
<rect x="271.40" y="427.40" width="69.60" height="33.60" fill="none" stroke="#3c3c3c" stroke-width="0.9"/>
<rect x="271.40" y="394.00" width="69.60" height="33.40" fill="none" stroke="#eba847" stroke-width="1"/>
<rect x="271.40" y="461.00" width="69.60" height="34.00" fill="none" stroke="#3a87c6" stroke-width="1"/>
<circle cx="329.4" cy="405" r="10.0" fill="white" opacity="0.96"/>
<circle cx="284" cy="485" r="10.6" fill="white" opacity="0.96"/>
<circle cx="329.40" cy="405.00" r="10.40" fill="none" stroke="#eba847" stroke-width="0.9"/>
<circle cx="284.00" cy="485.00" r="11.00" fill="none" stroke="#3a87c6" stroke-width="0.9"/>
<path d="M276,479 C280,475 287,476 290,481 C292,485 291,489 289,492" fill="none" stroke="#111" stroke-width="1.3"/>
<text x="329.7" y="408.1" font-size="8.6" text-anchor="middle" font-weight="bold" fill="#2a7dc2">Ori</text>
<text x="283.4" y="488.1" font-size="8.6" text-anchor="middle" font-weight="bold" fill="#2a7dc2">Str</text>
<clipPath id="tb4"><rect x="345.8" y="396.0" width="68.09999999999997" height="99.5"/></clipPath>
<g clip-path="url(#tb4)" fill="none" stroke="#000" stroke-width="0.34" stroke-linejoin="round"><path d="M347.9,400.6 L351.9,400.3 L356.5,401.3 L361.1,402.0 L363.6,403.1 L365.1,403.9 L369.1,403.8 L374.1,404.3 L381.1,404.4 L384.7,402.5 L389.5,401.5 L394.5,401.4 L398.2,401.5 L402.2,400.1 L406.6,399.9"/><path d="M348.3,402.6 L352.1,403.9 L356.2,404.9 L360.1,404.6 L363.9,405.2 L368.9,403.1 L374.0,403.0 L377.4,403.0 L380.6,402.9 L384.2,403.0 L388.2,402.6 L392.1,402.4 L395.9,403.6 L400.4,403.6 L405.8,403.4"/><path d="M352.4,407.6 L357.4,405.5 L361.7,404.8 L366.3,405.9 L368.7,406.5 L372.5,406.7 L377.1,405.9 L381.5,406.2 L385.7,406.5 L390.2,406.3 L393.9,406.2 L397.1,406.3 L403.0,407.3"/><path d="M380.0,428.3 L381.2,424.0 L382.6,419.7 L383.8,416.3 L386.1,413.8 L389.2,410.0 L391.3,407.4 L394.0,406.5 L391.0,407.6 L387.6,409.0 L384.6,409.8 L381.0,411.5 L377.2,412.0 L373.8,411.9 L369.9,412.3 L367.4,411.2 L362.7,410.9 L358.8,409.8 L360.5,408.3 L363.0,406.9 L366.6,406.0 L371.0,405.7 L376.5,404.3 L382.1,402.1 L387.0,401.1 L392.1,399.5 L395.0,399.2 L397.9,399.0 L400.4,399.9 L397.2,405.4 L395.9,407.9 L392.8,412.4 L390.3,415.6 L387.5,418.6 L385.2,421.3 L383.3,424.4 L380.4,426.0 L377.6,427.5 L376.0,428.7 L373.1,429.7"/><path d="M377.6,428.1 L383.2,424.4 L387.5,421.1 L391.9,418.6 L395.3,416.1 L399.1,412.7 L402.3,410.8 L406.0,408.8 L407.2,406.9 L410.0,405.8 L411.4,405.4 L412.5,403.2 L413.2,403.2 L411.1,404.3 L408.5,405.0 L406.2,405.5 L403.7,406.3 L400.8,408.3 L396.4,407.3 L394.4,408.9 L390.2,409.4 L386.2,410.7 L381.9,411.5 L378.1,411.9 L374.5,412.4 L369.5,414.9 L364.5,415.1 L359.3,415.8 L364.4,418.2 L367.3,420.6 L369.9,419.2 L373.4,418.7 L375.8,420.6 L379.5,421.7 L383.9,423.7 L380.4,428.8"/><path d="M379.4,430.5 L378.2,430.5 L375.7,430.1 L373.6,428.2 L369.0,427.8 L364.6,427.1 L359.9,427.4 L353.7,424.6 L353.1,422.3 L351.6,420.1 L350.2,416.6 L349.9,411.9 L347.1,407.9 L351.5,409.2 L354.1,408.0 L358.6,409.1 L360.5,410.3 L365.1,411.1 L367.8,413.6 L370.6,415.1 L373.9,417.7 L376.4,420.2 L379.4,423.1 L381.8,426.8 L384.3,430.4"/><path d="M379.4,424.7 L382.3,423.2 L385.1,420.6 L388.3,419.0 L392.1,417.5 L395.3,417.7 L399.7,416.7 L397.5,416.4 L394.9,418.0 L392.3,418.4 L388.8,420.0 L384.5,420.6 L379.3,422.6 L373.7,424.9 L376.6,422.7 L379.6,420.4 L381.5,417.3 L385.6,414.9 L388.9,413.4 L391.5,411.4 L394.4,409.0 L398.5,407.3 L401.8,406.0 L397.7,407.2 L395.5,409.1 L392.5,410.9 L389.4,413.8 L387.7,415.8 L385.5,419.7 L383.7,421.6 L382.2,426.1 L380.6,430.0"/><path d="M379.8,430.5 L381.5,427.4 L382.6,423.0 L384.8,420.3 L386.1,416.3 L387.1,413.3 L388.5,410.2 L390.8,407.7 L392.5,404.6 L394.4,402.2 L392.9,404.5 L389.9,407.1 L386.0,409.6 L384.1,412.5 L380.1,414.0 L377.4,416.5 L374.4,418.8 L370.5,420.8 L371.6,420.9 L375.5,423.5 L377.3,425.8 L382.5,428.5"/><path d="M381.9,462.1 L377.3,466.3 L373.0,470.2 L369.2,473.7 L365.7,476.8 L363.8,479.8 L363.7,483.0 L363.9,486.6 L364.0,487.9 L361.4,484.0 L359.4,482.0 L356.5,479.1 L352.8,477.4 L350.2,482.9 L347.7,485.5 L347.8,485.0 L349.9,483.5 L350.8,481.2 L352.6,480.9 L354.2,478.6 L357.2,476.4 L361.7,473.5 L364.9,471.1 L370.2,468.5 L374.8,465.7 L380.9,462.3"/><path d="M378.0,467.2 L375.3,469.2 L371.3,470.7 L368.0,470.8 L363.6,471.1 L359.1,470.3 L356.0,474.3 L353.7,477.0 L351.9,480.5 L348.9,482.8 L347.8,485.4 L349.9,482.0 L350.8,477.4 L351.3,483.3 L353.2,488.1 L356.6,490.0 L359.6,492.4 L361.7,488.7 L365.0,484.7 L367.4,480.8 L369.4,478.3 L371.8,474.7 L374.1,471.8 L375.0,468.6 L378.1,465.7 L379.8,464.1"/><path d="M378.5,462.9 L374.8,465.0 L371.9,466.3 L368.0,468.9 L365.4,472.1 L365.0,475.0 L363.5,479.3 L357.9,480.9 L353.1,482.1 L348.4,481.3 L346.5,480.2 L351.5,476.7 L357.5,473.9 L361.3,471.0 L365.0,467.5 L370.1,465.5 L372.6,464.2 L373.5,462.7 L375.5,460.4 L376.1,460.2 L377.5,459.8"/><path d="M379.8,460.5 L376.2,463.9 L373.6,467.4 L370.3,471.0 L367.8,474.3 L365.9,477.7 L363.9,479.9 L363.0,483.4 L361.2,486.3 L359.6,488.5 L359.7,491.6 L359.2,494.0 L363.7,492.7 L366.9,489.5 L371.2,487.9 L375.5,486.1 L379.2,483.5 L382.0,481.6 L385.6,480.9 L389.9,479.3 L392.9,478.5 L395.9,477.5 L399.0,476.6 L400.5,476.4 L404.0,474.3 L406.9,474.7 L409.2,474.3 L407.1,476.2 L403.7,480.3 L400.5,483.4 L396.5,483.3 L393.7,483.6 L388.5,484.3 L384.9,484.3 L381.8,483.7 L381.3,482.0 L380.6,478.9 L380.7,474.2 L380.5,471.2 L380.1,467.2 L379.2,461.2"/><path d="M380.6,462.1 L384.6,465.8 L388.9,470.2 L392.1,472.4 L395.7,474.4 L399.5,477.7 L401.7,479.1 L405.1,481.3 L407.6,483.3 L409.9,483.8 L411.8,484.2 L406.9,484.8 L401.8,485.6 L397.8,484.6 L393.4,484.2 L389.4,484.4 L385.2,485.1 L382.1,484.7 L378.1,483.3 L375.1,484.2 L372.1,482.9 L368.0,481.6 L365.4,480.9 L363.2,480.1 L368.0,477.2 L370.2,474.6 L373.3,472.7 L377.6,471.3 L380.7,469.6 L384.9,467.7 L387.4,466.2 L391.4,466.1 L385.7,465.1 L381.3,464.1"/><path d="M377.8,462.6 L374.0,465.7 L371.3,467.0 L368.7,470.0 L365.3,472.8 L362.4,475.2 L359.1,476.7 L353.5,478.5 L349.7,479.4 L352.3,476.3 L357.6,475.8 L358.8,478.0 L360.0,482.2 L363.5,485.0 L367.2,488.7 L367.2,487.2 L368.9,484.9 L370.1,481.9 L371.7,478.7 L373.4,475.9 L376.3,472.8 L379.0,468.1 L381.3,464.0"/><path d="M380.2,460.6 L375.7,461.9 L370.9,464.4 L367.0,464.2 L362.5,465.3 L358.6,465.4 L355.9,465.4 L353.1,466.8 L349.6,465.9 L347.1,465.3 L351.2,469.2 L355.8,472.4 L358.4,475.9 L360.5,479.5 L364.7,481.6 L367.3,484.5 L371.0,485.3 L371.9,487.8 L375.3,488.4 L377.2,489.9 L379.1,490.0 L375.9,487.4 L372.1,486.0 L368.2,483.8 L365.1,482.3 L363.2,480.0 L359.4,478.5 L356.4,476.2 L354.9,475.1 L358.1,473.5 L361.1,470.2 L364.3,469.3 L366.4,467.1 L370.1,466.3 L374.6,465.5 L376.8,464.7 L381.4,464.6 L381.8,459.9"/><path d="M382.0,461.9 L379.4,464.4 L375.9,467.7 L374.5,471.3 L371.8,474.3 L369.7,478.3 L367.9,480.2 L365.7,483.6 L368.6,483.0 L371.5,483.1 L374.8,482.6 L378.5,481.4 L381.8,481.7 L384.8,480.1 L389.9,480.2 L392.9,479.0 L396.0,478.8 L400.7,477.6 L404.4,476.2 L401.8,473.8 L399.5,473.0 L396.6,471.4 L391.9,468.1 L388.1,466.0 L383.8,463.9"/><path d="M378.0,444.8 L376.0,449.0 L381.7,446.6 L385.1,446.7 L390.1,445.0 L394.6,445.8 L398.1,444.6 L401.9,446.4 L404.6,446.6 L408.5,447.4 L410.3,449.2 L409.5,444.8 L405.1,445.7 L401.2,444.8 L397.8,446.3 L394.1,446.5 L390.8,447.1 L387.5,446.8 L383.8,447.4 L381.4,448.2"/><path d="M380.7,449.1 L377.8,447.9 L372.3,446.0 L369.5,446.1 L365.8,445.2 L362.5,444.7 L358.8,445.5 L355.6,445.2 L359.8,445.6 L364.3,446.3 L368.7,446.6 L371.3,448.1 L375.0,449.6 L378.1,450.6 L381.6,452.2 L385.0,451.5 L388.8,452.2 L392.0,452.4 L395.5,452.9 L400.3,452.0 L403.7,452.1 L407.8,451.3 L404.7,453.0 L401.5,453.3 L397.1,453.6 L393.8,453.7 L388.8,452.4 L385.9,451.6 L381.6,449.8"/><path d="M379.2,438.1 L373.7,439.7 L369.1,438.6 L363.9,436.4 L361.1,436.5 L363.9,433.6 L366.8,433.0 L370.7,431.4 L374.2,430.4 L376.9,429.7 L380.9,429.5 L384.2,428.9 L388.5,428.2 L392.4,428.1 L396.5,429.2 L401.4,430.3 L405.0,431.5 L399.3,432.8 L393.3,434.6 L389.2,435.3 L385.5,437.1 L382.7,437.9 L380.6,441.8 L379.5,443.0"/><path d="M380.4,447.1 L384.6,447.9 L388.5,449.3 L392.1,449.6 L396.2,449.1 L398.8,448.7 L403.1,449.7 L407.2,447.3 L410.0,445.6 L404.3,446.3 L399.0,446.7 L394.6,447.2 L390.5,447.8 L386.7,449.2 L383.6,449.0 L380.1,448.7 L377.9,448.5 L375.8,448.7 L374.9,445.2 L373.3,442.0 L372.4,438.5 L374.5,443.4 L375.1,446.5"/><path d="M378.1,423.3 L380.1,428.7 L381.8,432.7 L380.7,436.9 L378.5,441.2 L378.1,445.5 L377.1,449.6 L378.8,452.8 L378.7,458.1 L382.7,458.9 L386.8,464.7"/><path d="M381.1,421.3 L378.7,424.7 L376.2,430.0 L376.7,432.7 L379.2,438.2 L382.7,441.2 L381.7,445.5 L381.3,449.6 L381.6,453.8 L381.5,458.1 L379.6,461.5 L378.3,465.9"/><path d="M382.7,423.3 L381.9,428.4 L383.9,432.7 L381.8,435.0 L378.4,437.4 L376.2,441.2 L377.8,446.0 L379.3,449.6 L381.7,454.8 L381.6,458.1 L382.0,461.0 L382.3,464.4 L381.3,469.0"/><path d="M381.4,420.6 L380.9,424.0 L380.5,427.4 L380.7,432.7 L379.2,437.6 L376.2,441.2 L373.4,445.2 L374.0,449.6 L378.2,450.6 L381.7,455.2 L384.3,458.1 L385.6,462.4 L384.8,465.6 L383.0,470.2"/><path d="M381.5,421.3 L382.2,422.8 L383.3,426.8 L382.1,432.7 L380.3,437.1 L380.5,441.2 L380.8,446.6 L383.7,449.6 L379.4,453.9 L377.5,458.1 L376.5,464.2 L374.9,468.1"/><path d="M381.5,424.1 L380.1,429.6 L378.7,432.7 L379.4,437.3 L380.2,441.2 L380.8,443.9 L381.9,449.6 L381.6,455.3 L379.8,458.1 L377.0,463.6 L376.1,467.0"/><path d="M374.7,424.0 L376.0,427.7 L377.8,429.4 L381.0,432.7 L379.7,436.3 L381.7,441.2 L380.4,445.9 L379.5,449.6 L378.3,453.7 L377.1,458.1 L380.8,461.8 L381.4,465.1"/></g>
<rect x="345.30" y="428.50" width="69.10" height="33.80" fill="none" stroke="#3c3c3c" stroke-width="0.9"/>
<rect x="345.30" y="395.50" width="69.10" height="33.00" fill="none" stroke="#eba847" stroke-width="1"/>
<rect x="345.30" y="462.30" width="69.10" height="33.70" fill="none" stroke="#3a87c6" stroke-width="1"/>
<circle cx="402.3" cy="406.1" r="9.6" fill="white" opacity="0.96"/>
<circle cx="356.5" cy="485" r="10.1" fill="white" opacity="0.96"/>
<circle cx="402.30" cy="406.10" r="10.00" fill="none" stroke="#eba847" stroke-width="0.9"/>
<circle cx="356.50" cy="485.00" r="10.50" fill="none" stroke="#3a87c6" stroke-width="0.9"/>
<text x="402.6" y="409.20000000000005" font-size="8.6" text-anchor="middle" font-weight="bold" fill="#2a7dc2">Ori</text>
<text x="355.9" y="488.1" font-size="8.6" text-anchor="middle" font-weight="bold" fill="#2a7dc2">Str</text>
<text x="57.3" y="239" font-size="10" text-anchor="middle" font-weight="normal" fill="#231f20">Pre</text>
<text x="130" y="239" font-size="10" text-anchor="middle" font-weight="normal" fill="#231f20">Post</text>
<text x="312" y="386" font-size="10" text-anchor="middle" font-weight="normal" fill="#231f20">Pre</text>
<text x="380.6" y="386" font-size="10" text-anchor="middle" font-weight="normal" fill="#231f20">Post</text>
</svg>
</body></html>
